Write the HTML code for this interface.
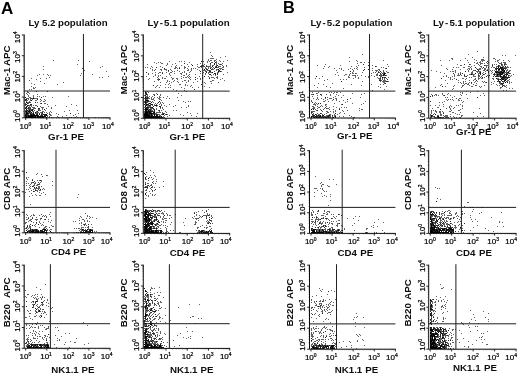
<!DOCTYPE html>
<html><head><meta charset="utf-8"><title>Figure</title>
<style>
html,body{margin:0;padding:0;background:#fff;}
body{width:520px;height:375px;overflow:hidden;}
svg{display:block;}
text{font-family:"Liberation Sans",sans-serif;fill:#111;}
.tk{font-size:8px;fill:#000;stroke:#000;stroke-width:0.22;}
.lb{font-size:9.7px;font-weight:bold;}
.tt{font-size:9.7px;font-weight:bold;}
.pn{font-size:16.2px;font-weight:bold;fill:#000;}
.ax{stroke:#0a0a0a;stroke-width:1.0;fill:none;}
.tkl{stroke:#111;stroke-width:0.9;fill:none;}
.mkl{stroke:#111;stroke-width:0.5;stroke-opacity:0.55;fill:none;}
.gt{stroke:#202020;stroke-width:1.0;fill:none;}
.dots{stroke:#000;stroke-width:1;stroke-opacity:0.62;fill:none;}
</style></head><body>
<svg width="520" height="375" viewBox="0 0 520 375">
<defs><filter id="soft" filterUnits="userSpaceOnUse" x="0" y="0" width="520" height="375"><feGaussianBlur stdDeviation="0.35"/></filter></defs>
<rect width="520" height="375" fill="#fff"/>
<g filter="url(#soft)">

<text x="0.9" y="13.6" class="pn" textLength="12.3" lengthAdjust="spacingAndGlyphs">A</text>
<text x="282.9" y="13.3" class="pn" textLength="11.8" lengthAdjust="spacingAndGlyphs">B</text>
<g>
<path class="ax" d="M24.2 34.5V117.8H110.4"/>
<path class="tkl" d="M25.70 117.8v2.2M24.2 117.80h-2.4M46.77 117.8v2.2M24.2 97.10h-2.4M67.85 117.8v2.2M24.2 76.40h-2.4M88.92 117.8v2.2M24.2 55.70h-2.4M110.00 117.8v2.2M24.2 35.00h-2.4"/>
<path class="mkl" d="M32.04 117.8v1.2M24.2 111.57h-1.2M35.76 117.8v1.2M24.2 107.92h-1.2M38.39 117.8v1.2M24.2 105.34h-1.2M40.43 117.8v1.2M24.2 103.33h-1.2M42.10 117.8v1.2M24.2 101.69h-1.2M43.51 117.8v1.2M24.2 100.31h-1.2M44.73 117.8v1.2M24.2 99.11h-1.2M45.81 117.8v1.2M24.2 98.05h-1.2M53.12 117.8v1.2M24.2 90.87h-1.2M56.83 117.8v1.2M24.2 87.22h-1.2M59.46 117.8v1.2M24.2 84.64h-1.2M61.51 117.8v1.2M24.2 82.63h-1.2M63.17 117.8v1.2M24.2 80.99h-1.2M64.59 117.8v1.2M24.2 79.61h-1.2M65.81 117.8v1.2M24.2 78.41h-1.2M66.89 117.8v1.2M24.2 77.35h-1.2M74.19 117.8v1.2M24.2 70.17h-1.2M77.91 117.8v1.2M24.2 66.52h-1.2M80.54 117.8v1.2M24.2 63.94h-1.2M82.58 117.8v1.2M24.2 61.93h-1.2M84.25 117.8v1.2M24.2 60.29h-1.2M85.66 117.8v1.2M24.2 58.91h-1.2M86.88 117.8v1.2M24.2 57.71h-1.2M87.96 117.8v1.2M24.2 56.65h-1.2M95.27 117.8v1.2M24.2 49.47h-1.2M98.98 117.8v1.2M24.2 45.82h-1.2M101.61 117.8v1.2M24.2 43.24h-1.2M103.66 117.8v1.2M24.2 41.23h-1.2M105.32 117.8v1.2M24.2 39.59h-1.2M106.74 117.8v1.2M24.2 38.21h-1.2M107.96 117.8v1.2M24.2 37.01h-1.2M109.04 117.8v1.2M24.2 35.95h-1.2"/>
<path class="gt" d="M24.2 91.0H110.0M83.45 34.0V117.8"/>
<text x="19.60" y="128.50" class="tk">10<tspan dy="-2.8" font-size="5">0</tspan></text>
<text transform="translate(20.00 122.00) rotate(-90)" class="tk">10<tspan dy="-2.8" font-size="5">0</tspan></text>
<text x="39.50" y="128.50" class="tk">10<tspan dy="-2.8" font-size="5">1</tspan></text>
<text transform="translate(20.00 102.30) rotate(-90)" class="tk">10<tspan dy="-2.8" font-size="5">1</tspan></text>
<text x="62.20" y="128.50" class="tk">10<tspan dy="-2.8" font-size="5">2</tspan></text>
<text transform="translate(20.00 82.60) rotate(-90)" class="tk">10<tspan dy="-2.8" font-size="5">2</tspan></text>
<text x="82.40" y="128.50" class="tk">10<tspan dy="-2.8" font-size="5">3</tspan></text>
<text transform="translate(20.00 62.90) rotate(-90)" class="tk">10<tspan dy="-2.8" font-size="5">3</tspan></text>
<text x="102.00" y="128.50" class="tk">10<tspan dy="-2.8" font-size="5">4</tspan></text>
<text transform="translate(20.00 43.20) rotate(-90)" class="tk">10<tspan dy="-2.8" font-size="5">4</tspan></text>
<text transform="translate(9.90 95.20) rotate(-90)" class="lb" word-spacing="-0.72" textLength="49.6" lengthAdjust="spacingAndGlyphs">Mac-1 APC</text>
<text x="48.10" y="139.70" class="lb" word-spacing="0.31" textLength="35.9" lengthAdjust="spacingAndGlyphs">Gr-1 PE</text>
<text x="28.40" y="25.9" class="tt" word-spacing="-0.10" textLength="79.2" lengthAdjust="spacingAndGlyphs">Ly 5.2 population</text>
<path class="dots" d="M31 104.5h1M30 97.5h1M33 97.5h1M27 91.5h1M25 116.5h1M50 111.5h1M30 111.5h1M28 111.5h1M30 104.5h1M28 109.5h1M33 112.5h1M35 102.5h1M42 113.5h1M27 111.5h1M32 110.5h1M28 117.5h1M33 115.5h1M26 117.5h1M26 98.5h1M36 111.5h1M32 107.5h1M45 110.5h1M29 112.5h1M30 112.5h1M36 112.5h1M30 108.5h1M25 104.5h1M28 115.5h1M34 114.5h1M31 116.5h1M38 115.5h1M25 117.5h1M33 95.5h1M28 113.5h1M38 117.5h1M41 97.5h1M45 116.5h1M26 116.5h1M28 111.5h1M27 105.5h1M35 116.5h1M36 113.5h1M26 117.5h1M35 116.5h1M26 114.5h1M26 116.5h1M33 98.5h1M42 111.5h1M49 113.5h1M31 105.5h1M37 106.5h1M32 116.5h1M33 111.5h1M26 104.5h1M47 113.5h1M33 112.5h1M33 117.5h1M25 117.5h1M35 117.5h1M35 115.5h1M35 117.5h1M30 108.5h1M37 106.5h1M39 116.5h1M31 117.5h1M40 103.5h1M31 117.5h1M32 109.5h1M26 117.5h1M27 113.5h1M43 96.5h1M32 110.5h1M25 114.5h1M37 117.5h1M30 116.5h1M51 117.5h1M33 117.5h1M34 115.5h1M29 117.5h1M25 116.5h1M29 110.5h1M44 109.5h1M27 116.5h1M49 114.5h1M25 107.5h1M33 113.5h1M26 100.5h1M27 116.5h1M39 116.5h1M49 112.5h1M31 98.5h1M38 110.5h1M35 117.5h1M29 107.5h1M45 116.5h1M41 116.5h1M28 99.5h1M32 111.5h1M35 102.5h1M35 116.5h1M26 113.5h1M25 112.5h1M38 108.5h1M37 115.5h1M28 92.5h1M31 115.5h1M28 112.5h1M25 108.5h1M32 117.5h1M36 115.5h1M35 113.5h1M27 92.5h1M27 94.5h1M30 109.5h1M27 115.5h1M30 113.5h1M50 114.5h1M37 113.5h1M30 117.5h1M32 116.5h1M30 102.5h1M35 117.5h1M42 109.5h1M36 115.5h1M36 105.5h1M40 99.5h1M27 106.5h1M31 114.5h1M37 117.5h1M31 110.5h1M45 103.5h1M26 113.5h1M30 98.5h1M28 98.5h1M35 115.5h1M29 93.5h1M33 108.5h1M49 114.5h1M40 116.5h1M35 108.5h1M36 98.5h1M30 116.5h1M28 110.5h1M28 108.5h1M26 117.5h1M46 114.5h1M31 116.5h1M28 96.5h1M37 111.5h1M30 116.5h1M33 114.5h1M47 91.5h1M27 112.5h1M33 109.5h1M26 93.5h1M29 110.5h1M31 110.5h1M28 108.5h1M25 111.5h1M28 95.5h1M41 112.5h1M37 96.5h1M30 107.5h1M27 113.5h1M45 96.5h1M37 117.5h1M29 108.5h1M44 112.5h1M26 117.5h1M26 108.5h1M25 108.5h1M26 111.5h1M29 115.5h1M26 111.5h1M39 108.5h1M25 105.5h1M30 100.5h1M27 113.5h1M33 98.5h1M25 115.5h1M30 99.5h1M51 112.5h1M35 112.5h1M28 107.5h1M39 117.5h1M31 100.5h1M27 112.5h1M41 115.5h1M26 109.5h1M39 96.5h1M43 101.5h1M34 116.5h1M28 117.5h1M43 107.5h1M26 114.5h1M29 109.5h1M37 102.5h1M34 115.5h1M33 107.5h1M32 116.5h1M27 110.5h1M31 98.5h1M38 109.5h1M27 103.5h1M39 110.5h1M50 115.5h1M33 113.5h1M28 115.5h1M29 109.5h1M32 113.5h1M30 105.5h1M42 112.5h1M34 115.5h1M28 103.5h1M25 117.5h1M28 105.5h1M38 117.5h1M29 113.5h1M47 116.5h1M33 116.5h1M36 100.5h1M39 109.5h1M25 113.5h1M34 117.5h1M26 106.5h1M33 96.5h1M39 113.5h1M30 113.5h1M28 111.5h1M37 113.5h1M30 111.5h1M27 103.5h1M29 111.5h1M31 112.5h1M26 113.5h1M33 116.5h1M51 107.5h1M29 106.5h1M26 116.5h1M38 112.5h1M27 105.5h1M26 112.5h1M26 113.5h1M25 108.5h1M29 102.5h1M32 110.5h1M28 102.5h1M38 110.5h1M32 99.5h1M29 111.5h1M31 106.5h1M37 112.5h1M28 113.5h1M31 114.5h1M27 108.5h1M28 114.5h1M33 98.5h1M31 116.5h1M48 106.5h1M26 116.5h1M44 103.5h1M43 114.5h1M40 99.5h1M41 113.5h1M29 102.5h1M41 100.5h1M31 112.5h1M31 115.5h1M28 105.5h1M34 107.5h1M26 107.5h1M40 101.5h1M42 108.5h1M42 107.5h1M28 107.5h1M39 108.5h1M44 109.5h1M26 114.5h1M29 111.5h1M31 112.5h1M35 112.5h1M29 101.5h1M37 115.5h1M33 113.5h1M40 106.5h1M37 111.5h1M40 112.5h1M31 110.5h1M41 107.5h1M41 103.5h1M41 97.5h1M27 100.5h1M46 108.5h1M38 108.5h1M31 109.5h1M35 112.5h1M37 98.5h1M37 116.5h1M31 113.5h1M31 104.5h1M33 105.5h1M42 112.5h1M35 98.5h1M26 109.5h1M35 105.5h1M30 115.5h1M25 99.5h1M47 115.5h1M32 109.5h1M37 99.5h1M33 98.5h1M26 99.5h1M45 100.5h1M46 112.5h1M29 117.5h1M34 108.5h1M33 116.5h1M29 97.5h1M40 117.5h1M43 111.5h1M42 113.5h1M40 117.5h1M26 107.5h1M30 116.5h1M37 99.5h1M41 103.5h1M34 110.5h1M35 100.5h1M44 101.5h1M26 111.5h1M31 100.5h1M32 98.5h1M47 104.5h1M30 110.5h1M26 99.5h1M34 98.5h1M40 110.5h1M29 116.5h1M44 99.5h1M30 104.5h1M30 115.5h1M37 114.5h1M32 115.5h1M45 114.5h1M32 117.5h1M29 115.5h1M26 115.5h1M32 114.5h1M46 115.5h1M30 115.5h1M35 116.5h1M46 115.5h1M25 115.5h1M31 114.5h1M43 114.5h1M27 115.5h1M45 114.5h1M43 117.5h1M28 115.5h1M38 116.5h1M37 115.5h1M40 116.5h1M32 116.5h1M33 114.5h1M30 117.5h1M31 116.5h1M29 116.5h1M44 114.5h1M44 116.5h1M33 114.5h1M40 116.5h1M36 116.5h1M31 115.5h1M33 115.5h1M46 114.5h1M32 114.5h1M37 116.5h1M45 115.5h1M31 115.5h1M42 116.5h1M28 115.5h1M41 114.5h1M42 116.5h1M43 114.5h1M46 117.5h1M40 117.5h1M46 115.5h1M31 116.5h1M36 115.5h1M30 116.5h1M27 117.5h1M34 115.5h1M40 115.5h1M42 117.5h1M26 116.5h1M45 114.5h1M30 114.5h1M31 114.5h1M43 116.5h1M44 116.5h1M41 116.5h1M32 117.5h1M35 116.5h1M43 116.5h1M33 117.5h1M42 116.5h1M42 117.5h1M35 116.5h1M44 115.5h1M33 115.5h1M41 114.5h1M39 114.5h1M32 115.5h1M36 114.5h1M38 116.5h1M37 114.5h1M28 116.5h1M46 115.5h1M46 114.5h1M26 115.5h1M45 116.5h1M36 115.5h1M28 116.5h1M42 114.5h1M34 117.5h1M40 116.5h1M43 117.5h1M37 116.5h1M26 114.5h1M43 117.5h1M40 116.5h1M44 115.5h1M31 115.5h1M42 115.5h1M44 116.5h1M33 117.5h1M34 114.5h1M32 117.5h1M25 117.5h1M30 116.5h1M32 116.5h1M27 114.5h1M41 115.5h1M34 115.5h1M37 115.5h1M31 115.5h1M33 115.5h1M41 116.5h1M35 117.5h1M38 117.5h1M34 115.5h1M37 115.5h1M44 114.5h1M31 117.5h1M36 114.5h1M40 116.5h1M27 114.5h1M45 115.5h1M36 115.5h1M30 114.5h1M38 115.5h1M39 117.5h1M29 117.5h1M38 116.5h1M33 117.5h1M27 117.5h1M28 116.5h1M35 115.5h1M31 117.5h1M41 116.5h1M28 117.5h1M25 116.5h1M46 117.5h1M32 117.5h1M36 117.5h1M30 117.5h1M30 117.5h1M34 117.5h1M42 117.5h1M26 116.5h1M43 117.5h1M46 117.5h1M37 117.5h1M33 115.5h1M30 114.5h1M29 116.5h1M32 115.5h1M43 117.5h1M25 117.5h1M42 115.5h1M39 114.5h1M26 117.5h1M27 117.5h1M41 117.5h1M39 113.5h1M32 117.5h1M43 117.5h1M30 116.5h1M34 116.5h1M28 117.5h1M27 110.5h1M25 114.5h1M26 104.5h1M26 107.5h1M26 110.5h1M26 112.5h1M25 103.5h1M25 111.5h1M29 105.5h1M26 112.5h1M26 102.5h1M26 110.5h1M26 107.5h1M27 98.5h1M27 102.5h1M26 102.5h1M25 110.5h1M25 100.5h1M26 109.5h1M25 97.5h1M25 99.5h1M25 104.5h1M25 100.5h1M26 106.5h1M26 102.5h1M25 115.5h1M25 97.5h1M26 101.5h1M26 114.5h1M29 112.5h1M64 111.5h1M70 113.5h1M51 108.5h1M77 110.5h1M57 116.5h1M78 113.5h1M70 113.5h1M62 116.5h1M58 114.5h1M49 117.5h1M49 116.5h1M66 115.5h1M71 117.5h1M75 114.5h1M58 117.5h1M76 116.5h1M56 113.5h1M76 105.5h1M75 117.5h1M51 115.5h1M73 115.5h1M69 117.5h1M55 105.5h1M69 110.5h1M71 104.5h1M68 96.5h1M52 97.5h1M66 106.5h1M31 86.5h1M40 81.5h1M35 87.5h1M43 66.5h1M57 84.5h1M47 74.5h1M40 78.5h1M29 89.5h1M31 83.5h1M29 80.5h1M48 75.5h1M36 79.5h1M43 74.5h1M37 94.5h1M43 69.5h1M53 60.5h1M37 75.5h1M39 74.5h1M36 91.5h1M49 77.5h1M34 88.5h1M33 87.5h1M31 78.5h1M31 89.5h1M46 78.5h1M63 82.5h1M34 84.5h1M50 75.5h1M44 83.5h1M33 88.5h1M106 71.5h1M77 64.5h1M78 60.5h1M81 73.5h1M100 67.5h1M108 76.5h1M92 74.5h1M82 68.5h1M84 70.5h1M99 77.5h1M80 75.5h1M102 77.5h1M102 66.5h1M89 61.5h1"/>
</g>
<g>
<path class="ax" d="M143.3 34.5V118.3H230.1"/>
<path class="tkl" d="M144.80 118.3v2.2M143.3 118.30h-2.4M166.03 118.3v2.2M143.3 97.47h-2.4M187.25 118.3v2.2M143.3 76.65h-2.4M208.47 118.3v2.2M143.3 55.83h-2.4M229.70 118.3v2.2M143.3 35.00h-2.4"/>
<path class="mkl" d="M151.19 118.3v1.2M143.3 112.03h-1.2M154.93 118.3v1.2M143.3 108.36h-1.2M157.58 118.3v1.2M143.3 105.76h-1.2M159.64 118.3v1.2M143.3 103.74h-1.2M161.32 118.3v1.2M143.3 102.10h-1.2M162.74 118.3v1.2M143.3 100.70h-1.2M163.97 118.3v1.2M143.3 99.49h-1.2M165.05 118.3v1.2M143.3 98.43h-1.2M172.41 118.3v1.2M143.3 91.21h-1.2M176.15 118.3v1.2M143.3 87.54h-1.2M178.80 118.3v1.2M143.3 84.94h-1.2M180.86 118.3v1.2M143.3 82.92h-1.2M182.54 118.3v1.2M143.3 81.27h-1.2M183.96 118.3v1.2M143.3 79.88h-1.2M185.19 118.3v1.2M143.3 78.67h-1.2M186.28 118.3v1.2M143.3 77.60h-1.2M193.64 118.3v1.2M143.3 70.38h-1.2M197.38 118.3v1.2M143.3 66.71h-1.2M200.03 118.3v1.2M143.3 64.11h-1.2M202.09 118.3v1.2M143.3 62.09h-1.2M203.77 118.3v1.2M143.3 60.45h-1.2M205.19 118.3v1.2M143.3 59.05h-1.2M206.42 118.3v1.2M143.3 57.84h-1.2M207.50 118.3v1.2M143.3 56.78h-1.2M214.86 118.3v1.2M143.3 49.56h-1.2M218.60 118.3v1.2M143.3 45.89h-1.2M221.25 118.3v1.2M143.3 43.29h-1.2M223.31 118.3v1.2M143.3 41.27h-1.2M224.99 118.3v1.2M143.3 39.62h-1.2M226.41 118.3v1.2M143.3 38.23h-1.2M227.64 118.3v1.2M143.3 37.02h-1.2M228.73 118.3v1.2M143.3 35.95h-1.2"/>
<path class="gt" d="M143.3 91.1H229.7M202.7 34.0V118.3"/>
<text x="138.70" y="129.00" class="tk">10<tspan dy="-2.8" font-size="5">0</tspan></text>
<text transform="translate(139.10 121.20) rotate(-90)" class="tk">10<tspan dy="-2.8" font-size="5">0</tspan></text>
<text x="158.60" y="129.00" class="tk">10<tspan dy="-2.8" font-size="5">1</tspan></text>
<text transform="translate(139.10 101.50) rotate(-90)" class="tk">10<tspan dy="-2.8" font-size="5">1</tspan></text>
<text x="181.30" y="129.00" class="tk">10<tspan dy="-2.8" font-size="5">2</tspan></text>
<text transform="translate(139.10 81.80) rotate(-90)" class="tk">10<tspan dy="-2.8" font-size="5">2</tspan></text>
<text x="201.50" y="129.00" class="tk">10<tspan dy="-2.8" font-size="5">3</tspan></text>
<text transform="translate(139.10 62.10) rotate(-90)" class="tk">10<tspan dy="-2.8" font-size="5">3</tspan></text>
<text x="221.10" y="129.00" class="tk">10<tspan dy="-2.8" font-size="5">4</tspan></text>
<text transform="translate(139.10 42.40) rotate(-90)" class="tk">10<tspan dy="-2.8" font-size="5">4</tspan></text>
<text transform="translate(127.00 94.40) rotate(-90)" class="lb" word-spacing="-0.72" textLength="49.6" lengthAdjust="spacingAndGlyphs">Mac-1 APC</text>
<text x="169.40" y="140.30" class="lb" word-spacing="0.26" textLength="35.8" lengthAdjust="spacingAndGlyphs">Gr-1 PE</text>
<text x="147.60" y="25.9" class="tt" word-spacing="-0.15" textLength="82.0" lengthAdjust="spacingAndGlyphs">Ly<tspan dx="1.1">-</tspan><tspan dx="1.1">5.1</tspan> population</text>
<path class="dots" d="M145 117.5h1M146 109.5h1M158 117.5h1M159 116.5h1M152 99.5h1M149 115.5h1M149 116.5h1M146 117.5h1M149 111.5h1M145 111.5h1M144 115.5h1M152 117.5h1M150 113.5h1M150 111.5h1M149 101.5h1M150 106.5h1M146 107.5h1M156 109.5h1M163 103.5h1M148 101.5h1M150 105.5h1M150 114.5h1M147 113.5h1M149 113.5h1M146 114.5h1M153 113.5h1M144 113.5h1M144 114.5h1M152 113.5h1M147 112.5h1M159 112.5h1M153 108.5h1M155 113.5h1M160 106.5h1M146 114.5h1M154 105.5h1M160 115.5h1M145 102.5h1M145 114.5h1M148 117.5h1M147 107.5h1M154 111.5h1M145 117.5h1M146 115.5h1M150 117.5h1M147 98.5h1M148 116.5h1M147 108.5h1M146 93.5h1M147 108.5h1M151 116.5h1M159 117.5h1M157 116.5h1M145 112.5h1M146 117.5h1M151 113.5h1M153 98.5h1M149 109.5h1M145 108.5h1M144 114.5h1M145 106.5h1M150 103.5h1M151 117.5h1M148 114.5h1M163 117.5h1M146 102.5h1M147 117.5h1M149 111.5h1M155 116.5h1M153 112.5h1M159 116.5h1M148 115.5h1M147 97.5h1M147 112.5h1M147 109.5h1M145 114.5h1M148 115.5h1M149 111.5h1M148 117.5h1M152 115.5h1M148 115.5h1M151 102.5h1M146 111.5h1M150 116.5h1M150 113.5h1M154 109.5h1M159 104.5h1M147 117.5h1M150 101.5h1M147 98.5h1M150 111.5h1M153 108.5h1M145 92.5h1M149 117.5h1M152 117.5h1M146 96.5h1M156 117.5h1M147 117.5h1M146 117.5h1M148 115.5h1M151 114.5h1M145 108.5h1M146 109.5h1M145 117.5h1M153 106.5h1M146 113.5h1M152 108.5h1M148 116.5h1M147 114.5h1M146 117.5h1M157 115.5h1M146 114.5h1M147 112.5h1M156 116.5h1M152 117.5h1M146 103.5h1M159 110.5h1M146 117.5h1M147 117.5h1M156 113.5h1M152 116.5h1M158 116.5h1M146 109.5h1M154 97.5h1M158 114.5h1M152 105.5h1M152 115.5h1M147 115.5h1M154 117.5h1M157 105.5h1M150 109.5h1M152 117.5h1M163 113.5h1M145 117.5h1M151 117.5h1M148 117.5h1M146 108.5h1M147 116.5h1M158 110.5h1M146 109.5h1M151 114.5h1M147 115.5h1M145 110.5h1M150 110.5h1M150 115.5h1M145 115.5h1M150 105.5h1M149 103.5h1M148 115.5h1M161 114.5h1M145 115.5h1M145 93.5h1M149 114.5h1M157 112.5h1M150 110.5h1M149 109.5h1M149 116.5h1M145 117.5h1M145 115.5h1M154 115.5h1M147 113.5h1M145 113.5h1M145 114.5h1M145 110.5h1M149 117.5h1M148 110.5h1M148 110.5h1M148 115.5h1M145 112.5h1M149 115.5h1M153 106.5h1M151 114.5h1M144 115.5h1M148 104.5h1M164 105.5h1M154 112.5h1M151 114.5h1M155 114.5h1M156 115.5h1M146 109.5h1M151 104.5h1M165 111.5h1M148 110.5h1M148 117.5h1M147 114.5h1M159 96.5h1M147 116.5h1M153 116.5h1M162 107.5h1M166 114.5h1M145 117.5h1M148 115.5h1M149 117.5h1M146 114.5h1M154 95.5h1M145 109.5h1M166 106.5h1M145 109.5h1M151 116.5h1M146 117.5h1M149 117.5h1M150 109.5h1M146 116.5h1M146 104.5h1M144 115.5h1M146 117.5h1M151 102.5h1M146 108.5h1M144 117.5h1M149 115.5h1M148 111.5h1M149 114.5h1M158 117.5h1M150 112.5h1M147 104.5h1M160 112.5h1M145 114.5h1M154 114.5h1M148 117.5h1M156 104.5h1M146 117.5h1M159 106.5h1M146 99.5h1M156 114.5h1M146 114.5h1M152 111.5h1M148 115.5h1M149 113.5h1M149 112.5h1M145 102.5h1M151 109.5h1M147 117.5h1M147 116.5h1M150 117.5h1M150 116.5h1M153 102.5h1M148 105.5h1M148 115.5h1M154 115.5h1M151 107.5h1M150 113.5h1M147 114.5h1M147 95.5h1M164 117.5h1M160 106.5h1M146 112.5h1M147 96.5h1M148 114.5h1M146 111.5h1M154 116.5h1M149 111.5h1M148 113.5h1M145 113.5h1M145 116.5h1M149 112.5h1M148 92.5h1M146 116.5h1M155 103.5h1M157 116.5h1M159 117.5h1M150 113.5h1M159 111.5h1M145 92.5h1M156 117.5h1M149 110.5h1M148 107.5h1M163 113.5h1M145 106.5h1M145 116.5h1M154 113.5h1M155 117.5h1M148 106.5h1M149 117.5h1M150 117.5h1M158 102.5h1M151 111.5h1M145 114.5h1M146 117.5h1M161 116.5h1M151 104.5h1M148 115.5h1M145 110.5h1M144 113.5h1M145 115.5h1M159 116.5h1M152 113.5h1M146 110.5h1M151 110.5h1M144 114.5h1M157 117.5h1M164 113.5h1M145 106.5h1M146 117.5h1M144 111.5h1M145 108.5h1M147 106.5h1M148 116.5h1M146 116.5h1M155 105.5h1M152 107.5h1M145 91.5h1M147 112.5h1M149 116.5h1M145 114.5h1M147 111.5h1M161 116.5h1M148 98.5h1M152 107.5h1M156 117.5h1M151 113.5h1M157 116.5h1M147 112.5h1M145 117.5h1M145 115.5h1M152 113.5h1M145 116.5h1M145 98.5h1M147 105.5h1M150 107.5h1M152 117.5h1M145 114.5h1M147 97.5h1M145 117.5h1M145 117.5h1M146 113.5h1M145 112.5h1M149 96.5h1M149 105.5h1M146 102.5h1M148 101.5h1M154 111.5h1M149 112.5h1M148 112.5h1M146 116.5h1M148 117.5h1M144 117.5h1M145 116.5h1M146 100.5h1M146 113.5h1M151 115.5h1M155 116.5h1M146 116.5h1M146 100.5h1M149 117.5h1M146 116.5h1M145 115.5h1M161 110.5h1M152 107.5h1M152 101.5h1M148 111.5h1M146 115.5h1M149 116.5h1M146 117.5h1M145 103.5h1M148 108.5h1M148 115.5h1M149 103.5h1M156 105.5h1M147 117.5h1M153 112.5h1M150 104.5h1M147 109.5h1M146 117.5h1M153 116.5h1M157 97.5h1M158 117.5h1M148 113.5h1M148 107.5h1M146 104.5h1M150 117.5h1M145 117.5h1M153 109.5h1M147 115.5h1M145 113.5h1M147 113.5h1M151 117.5h1M156 108.5h1M150 117.5h1M156 116.5h1M166 114.5h1M146 115.5h1M157 94.5h1M150 108.5h1M146 109.5h1M148 117.5h1M149 112.5h1M147 114.5h1M145 117.5h1M145 109.5h1M144 117.5h1M146 107.5h1M162 117.5h1M151 111.5h1M153 113.5h1M145 110.5h1M150 117.5h1M144 112.5h1M158 102.5h1M151 117.5h1M148 114.5h1M145 109.5h1M150 117.5h1M149 105.5h1M147 104.5h1M152 104.5h1M151 98.5h1M150 103.5h1M167 114.5h1M153 112.5h1M154 112.5h1M151 115.5h1M163 114.5h1M151 114.5h1M156 112.5h1M145 103.5h1M146 113.5h1M145 105.5h1M145 115.5h1M155 105.5h1M152 117.5h1M145 113.5h1M155 116.5h1M152 111.5h1M147 100.5h1M159 114.5h1M146 93.5h1M145 114.5h1M145 117.5h1M151 116.5h1M165 114.5h1M144 115.5h1M145 115.5h1M151 115.5h1M148 112.5h1M156 114.5h1M159 110.5h1M157 114.5h1M151 113.5h1M144 117.5h1M145 102.5h1M167 116.5h1M154 113.5h1M146 101.5h1M147 107.5h1M146 111.5h1M154 95.5h1M146 117.5h1M150 114.5h1M147 113.5h1M145 116.5h1M159 98.5h1M149 106.5h1M147 112.5h1M148 110.5h1M150 112.5h1M146 100.5h1M152 110.5h1M154 100.5h1M150 107.5h1M149 117.5h1M145 97.5h1M145 116.5h1M150 111.5h1M145 114.5h1M149 115.5h1M146 112.5h1M153 114.5h1M147 116.5h1M153 111.5h1M145 101.5h1M149 98.5h1M148 104.5h1M154 110.5h1M153 112.5h1M161 116.5h1M151 116.5h1M146 112.5h1M166 112.5h1M164 115.5h1M154 114.5h1M162 117.5h1M156 106.5h1M148 109.5h1M162 112.5h1M146 110.5h1M149 107.5h1M161 105.5h1M156 105.5h1M151 99.5h1M160 97.5h1M157 94.5h1M147 101.5h1M149 111.5h1M160 103.5h1M160 107.5h1M146 112.5h1M154 109.5h1M158 112.5h1M151 104.5h1M145 116.5h1M152 104.5h1M162 108.5h1M158 117.5h1M148 111.5h1M160 94.5h1M157 103.5h1M150 116.5h1M149 103.5h1M148 100.5h1M152 114.5h1M151 108.5h1M150 112.5h1M161 104.5h1M159 97.5h1M154 112.5h1M163 114.5h1M157 114.5h1M162 102.5h1M160 116.5h1M156 105.5h1M158 98.5h1M159 99.5h1M159 101.5h1M161 117.5h1M151 107.5h1M151 112.5h1M149 105.5h1M162 114.5h1M162 114.5h1M153 94.5h1M152 96.5h1M147 115.5h1M163 97.5h1M157 116.5h1M163 109.5h1M156 93.5h1M154 94.5h1M159 106.5h1M161 100.5h1M160 108.5h1M151 97.5h1M154 110.5h1M162 113.5h1M154 114.5h1M160 102.5h1M154 104.5h1M160 95.5h1M146 114.5h1M144 98.5h1M146 94.5h1M153 99.5h1M151 115.5h1M163 114.5h1M163 116.5h1M147 109.5h1M160 99.5h1M154 114.5h1M160 107.5h1M151 117.5h1M159 101.5h1M146 117.5h1M156 116.5h1M153 116.5h1M147 117.5h1M155 117.5h1M149 117.5h1M152 117.5h1M153 117.5h1M148 117.5h1M150 117.5h1M156 117.5h1M157 117.5h1M157 117.5h1M153 117.5h1M157 115.5h1M146 116.5h1M159 116.5h1M145 116.5h1M158 117.5h1M156 117.5h1M150 117.5h1M156 115.5h1M159 115.5h1M147 116.5h1M154 116.5h1M144 115.5h1M154 115.5h1M145 117.5h1M154 115.5h1M145 116.5h1M150 117.5h1M157 117.5h1M149 117.5h1M159 116.5h1M151 115.5h1M147 115.5h1M158 117.5h1M147 117.5h1M153 117.5h1M158 117.5h1M158 117.5h1M153 116.5h1M147 117.5h1M152 116.5h1M149 117.5h1M149 115.5h1M149 116.5h1M147 117.5h1M145 115.5h1M155 117.5h1M144 116.5h1M153 117.5h1M150 116.5h1M154 117.5h1M153 117.5h1M151 117.5h1M156 115.5h1M153 117.5h1M158 117.5h1M153 117.5h1M157 117.5h1M157 117.5h1M155 117.5h1M149 116.5h1M152 116.5h1M145 117.5h1M155 116.5h1M154 115.5h1M156 117.5h1M146 117.5h1M155 117.5h1M151 116.5h1M158 116.5h1M144 117.5h1M153 116.5h1M150 117.5h1M148 117.5h1M159 117.5h1M148 117.5h1M158 117.5h1M159 116.5h1M161 117.5h1M146 117.5h1M147 117.5h1M146 117.5h1M150 117.5h1M160 117.5h1M155 117.5h1M147 116.5h1M146 117.5h1M157 117.5h1M155 117.5h1M144 116.5h1M154 117.5h1M148 117.5h1M149 116.5h1M146 117.5h1M161 116.5h1M152 117.5h1M155 117.5h1M148 117.5h1M151 116.5h1M155 117.5h1M157 117.5h1M160 117.5h1M149 113.5h1M148 117.5h1M151 117.5h1M150 116.5h1M158 117.5h1M145 106.5h1M145 110.5h1M146 114.5h1M147 94.5h1M145 109.5h1M145 97.5h1M146 94.5h1M145 110.5h1M144 117.5h1M144 104.5h1M147 111.5h1M146 94.5h1M147 113.5h1M146 98.5h1M145 117.5h1M147 110.5h1M145 112.5h1M145 95.5h1M145 102.5h1M145 100.5h1M146 116.5h1M144 109.5h1M145 94.5h1M147 101.5h1M146 97.5h1M145 104.5h1M147 112.5h1M145 93.5h1M145 111.5h1M145 113.5h1M147 100.5h1M145 115.5h1M145 97.5h1M145 99.5h1M145 107.5h1M146 104.5h1M146 105.5h1M146 116.5h1M147 116.5h1M146 108.5h1M146 117.5h1M145 113.5h1M145 108.5h1M145 101.5h1M147 104.5h1M145 113.5h1M145 97.5h1M145 96.5h1M147 100.5h1M147 99.5h1M146 111.5h1M144 95.5h1M145 102.5h1M145 113.5h1M145 99.5h1M145 101.5h1M145 102.5h1M146 105.5h1M148 97.5h1M146 98.5h1M147 102.5h1M145 116.5h1M145 112.5h1M147 91.5h1M144 107.5h1M145 101.5h1M144 114.5h1M144 102.5h1M144 101.5h1M145 97.5h1M145 92.5h1M145 105.5h1M145 109.5h1M145 113.5h1M147 109.5h1M145 106.5h1M146 92.5h1M144 104.5h1M148 100.5h1M145 98.5h1M147 117.5h1M145 111.5h1M148 103.5h1M145 116.5h1M144 114.5h1M145 97.5h1M145 100.5h1M145 114.5h1M146 115.5h1M145 95.5h1M181 95.5h1M176 110.5h1M188 105.5h1M187 112.5h1M197 113.5h1M169 115.5h1M190 113.5h1M180 114.5h1M173 106.5h1M181 107.5h1M166 98.5h1M169 98.5h1M169 104.5h1M188 101.5h1M188 106.5h1M173 110.5h1M175 105.5h1M190 101.5h1M178 93.5h1M177 97.5h1M196 116.5h1M183 101.5h1M183 115.5h1M185 102.5h1M167 96.5h1M178 100.5h1M191 115.5h1M186 107.5h1M157 77.5h1M185 67.5h1M188 80.5h1M189 74.5h1M167 64.5h1M181 61.5h1M158 62.5h1M201 67.5h1M201 65.5h1M147 64.5h1M179 71.5h1M188 81.5h1M159 87.5h1M147 67.5h1M145 67.5h1M187 68.5h1M146 72.5h1M168 70.5h1M193 68.5h1M148 73.5h1M187 70.5h1M171 82.5h1M169 73.5h1M174 71.5h1M166 72.5h1M197 81.5h1M185 84.5h1M168 70.5h1M153 85.5h1M175 66.5h1M205 83.5h1M198 67.5h1M149 78.5h1M167 63.5h1M173 81.5h1M169 83.5h1M152 69.5h1M156 67.5h1M177 78.5h1M188 75.5h1M188 70.5h1M185 80.5h1M185 77.5h1M146 72.5h1M158 79.5h1M165 84.5h1M161 63.5h1M168 84.5h1M169 61.5h1M166 65.5h1M146 76.5h1M197 64.5h1M202 86.5h1M182 72.5h1M162 78.5h1M172 79.5h1M200 63.5h1M181 87.5h1M187 64.5h1M187 85.5h1M204 69.5h1M184 80.5h1M152 73.5h1M175 63.5h1M200 66.5h1M153 85.5h1M148 79.5h1M148 74.5h1M150 68.5h1M155 87.5h1M191 64.5h1M181 65.5h1M189 62.5h1M178 82.5h1M166 82.5h1M192 65.5h1M155 74.5h1M167 81.5h1M170 87.5h1M186 82.5h1M191 69.5h1M179 68.5h1M181 78.5h1M162 63.5h1M181 74.5h1M195 74.5h1M171 77.5h1M190 77.5h1M176 78.5h1M176 65.5h1M181 76.5h1M154 81.5h1M158 76.5h1M156 63.5h1M177 70.5h1M185 85.5h1M187 76.5h1M158 75.5h1M165 87.5h1M154 62.5h1M184 63.5h1M170 85.5h1M162 73.5h1M159 79.5h1M202 82.5h1M174 80.5h1M204 86.5h1M164 69.5h1M158 78.5h1M188 69.5h1M200 66.5h1M155 72.5h1M197 78.5h1M180 84.5h1M199 70.5h1M202 69.5h1M171 66.5h1M201 84.5h1M156 86.5h1M172 64.5h1M172 71.5h1M160 85.5h1M174 68.5h1M190 86.5h1M152 70.5h1M174 73.5h1M177 68.5h1M157 85.5h1M184 63.5h1M160 62.5h1M179 61.5h1M179 67.5h1M190 79.5h1M201 61.5h1M200 71.5h1M175 68.5h1M161 70.5h1M160 82.5h1M192 65.5h1M191 70.5h1M193 82.5h1M195 77.5h1M179 84.5h1M199 76.5h1M184 61.5h1M183 77.5h1M195 77.5h1M184 66.5h1M191 85.5h1M201 84.5h1M191 68.5h1M158 80.5h1M184 67.5h1M195 79.5h1M181 73.5h1M155 69.5h1M162 73.5h1M180 73.5h1M202 75.5h1M186 77.5h1M188 66.5h1M183 75.5h1M168 71.5h1M184 72.5h1M151 66.5h1M173 78.5h1M195 79.5h1M162 67.5h1M186 73.5h1M190 71.5h1M159 72.5h1M197 69.5h1M164 68.5h1M203 70.5h1M169 81.5h1M184 68.5h1M202 81.5h1M195 68.5h1M177 81.5h1M161 69.5h1M184 71.5h1M182 81.5h1M154 70.5h1M171 72.5h1M200 79.5h1M179 68.5h1M160 72.5h1M186 74.5h1M175 67.5h1M200 78.5h1M177 79.5h1M152 67.5h1M159 79.5h1M160 69.5h1M202 78.5h1M170 69.5h1M170 75.5h1M203 72.5h1M162 72.5h1M184 75.5h1M202 73.5h1M200 71.5h1M159 79.5h1M176 67.5h1M164 68.5h1M189 78.5h1M164 78.5h1M160 75.5h1M165 69.5h1M158 73.5h1M189 76.5h1M166 69.5h1M172 78.5h1M166 70.5h1M171 70.5h1M167 80.5h1M170 72.5h1M189 72.5h1M160 66.5h1M188 77.5h1M169 74.5h1M156 67.5h1M157 79.5h1M199 67.5h1M153 76.5h1M166 76.5h1M197 66.5h1M155 75.5h1M162 77.5h1M165 78.5h1M211 69.5h1M214 73.5h1M204 76.5h1M201 66.5h1M209 61.5h1M210 71.5h1M205 67.5h1M203 61.5h1M217 73.5h1M209 71.5h1M204 76.5h1M227 60.5h1M215 67.5h1M212 72.5h1M217 78.5h1M209 70.5h1M223 61.5h1M205 71.5h1M206 72.5h1M213 65.5h1M209 77.5h1M222 67.5h1M204 66.5h1M209 74.5h1M215 73.5h1M217 67.5h1M219 68.5h1M216 70.5h1M226 66.5h1M211 67.5h1M215 74.5h1M218 72.5h1M212 66.5h1M212 62.5h1M211 60.5h1M210 74.5h1M207 62.5h1M210 64.5h1M205 70.5h1M216 65.5h1M204 64.5h1M225 56.5h1M223 74.5h1M220 64.5h1M212 69.5h1M210 70.5h1M220 61.5h1M214 63.5h1M217 74.5h1M209 71.5h1M220 66.5h1M209 78.5h1M214 63.5h1M204 70.5h1M210 68.5h1M216 66.5h1M211 58.5h1M211 69.5h1M218 70.5h1M213 58.5h1M221 71.5h1M200 73.5h1M217 77.5h1M216 61.5h1M205 68.5h1M206 66.5h1M218 67.5h1M207 70.5h1M210 74.5h1M217 73.5h1M212 66.5h1M216 67.5h1M208 59.5h1M215 73.5h1M220 71.5h1M215 75.5h1M201 61.5h1M217 76.5h1M214 64.5h1M208 60.5h1M221 68.5h1M203 65.5h1M224 80.5h1M210 71.5h1M222 78.5h1M213 67.5h1M206 69.5h1M214 73.5h1M215 62.5h1M216 66.5h1M219 71.5h1M208 72.5h1M216 77.5h1M218 69.5h1M212 56.5h1M208 73.5h1M208 66.5h1M218 71.5h1M218 63.5h1M209 66.5h1M206 71.5h1M220 79.5h1M205 73.5h1M214 61.5h1M209 70.5h1M203 66.5h1M214 71.5h1M212 80.5h1M222 65.5h1M226 65.5h1M212 72.5h1M219 70.5h1M219 66.5h1M210 72.5h1M208 67.5h1M223 69.5h1M211 83.5h1M213 69.5h1M212 72.5h1M213 74.5h1M210 66.5h1M218 71.5h1M221 64.5h1M211 62.5h1M206 68.5h1M214 78.5h1M205 74.5h1M210 63.5h1M220 69.5h1M227 72.5h1M216 69.5h1M207 66.5h1M218 66.5h1M201 66.5h1M209 74.5h1M222 69.5h1M218 69.5h1M206 69.5h1M204 82.5h1M218 69.5h1M213 77.5h1M210 60.5h1M216 59.5h1M210 58.5h1M202 65.5h1M218 71.5h1M210 63.5h1M208 70.5h1M206 65.5h1M215 74.5h1M209 72.5h1M217 65.5h1M212 58.5h1M220 68.5h1M211 55.5h1M210 52.5h1M202 77.5h1M207 69.5h1M217 74.5h1M206 72.5h1M207 69.5h1M215 62.5h1M216 62.5h1M210 67.5h1M214 68.5h1M204 69.5h1M212 68.5h1M219 64.5h1M223 67.5h1M212 65.5h1M212 77.5h1M216 63.5h1M220 57.5h1M216 67.5h1M209 78.5h1M215 60.5h1M219 70.5h1M209 87.5h1M206 71.5h1M216 64.5h1M215 66.5h1M219 60.5h1M214 64.5h1M210 68.5h1M211 81.5h1M208 76.5h1M208 68.5h1M210 65.5h1M211 75.5h1M220 71.5h1M206 66.5h1M213 80.5h1M210 81.5h1M222 69.5h1M215 67.5h1M211 72.5h1M218 82.5h1M214 68.5h1M211 77.5h1M222 63.5h1M217 69.5h1M223 66.5h1M220 64.5h1M218 71.5h1M214 63.5h1M207 61.5h1M217 65.5h1M214 60.5h1M217 72.5h1M192 87.5h1M176 90.5h1M186 91.5h1M194 89.5h1M168 87.5h1M198 87.5h1M194 89.5h1M184 90.5h1M184 88.5h1M173 89.5h1"/>
</g>
<g>
<path class="ax" d="M309.5 34.5V118.0H395.79999999999995"/>
<path class="tkl" d="M311.00 118.0v2.2M309.5 118.00h-2.4M332.10 118.0v2.2M309.5 97.25h-2.4M353.20 118.0v2.2M309.5 76.50h-2.4M374.30 118.0v2.2M309.5 55.75h-2.4M395.40 118.0v2.2M309.5 35.00h-2.4"/>
<path class="mkl" d="M317.35 118.0v1.2M309.5 111.75h-1.2M321.07 118.0v1.2M309.5 108.10h-1.2M323.70 118.0v1.2M309.5 105.51h-1.2M325.75 118.0v1.2M309.5 103.50h-1.2M327.42 118.0v1.2M309.5 101.85h-1.2M328.83 118.0v1.2M309.5 100.46h-1.2M330.06 118.0v1.2M309.5 99.26h-1.2M331.13 118.0v1.2M309.5 98.20h-1.2M338.45 118.0v1.2M309.5 91.00h-1.2M342.17 118.0v1.2M309.5 87.35h-1.2M344.80 118.0v1.2M309.5 84.76h-1.2M346.85 118.0v1.2M309.5 82.75h-1.2M348.52 118.0v1.2M309.5 81.10h-1.2M349.93 118.0v1.2M309.5 79.71h-1.2M351.16 118.0v1.2M309.5 78.51h-1.2M352.23 118.0v1.2M309.5 77.45h-1.2M359.55 118.0v1.2M309.5 70.25h-1.2M363.27 118.0v1.2M309.5 66.60h-1.2M365.90 118.0v1.2M309.5 64.01h-1.2M367.95 118.0v1.2M309.5 62.00h-1.2M369.62 118.0v1.2M309.5 60.35h-1.2M371.03 118.0v1.2M309.5 58.96h-1.2M372.26 118.0v1.2M309.5 57.76h-1.2M373.33 118.0v1.2M309.5 56.70h-1.2M380.65 118.0v1.2M309.5 49.50h-1.2M384.37 118.0v1.2M309.5 45.85h-1.2M387.00 118.0v1.2M309.5 43.26h-1.2M389.05 118.0v1.2M309.5 41.25h-1.2M390.72 118.0v1.2M309.5 39.60h-1.2M392.13 118.0v1.2M309.5 38.21h-1.2M393.36 118.0v1.2M309.5 37.01h-1.2M394.43 118.0v1.2M309.5 35.95h-1.2"/>
<path class="gt" d="M309.5 91.1H395.4M369.5 34.0V118.0"/>
<text x="304.90" y="128.70" class="tk">10<tspan dy="-2.8" font-size="5">0</tspan></text>
<text transform="translate(305.30 122.30) rotate(-90)" class="tk">10<tspan dy="-2.8" font-size="5">0</tspan></text>
<text x="324.80" y="128.70" class="tk">10<tspan dy="-2.8" font-size="5">1</tspan></text>
<text transform="translate(305.30 102.60) rotate(-90)" class="tk">10<tspan dy="-2.8" font-size="5">1</tspan></text>
<text x="347.50" y="128.70" class="tk">10<tspan dy="-2.8" font-size="5">2</tspan></text>
<text transform="translate(305.30 82.90) rotate(-90)" class="tk">10<tspan dy="-2.8" font-size="5">2</tspan></text>
<text x="367.70" y="128.70" class="tk">10<tspan dy="-2.8" font-size="5">3</tspan></text>
<text transform="translate(305.30 63.20) rotate(-90)" class="tk">10<tspan dy="-2.8" font-size="5">3</tspan></text>
<text x="387.30" y="128.70" class="tk">10<tspan dy="-2.8" font-size="5">4</tspan></text>
<text transform="translate(305.30 43.50) rotate(-90)" class="tk">10<tspan dy="-2.8" font-size="5">4</tspan></text>
<text transform="translate(292.70 95.20) rotate(-90)" class="lb" word-spacing="0.08" textLength="50.4" lengthAdjust="spacingAndGlyphs">Mac-1 APC</text>
<text x="336.90" y="139.40" class="lb" word-spacing="0.01" textLength="35.6" lengthAdjust="spacingAndGlyphs">Gr-1 PE</text>
<text x="310.40" y="25.9" class="tt" word-spacing="-0.15" textLength="82.0" lengthAdjust="spacingAndGlyphs">Ly<tspan dx="1.1">-</tspan><tspan dx="1.1">5.2</tspan> population</text>
<path class="dots" d="M315 114.5h1M335 115.5h1M329 115.5h1M327 111.5h1M328 112.5h1M333 117.5h1M322 106.5h1M334 116.5h1M318 115.5h1M313 104.5h1M313 117.5h1M326 108.5h1M311 117.5h1M319 117.5h1M318 117.5h1M320 113.5h1M319 117.5h1M325 97.5h1M315 114.5h1M316 103.5h1M319 107.5h1M321 110.5h1M317 115.5h1M325 107.5h1M326 117.5h1M316 99.5h1M312 108.5h1M311 113.5h1M313 113.5h1M318 115.5h1M312 116.5h1M313 109.5h1M320 116.5h1M314 108.5h1M313 116.5h1M327 108.5h1M318 116.5h1M312 102.5h1M330 98.5h1M320 103.5h1M330 116.5h1M328 101.5h1M311 94.5h1M317 110.5h1M320 115.5h1M317 108.5h1M311 109.5h1M315 116.5h1M314 111.5h1M328 116.5h1M313 116.5h1M322 115.5h1M320 94.5h1M339 113.5h1M316 116.5h1M313 114.5h1M334 114.5h1M317 97.5h1M314 115.5h1M316 110.5h1M322 114.5h1M333 111.5h1M312 111.5h1M313 107.5h1M313 98.5h1M323 109.5h1M317 113.5h1M311 112.5h1M311 109.5h1M311 112.5h1M320 103.5h1M314 117.5h1M330 111.5h1M327 112.5h1M314 103.5h1M312 115.5h1M318 107.5h1M332 115.5h1M335 116.5h1M322 111.5h1M333 106.5h1M323 115.5h1M341 104.5h1M334 103.5h1M321 105.5h1M339 116.5h1M336 99.5h1M317 104.5h1M318 103.5h1M311 100.5h1M336 94.5h1M313 106.5h1M320 94.5h1M335 113.5h1M320 106.5h1M320 113.5h1M313 108.5h1M312 94.5h1M329 92.5h1M315 105.5h1M342 110.5h1M311 109.5h1M321 94.5h1M317 106.5h1M340 112.5h1M335 96.5h1M314 104.5h1M312 106.5h1M313 94.5h1M335 98.5h1M335 117.5h1M331 92.5h1M326 106.5h1M326 113.5h1M330 94.5h1M314 107.5h1M336 100.5h1M336 98.5h1M333 112.5h1M318 92.5h1M318 103.5h1M343 116.5h1M342 104.5h1M335 117.5h1M336 92.5h1M325 100.5h1M339 108.5h1M333 97.5h1M325 97.5h1M333 99.5h1M313 111.5h1M323 115.5h1M338 95.5h1M326 94.5h1M329 109.5h1M329 107.5h1M341 107.5h1M317 110.5h1M333 93.5h1M325 104.5h1M318 99.5h1M312 102.5h1M330 115.5h1M317 116.5h1M330 114.5h1M325 105.5h1M324 101.5h1M340 92.5h1M313 94.5h1M329 98.5h1M324 108.5h1M315 109.5h1M323 99.5h1M339 109.5h1M317 98.5h1M333 99.5h1M319 114.5h1M327 97.5h1M329 115.5h1M313 109.5h1M337 92.5h1M323 101.5h1M317 95.5h1M317 93.5h1M343 111.5h1M341 97.5h1M326 108.5h1M319 116.5h1M334 115.5h1M312 114.5h1M339 101.5h1M311 101.5h1M312 96.5h1M321 110.5h1M325 98.5h1M311 111.5h1M320 109.5h1M343 100.5h1M336 107.5h1M312 92.5h1M339 109.5h1M326 111.5h1M343 95.5h1M321 95.5h1M321 113.5h1M333 109.5h1M326 104.5h1M320 116.5h1M328 108.5h1M331 98.5h1M321 98.5h1M337 114.5h1M335 110.5h1M335 111.5h1M332 100.5h1M318 114.5h1M334 92.5h1M316 114.5h1M315 104.5h1M327 99.5h1M316 93.5h1M315 102.5h1M330 95.5h1M342 104.5h1M312 112.5h1M320 115.5h1M325 117.5h1M323 116.5h1M329 114.5h1M323 115.5h1M319 115.5h1M322 116.5h1M323 117.5h1M311 116.5h1M318 115.5h1M324 117.5h1M327 115.5h1M320 116.5h1M328 115.5h1M322 116.5h1M319 116.5h1M316 117.5h1M329 116.5h1M332 115.5h1M327 116.5h1M316 115.5h1M327 116.5h1M322 117.5h1M332 116.5h1M311 116.5h1M328 116.5h1M321 117.5h1M330 117.5h1M325 116.5h1M311 117.5h1M327 117.5h1M323 117.5h1M316 116.5h1M313 115.5h1M320 115.5h1M324 116.5h1M322 115.5h1M311 116.5h1M314 117.5h1M326 115.5h1M323 115.5h1M328 115.5h1M320 115.5h1M316 115.5h1M329 115.5h1M316 117.5h1M312 114.5h1M319 116.5h1M321 116.5h1M315 116.5h1M333 117.5h1M316 117.5h1M313 115.5h1M326 116.5h1M314 115.5h1M317 117.5h1M320 116.5h1M317 116.5h1M326 117.5h1M314 116.5h1M320 117.5h1M321 117.5h1M315 117.5h1M326 117.5h1M328 117.5h1M333 117.5h1M332 117.5h1M335 113.5h1M335 116.5h1M328 117.5h1M318 117.5h1M324 114.5h1M313 117.5h1M325 117.5h1M318 115.5h1M324 116.5h1M329 117.5h1M312 116.5h1M333 117.5h1M311 117.5h1M359 108.5h1M346 107.5h1M354 117.5h1M347 110.5h1M359 110.5h1M347 101.5h1M347 99.5h1M350 98.5h1M365 101.5h1M361 94.5h1M352 103.5h1M361 109.5h1M351 116.5h1M347 99.5h1M363 103.5h1M344 113.5h1M361 104.5h1M364 93.5h1M345 102.5h1M362 109.5h1M360 97.5h1M344 107.5h1M353 117.5h1M349 115.5h1M352 93.5h1M316 76.5h1M336 70.5h1M315 78.5h1M326 86.5h1M322 76.5h1M323 68.5h1M316 76.5h1M325 64.5h1M335 74.5h1M329 66.5h1M317 87.5h1M337 72.5h1M338 75.5h1M327 79.5h1M324 66.5h1M314 85.5h1M316 76.5h1M324 80.5h1M317 65.5h1M341 69.5h1M332 83.5h1M323 84.5h1M330 87.5h1M318 83.5h1M340 65.5h1M328 67.5h1M334 68.5h1M319 78.5h1M376 70.5h1M349 77.5h1M363 64.5h1M356 60.5h1M349 75.5h1M368 65.5h1M357 61.5h1M348 76.5h1M353 73.5h1M365 76.5h1M345 74.5h1M368 69.5h1M362 72.5h1M353 75.5h1M368 77.5h1M371 75.5h1M361 75.5h1M357 67.5h1M372 70.5h1M369 73.5h1M348 69.5h1M354 68.5h1M354 75.5h1M352 75.5h1M343 70.5h1M364 67.5h1M357 75.5h1M357 69.5h1M368 69.5h1M351 66.5h1M355 76.5h1M358 65.5h1M352 69.5h1M355 77.5h1M363 64.5h1M356 66.5h1M368 76.5h1M349 61.5h1M358 77.5h1M343 79.5h1M355 73.5h1M350 68.5h1M368 65.5h1M363 70.5h1M360 62.5h1M372 65.5h1M369 60.5h1M362 54.5h1M350 71.5h1M343 88.5h1M356 73.5h1M353 78.5h1M350 71.5h1M353 71.5h1M341 81.5h1M369 75.5h1M346 74.5h1M350 73.5h1M361 85.5h1M341 68.5h1M364 69.5h1M364 69.5h1M353 70.5h1M346 79.5h1M352 72.5h1M339 68.5h1M368 62.5h1M356 68.5h1M349 74.5h1M348 77.5h1M361 62.5h1M369 65.5h1M344 75.5h1M351 84.5h1M340 79.5h1M362 81.5h1M357 63.5h1M376 66.5h1M355 75.5h1M352 73.5h1M349 57.5h1M364 62.5h1M341 81.5h1M363 70.5h1M358 78.5h1M376 75.5h1M382 79.5h1M388 77.5h1M386 81.5h1M382 75.5h1M380 80.5h1M382 77.5h1M384 79.5h1M377 75.5h1M376 74.5h1M387 79.5h1M382 78.5h1M386 86.5h1M382 73.5h1M386 81.5h1M380 77.5h1M383 80.5h1M386 75.5h1M384 81.5h1M380 74.5h1M384 73.5h1M379 70.5h1M377 70.5h1M383 75.5h1M385 83.5h1M384 73.5h1M378 71.5h1M384 74.5h1M383 74.5h1M380 76.5h1M374 76.5h1M384 74.5h1M384 73.5h1M383 81.5h1M376 71.5h1M377 74.5h1M384 74.5h1M384 77.5h1M383 73.5h1M381 72.5h1M383 74.5h1M380 81.5h1M380 73.5h1M379 75.5h1M382 81.5h1M380 73.5h1M384 83.5h1M384 74.5h1M379 69.5h1M387 81.5h1M378 72.5h1M383 75.5h1M385 75.5h1M385 83.5h1M375 72.5h1M384 77.5h1M385 75.5h1M386 78.5h1M375 70.5h1M379 75.5h1M381 74.5h1M380 71.5h1M385 77.5h1M379 72.5h1M385 77.5h1M383 75.5h1M377 77.5h1M378 72.5h1M380 71.5h1M382 77.5h1M384 75.5h1M381 75.5h1M384 82.5h1M377 73.5h1M372 68.5h1M380 78.5h1M383 84.5h1M380 75.5h1M378 78.5h1M383 70.5h1M387 79.5h1M381 76.5h1M379 78.5h1M379 75.5h1M387 81.5h1M381 80.5h1M383 77.5h1M385 81.5h1M385 73.5h1M379 80.5h1M384 78.5h1M384 80.5h1M383 82.5h1M384 72.5h1M380 84.5h1M386 68.5h1M379 80.5h1M384 89.5h1M375 66.5h1M386 68.5h1M375 66.5h1M388 66.5h1M371 84.5h1M385 73.5h1M380 78.5h1M385 80.5h1M380 79.5h1M386 71.5h1M383 60.5h1M382 77.5h1M388 81.5h1M373 72.5h1M387 72.5h1M380 80.5h1M383 72.5h1M383 71.5h1M378 69.5h1M380 87.5h1M388 72.5h1M379 79.5h1M387 64.5h1M371 73.5h1M381 67.5h1M383 67.5h1M378 86.5h1M372 90.5h1M385 68.5h1"/>
</g>
<g>
<path class="ax" d="M428.7 34.5V118.2H516.5"/>
<path class="tkl" d="M430.20 118.2v2.2M428.7 118.20h-2.4M451.68 118.2v2.2M428.7 97.40h-2.4M473.15 118.2v2.2M428.7 76.60h-2.4M494.62 118.2v2.2M428.7 55.80h-2.4M516.10 118.2v2.2M428.7 35.00h-2.4"/>
<path class="mkl" d="M436.66 118.2v1.2M428.7 111.94h-1.2M440.45 118.2v1.2M428.7 108.28h-1.2M443.13 118.2v1.2M428.7 105.68h-1.2M445.21 118.2v1.2M428.7 103.66h-1.2M446.91 118.2v1.2M428.7 102.01h-1.2M448.35 118.2v1.2M428.7 100.62h-1.2M449.59 118.2v1.2M428.7 99.42h-1.2M450.69 118.2v1.2M428.7 98.35h-1.2M458.14 118.2v1.2M428.7 91.14h-1.2M461.92 118.2v1.2M428.7 87.48h-1.2M464.60 118.2v1.2M428.7 84.88h-1.2M466.69 118.2v1.2M428.7 82.86h-1.2M468.39 118.2v1.2M428.7 81.21h-1.2M469.82 118.2v1.2M428.7 79.82h-1.2M471.07 118.2v1.2M428.7 78.62h-1.2M472.17 118.2v1.2M428.7 77.55h-1.2M479.61 118.2v1.2M428.7 70.34h-1.2M483.40 118.2v1.2M428.7 66.68h-1.2M486.08 118.2v1.2M428.7 64.08h-1.2M488.16 118.2v1.2M428.7 62.06h-1.2M489.86 118.2v1.2M428.7 60.41h-1.2M491.30 118.2v1.2M428.7 59.02h-1.2M492.54 118.2v1.2M428.7 57.82h-1.2M493.64 118.2v1.2M428.7 56.75h-1.2M501.09 118.2v1.2M428.7 49.54h-1.2M504.87 118.2v1.2M428.7 45.88h-1.2M507.55 118.2v1.2M428.7 43.28h-1.2M509.64 118.2v1.2M428.7 41.26h-1.2M511.34 118.2v1.2M428.7 39.61h-1.2M512.77 118.2v1.2M428.7 38.22h-1.2M514.02 118.2v1.2M428.7 37.02h-1.2M515.12 118.2v1.2M428.7 35.95h-1.2"/>
<path class="gt" d="M428.7 91.1H516.1M488.8 34.0V118.2"/>
<text x="424.10" y="128.90" class="tk">10<tspan dy="-2.8" font-size="5">0</tspan></text>
<text transform="translate(424.50 122.00) rotate(-90)" class="tk">10<tspan dy="-2.8" font-size="5">0</tspan></text>
<text x="444.00" y="128.90" class="tk">10<tspan dy="-2.8" font-size="5">1</tspan></text>
<text transform="translate(424.50 102.30) rotate(-90)" class="tk">10<tspan dy="-2.8" font-size="5">1</tspan></text>
<text x="466.70" y="128.90" class="tk">10<tspan dy="-2.8" font-size="5">2</tspan></text>
<text transform="translate(424.50 82.60) rotate(-90)" class="tk">10<tspan dy="-2.8" font-size="5">2</tspan></text>
<text x="486.90" y="128.90" class="tk">10<tspan dy="-2.8" font-size="5">3</tspan></text>
<text transform="translate(424.50 62.90) rotate(-90)" class="tk">10<tspan dy="-2.8" font-size="5">3</tspan></text>
<text x="506.50" y="128.90" class="tk">10<tspan dy="-2.8" font-size="5">4</tspan></text>
<text transform="translate(424.50 43.20) rotate(-90)" class="tk">10<tspan dy="-2.8" font-size="5">4</tspan></text>
<text transform="translate(410.90 95.20) rotate(-90)" class="lb" word-spacing="0.08" textLength="50.4" lengthAdjust="spacingAndGlyphs">Mac-1 APC</text>
<text x="456.10" y="135.30" class="lb" word-spacing="-0.29" textLength="35.3" lengthAdjust="spacingAndGlyphs">Gr-1 PE</text>
<text x="433.00" y="25.9" class="tt" word-spacing="-0.15" textLength="82.0" lengthAdjust="spacingAndGlyphs">Ly<tspan dx="1.1">-</tspan><tspan dx="1.1">5.1</tspan> population</text>
<path class="dots" d="M432 115.5h1M461 100.5h1M453 100.5h1M444 101.5h1M452 99.5h1M434 117.5h1M451 110.5h1M460 109.5h1M430 101.5h1M461 115.5h1M440 111.5h1M443 113.5h1M461 116.5h1M456 105.5h1M443 112.5h1M462 105.5h1M431 112.5h1M452 97.5h1M447 115.5h1M459 98.5h1M430 101.5h1M440 114.5h1M446 108.5h1M432 108.5h1M451 106.5h1M458 100.5h1M460 117.5h1M434 113.5h1M447 100.5h1M462 115.5h1M432 96.5h1M453 108.5h1M439 117.5h1M460 98.5h1M450 111.5h1M460 92.5h1M431 94.5h1M450 95.5h1M444 95.5h1M433 116.5h1M443 117.5h1M454 107.5h1M449 107.5h1M449 107.5h1M439 102.5h1M447 97.5h1M445 97.5h1M460 94.5h1M459 100.5h1M444 95.5h1M446 115.5h1M439 117.5h1M449 106.5h1M434 95.5h1M462 108.5h1M443 115.5h1M430 114.5h1M440 112.5h1M461 95.5h1M440 109.5h1M443 95.5h1M462 93.5h1M456 98.5h1M442 94.5h1M435 111.5h1M443 113.5h1M442 111.5h1M459 117.5h1M448 93.5h1M460 112.5h1M463 101.5h1M459 110.5h1M443 104.5h1M443 106.5h1M448 99.5h1M452 112.5h1M458 110.5h1M457 114.5h1M440 109.5h1M454 96.5h1M442 93.5h1M456 117.5h1M430 96.5h1M458 99.5h1M453 116.5h1M435 114.5h1M438 95.5h1M440 113.5h1M447 94.5h1M460 104.5h1M462 92.5h1M450 105.5h1M433 114.5h1M462 102.5h1M462 106.5h1M433 110.5h1M450 109.5h1M453 112.5h1M435 110.5h1M450 114.5h1M436 112.5h1M435 114.5h1M439 111.5h1M436 95.5h1M450 108.5h1M459 114.5h1M437 107.5h1M431 113.5h1M438 117.5h1M444 116.5h1M450 99.5h1M432 95.5h1M438 116.5h1M436 117.5h1M430 116.5h1M438 107.5h1M431 116.5h1M438 117.5h1M440 117.5h1M450 116.5h1M439 112.5h1M442 102.5h1M431 111.5h1M437 115.5h1M431 115.5h1M449 111.5h1M439 105.5h1M441 114.5h1M437 117.5h1M435 117.5h1M430 96.5h1M431 110.5h1M436 111.5h1M435 94.5h1M454 117.5h1M455 113.5h1M430 117.5h1M436 94.5h1M431 117.5h1M458 105.5h1M446 99.5h1M435 105.5h1M438 116.5h1M430 105.5h1M432 95.5h1M442 117.5h1M431 116.5h1M437 117.5h1M437 116.5h1M432 116.5h1M441 117.5h1M445 116.5h1M431 116.5h1M440 117.5h1M432 115.5h1M445 115.5h1M440 115.5h1M431 115.5h1M440 117.5h1M434 116.5h1M434 116.5h1M443 117.5h1M438 115.5h1M448 117.5h1M447 116.5h1M446 116.5h1M438 116.5h1M447 117.5h1M431 115.5h1M445 117.5h1M437 116.5h1M446 117.5h1M430 115.5h1M441 115.5h1M431 115.5h1M483 93.5h1M480 95.5h1M477 116.5h1M480 113.5h1M483 116.5h1M467 98.5h1M479 108.5h1M466 91.5h1M473 112.5h1M470 92.5h1M477 97.5h1M477 97.5h1M487 70.5h1M471 66.5h1M452 71.5h1M443 76.5h1M469 64.5h1M454 75.5h1M474 79.5h1M452 89.5h1M465 79.5h1M450 78.5h1M465 71.5h1M464 67.5h1M478 76.5h1M489 75.5h1M468 68.5h1M458 67.5h1M497 72.5h1M475 70.5h1M479 62.5h1M479 69.5h1M490 70.5h1M484 85.5h1M480 62.5h1M481 67.5h1M458 75.5h1M462 78.5h1M469 82.5h1M471 74.5h1M470 74.5h1M474 65.5h1M471 82.5h1M464 64.5h1M448 77.5h1M482 63.5h1M478 79.5h1M458 73.5h1M477 63.5h1M476 71.5h1M471 83.5h1M445 80.5h1M453 73.5h1M462 85.5h1M493 79.5h1M458 74.5h1M465 81.5h1M455 71.5h1M463 83.5h1M475 85.5h1M441 84.5h1M431 70.5h1M479 78.5h1M471 73.5h1M462 73.5h1M484 77.5h1M484 63.5h1M441 78.5h1M468 71.5h1M486 82.5h1M461 87.5h1M466 94.5h1M483 72.5h1M466 76.5h1M453 71.5h1M461 65.5h1M452 79.5h1M478 74.5h1M446 75.5h1M484 60.5h1M447 83.5h1M471 69.5h1M450 79.5h1M466 76.5h1M484 65.5h1M486 76.5h1M488 77.5h1M469 69.5h1M472 73.5h1M473 75.5h1M479 73.5h1M465 71.5h1M485 73.5h1M475 67.5h1M486 67.5h1M477 62.5h1M480 63.5h1M460 69.5h1M464 76.5h1M452 76.5h1M466 78.5h1M468 54.5h1M482 73.5h1M453 73.5h1M515 55.5h1M468 83.5h1M488 76.5h1M485 73.5h1M435 87.5h1M466 83.5h1M491 73.5h1M436 71.5h1M481 66.5h1M457 75.5h1M464 74.5h1M473 84.5h1M444 73.5h1M473 70.5h1M461 83.5h1M460 74.5h1M480 73.5h1M475 79.5h1M478 77.5h1M469 80.5h1M460 72.5h1M474 70.5h1M491 67.5h1M473 74.5h1M483 74.5h1M467 60.5h1M505 80.5h1M447 69.5h1M478 69.5h1M478 71.5h1M474 76.5h1M454 78.5h1M454 85.5h1M467 84.5h1M471 74.5h1M453 88.5h1M455 70.5h1M478 64.5h1M484 95.5h1M462 86.5h1M460 73.5h1M460 74.5h1M505 66.5h1M477 69.5h1M469 68.5h1M484 65.5h1M502 55.5h1M486 70.5h1M450 71.5h1M469 85.5h1M464 75.5h1M465 83.5h1M453 67.5h1M465 58.5h1M455 72.5h1M475 81.5h1M471 74.5h1M450 77.5h1M446 76.5h1M463 67.5h1M479 65.5h1M477 91.5h1M469 64.5h1M463 78.5h1M460 65.5h1M465 76.5h1M453 86.5h1M464 84.5h1M461 75.5h1M508 60.5h1M480 61.5h1M467 75.5h1M469 77.5h1M468 62.5h1M473 76.5h1M464 64.5h1M483 70.5h1M483 59.5h1M480 72.5h1M483 67.5h1M478 70.5h1M477 69.5h1M480 72.5h1M477 71.5h1M483 57.5h1M482 75.5h1M479 75.5h1M480 73.5h1M480 66.5h1M492 66.5h1M481 63.5h1M477 81.5h1M479 68.5h1M485 71.5h1M480 72.5h1M480 69.5h1M479 86.5h1M482 68.5h1M484 69.5h1M484 81.5h1M471 72.5h1M474 59.5h1M464 75.5h1M486 65.5h1M488 71.5h1M489 75.5h1M482 77.5h1M488 72.5h1M481 60.5h1M480 64.5h1M471 77.5h1M476 63.5h1M477 72.5h1M487 75.5h1M492 65.5h1M478 78.5h1M483 82.5h1M483 60.5h1M476 85.5h1M470 67.5h1M476 83.5h1M472 71.5h1M479 72.5h1M480 74.5h1M480 87.5h1M480 71.5h1M484 70.5h1M475 78.5h1M487 70.5h1M470 64.5h1M481 76.5h1M484 68.5h1M476 80.5h1M471 68.5h1M485 65.5h1M477 51.5h1M486 62.5h1M486 66.5h1M481 59.5h1M481 78.5h1M487 61.5h1M483 74.5h1M475 76.5h1M482 61.5h1M485 68.5h1M482 60.5h1M482 81.5h1M480 68.5h1M480 74.5h1M475 73.5h1M472 86.5h1M488 62.5h1M477 69.5h1M482 78.5h1M471 82.5h1M482 77.5h1M476 60.5h1M500 68.5h1M475 73.5h1M475 67.5h1M487 69.5h1M488 67.5h1M468 66.5h1M483 67.5h1M487 63.5h1M473 80.5h1M485 69.5h1M478 73.5h1M475 70.5h1M479 71.5h1M478 75.5h1M472 74.5h1M495 61.5h1M478 75.5h1M476 80.5h1M487 65.5h1M462 73.5h1M446 68.5h1M458 80.5h1M441 78.5h1M484 74.5h1M456 67.5h1M486 76.5h1M445 86.5h1M472 72.5h1M469 74.5h1M472 57.5h1M478 70.5h1M442 86.5h1M476 68.5h1M440 85.5h1M454 76.5h1M481 86.5h1M467 69.5h1M485 82.5h1M482 59.5h1M460 82.5h1M452 58.5h1M449 60.5h1M440 72.5h1M474 74.5h1M479 76.5h1M441 65.5h1M463 82.5h1M480 77.5h1M471 86.5h1M459 75.5h1M486 82.5h1M460 60.5h1M454 74.5h1M463 81.5h1M456 79.5h1M458 82.5h1M463 85.5h1M442 86.5h1M469 66.5h1M468 84.5h1M474 62.5h1M451 58.5h1M440 60.5h1M474 82.5h1M457 64.5h1M468 70.5h1M452 59.5h1M456 79.5h1M452 69.5h1M507 67.5h1M504 71.5h1M505 86.5h1M513 74.5h1M506 79.5h1M498 80.5h1M502 79.5h1M501 64.5h1M499 81.5h1M502 77.5h1M502 67.5h1M501 70.5h1M499 82.5h1M504 75.5h1M495 74.5h1M504 75.5h1M501 69.5h1M502 77.5h1M492 72.5h1M508 67.5h1M494 81.5h1M498 74.5h1M504 71.5h1M499 79.5h1M500 76.5h1M492 78.5h1M499 72.5h1M502 77.5h1M504 70.5h1M500 67.5h1M502 73.5h1M503 76.5h1M498 71.5h1M498 72.5h1M509 82.5h1M498 67.5h1M506 73.5h1M501 69.5h1M507 82.5h1M499 68.5h1M503 62.5h1M503 70.5h1M500 81.5h1M502 73.5h1M498 73.5h1M501 72.5h1M500 74.5h1M504 71.5h1M501 76.5h1M496 70.5h1M500 76.5h1M501 73.5h1M498 67.5h1M507 77.5h1M503 70.5h1M505 79.5h1M498 74.5h1M500 74.5h1M505 68.5h1M495 76.5h1M503 67.5h1M502 81.5h1M499 74.5h1M502 68.5h1M497 68.5h1M502 79.5h1M496 78.5h1M496 67.5h1M507 81.5h1M498 69.5h1M493 74.5h1M505 74.5h1M498 60.5h1M487 61.5h1M501 69.5h1M505 82.5h1M503 72.5h1M508 75.5h1M501 74.5h1M504 67.5h1M497 81.5h1M502 72.5h1M507 74.5h1M503 78.5h1M502 64.5h1M493 78.5h1M500 73.5h1M496 71.5h1M504 86.5h1M498 80.5h1M503 79.5h1M497 68.5h1M509 70.5h1M496 69.5h1M502 72.5h1M512 88.5h1M502 72.5h1M498 75.5h1M504 68.5h1M505 67.5h1M505 62.5h1M493 67.5h1M502 69.5h1M493 76.5h1M509 75.5h1M501 80.5h1M499 68.5h1M504 80.5h1M503 75.5h1M496 76.5h1M508 77.5h1M500 71.5h1M494 74.5h1M507 74.5h1M507 80.5h1M506 67.5h1M503 77.5h1M498 67.5h1M505 63.5h1M509 88.5h1M504 79.5h1M508 76.5h1M498 66.5h1M505 77.5h1M505 72.5h1M495 76.5h1M495 68.5h1M498 79.5h1M502 69.5h1M503 90.5h1M500 83.5h1M501 63.5h1M501 72.5h1M502 78.5h1M504 62.5h1M503 68.5h1M501 67.5h1M502 76.5h1M499 69.5h1M504 71.5h1M499 82.5h1M508 72.5h1M501 74.5h1M502 67.5h1M498 65.5h1M500 76.5h1M502 77.5h1M501 72.5h1M499 69.5h1M497 74.5h1M501 74.5h1M502 70.5h1M503 72.5h1M506 68.5h1M500 72.5h1M493 76.5h1M501 83.5h1M494 67.5h1M496 74.5h1M505 76.5h1M504 75.5h1M499 81.5h1M499 75.5h1M501 87.5h1M494 74.5h1M503 79.5h1M500 63.5h1M509 73.5h1M497 73.5h1M505 74.5h1M498 69.5h1M505 79.5h1M497 74.5h1M504 76.5h1M499 59.5h1M498 72.5h1M501 84.5h1M503 69.5h1M503 60.5h1M508 80.5h1M505 55.5h1M491 71.5h1M500 67.5h1M493 74.5h1M500 74.5h1M504 81.5h1M496 78.5h1M496 84.5h1M502 67.5h1M500 79.5h1M508 73.5h1M503 72.5h1M503 77.5h1M508 75.5h1M499 73.5h1M501 76.5h1M497 72.5h1M502 73.5h1M505 80.5h1M507 82.5h1M501 78.5h1M498 72.5h1M498 65.5h1M496 64.5h1M502 72.5h1M507 70.5h1M492 70.5h1M492 65.5h1M507 74.5h1M495 69.5h1M503 75.5h1M496 72.5h1M504 64.5h1M504 81.5h1M502 74.5h1M505 77.5h1M501 68.5h1M504 64.5h1M509 77.5h1M506 90.5h1M499 69.5h1M498 69.5h1M500 82.5h1M500 74.5h1M502 74.5h1M499 85.5h1M504 70.5h1M501 71.5h1M503 72.5h1M501 79.5h1M504 78.5h1M496 76.5h1M508 72.5h1M503 79.5h1M503 66.5h1M504 72.5h1M506 87.5h1M504 65.5h1M502 73.5h1M501 76.5h1M495 71.5h1M502 84.5h1M500 72.5h1M500 87.5h1M511 82.5h1M494 64.5h1M502 67.5h1M506 77.5h1M505 80.5h1M506 70.5h1M496 72.5h1M497 71.5h1M504 71.5h1M500 79.5h1M508 71.5h1M502 85.5h1M502 66.5h1M503 83.5h1M500 77.5h1M502 77.5h1M499 69.5h1M501 69.5h1M499 71.5h1M502 71.5h1M496 69.5h1M495 72.5h1M503 85.5h1M502 86.5h1M497 85.5h1M500 73.5h1M497 74.5h1M510 76.5h1M495 71.5h1M508 77.5h1M498 78.5h1M503 82.5h1M500 84.5h1M500 66.5h1M505 69.5h1M505 82.5h1M500 75.5h1M498 70.5h1M510 67.5h1M507 78.5h1M502 73.5h1M500 67.5h1M503 83.5h1M502 78.5h1M506 75.5h1M497 76.5h1M501 62.5h1M498 68.5h1M507 74.5h1M509 81.5h1M501 69.5h1M504 71.5h1M507 78.5h1M500 76.5h1M498 81.5h1M506 75.5h1M503 69.5h1M501 68.5h1M507 72.5h1M502 69.5h1M494 75.5h1M503 77.5h1M501 67.5h1M509 73.5h1M501 78.5h1M501 71.5h1M503 69.5h1M502 70.5h1M496 71.5h1M502 77.5h1M500 71.5h1M507 66.5h1M511 75.5h1M497 76.5h1M497 71.5h1M498 79.5h1M499 72.5h1M499 74.5h1M502 68.5h1M506 74.5h1M496 66.5h1M495 59.5h1M494 73.5h1M506 79.5h1M507 72.5h1M495 72.5h1M495 71.5h1M502 77.5h1M506 72.5h1M506 74.5h1M502 86.5h1M504 76.5h1M503 72.5h1M499 66.5h1M509 79.5h1M501 78.5h1M497 66.5h1M499 76.5h1M495 71.5h1M501 71.5h1M506 71.5h1M496 72.5h1M506 81.5h1M510 70.5h1M503 76.5h1M497 75.5h1M498 62.5h1M500 68.5h1M496 78.5h1M496 75.5h1M500 75.5h1M501 78.5h1M504 85.5h1M496 68.5h1M509 71.5h1M506 73.5h1M505 77.5h1M499 72.5h1M508 72.5h1M500 79.5h1M509 77.5h1M506 78.5h1M498 69.5h1M500 72.5h1M509 83.5h1M505 78.5h1M501 64.5h1M502 79.5h1M502 73.5h1M498 76.5h1M501 67.5h1M499 73.5h1M500 76.5h1M503 81.5h1M497 74.5h1M504 70.5h1M502 70.5h1M505 82.5h1M505 66.5h1M506 76.5h1M504 80.5h1M504 74.5h1M501 77.5h1M504 77.5h1M498 76.5h1M500 74.5h1M504 77.5h1M501 83.5h1M503 71.5h1M497 75.5h1M507 69.5h1M499 70.5h1M503 71.5h1M501 73.5h1M505 68.5h1M500 75.5h1M497 78.5h1M494 70.5h1M500 88.5h1M497 74.5h1M504 73.5h1M507 77.5h1M492 64.5h1M496 68.5h1M503 73.5h1M506 77.5h1M503 68.5h1M503 78.5h1M503 76.5h1M504 70.5h1M508 72.5h1M504 63.5h1M496 73.5h1M499 83.5h1M502 70.5h1M498 66.5h1M500 74.5h1M499 65.5h1M499 63.5h1M504 78.5h1M500 76.5h1M497 79.5h1M498 70.5h1M502 70.5h1M510 73.5h1M502 81.5h1M502 83.5h1M497 75.5h1M505 64.5h1M494 58.5h1M502 65.5h1M493 83.5h1M493 58.5h1M506 85.5h1M503 85.5h1M501 65.5h1M497 60.5h1M504 68.5h1M509 61.5h1M497 68.5h1M491 84.5h1M495 68.5h1M506 64.5h1M496 72.5h1M505 66.5h1M494 73.5h1M502 84.5h1M497 61.5h1M501 80.5h1M497 81.5h1M502 83.5h1M505 76.5h1M504 75.5h1M499 81.5h1M491 82.5h1M507 73.5h1"/>
</g>
<g>
<path class="ax" d="M24.2 150.2V232.8H110.4"/>
<path class="tkl" d="M25.70 232.8v2.2M24.2 232.80h-2.4M46.77 232.8v2.2M24.2 212.28h-2.4M67.85 232.8v2.2M24.2 191.75h-2.4M88.92 232.8v2.2M24.2 171.22h-2.4M110.00 232.8v2.2M24.2 150.70h-2.4"/>
<path class="mkl" d="M32.04 232.8v1.2M24.2 226.62h-1.2M35.76 232.8v1.2M24.2 223.01h-1.2M38.39 232.8v1.2M24.2 220.44h-1.2M40.43 232.8v1.2M24.2 218.45h-1.2M42.10 232.8v1.2M24.2 216.83h-1.2M43.51 232.8v1.2M24.2 215.45h-1.2M44.73 232.8v1.2M24.2 214.26h-1.2M45.81 232.8v1.2M24.2 213.21h-1.2M53.12 232.8v1.2M24.2 206.10h-1.2M56.83 232.8v1.2M24.2 202.48h-1.2M59.46 232.8v1.2M24.2 199.92h-1.2M61.51 232.8v1.2M24.2 197.93h-1.2M63.17 232.8v1.2M24.2 196.30h-1.2M64.59 232.8v1.2M24.2 194.93h-1.2M65.81 232.8v1.2M24.2 193.74h-1.2M66.89 232.8v1.2M24.2 192.69h-1.2M74.19 232.8v1.2M24.2 185.57h-1.2M77.91 232.8v1.2M24.2 181.96h-1.2M80.54 232.8v1.2M24.2 179.39h-1.2M82.58 232.8v1.2M24.2 177.40h-1.2M84.25 232.8v1.2M24.2 175.78h-1.2M85.66 232.8v1.2M24.2 174.40h-1.2M86.88 232.8v1.2M24.2 173.21h-1.2M87.96 232.8v1.2M24.2 172.16h-1.2M95.27 232.8v1.2M24.2 165.05h-1.2M98.98 232.8v1.2M24.2 161.43h-1.2M101.61 232.8v1.2M24.2 158.87h-1.2M103.66 232.8v1.2M24.2 156.88h-1.2M105.32 232.8v1.2M24.2 155.25h-1.2M106.74 232.8v1.2M24.2 153.88h-1.2M107.96 232.8v1.2M24.2 152.69h-1.2M109.04 232.8v1.2M24.2 151.64h-1.2"/>
<path class="gt" d="M24.2 207.4H110.0M56.0 149.7V232.8"/>
<text x="19.60" y="243.50" class="tk">10<tspan dy="-2.8" font-size="5">0</tspan></text>
<text transform="translate(20.00 236.80) rotate(-90)" class="tk">10<tspan dy="-2.8" font-size="5">0</tspan></text>
<text x="40.20" y="243.50" class="tk">10<tspan dy="-2.8" font-size="5">1</tspan></text>
<text transform="translate(20.00 217.10) rotate(-90)" class="tk">10<tspan dy="-2.8" font-size="5">1</tspan></text>
<text x="62.60" y="243.50" class="tk">10<tspan dy="-2.8" font-size="5">2</tspan></text>
<text transform="translate(20.00 197.40) rotate(-90)" class="tk">10<tspan dy="-2.8" font-size="5">2</tspan></text>
<text x="82.80" y="243.50" class="tk">10<tspan dy="-2.8" font-size="5">3</tspan></text>
<text transform="translate(20.00 177.70) rotate(-90)" class="tk">10<tspan dy="-2.8" font-size="5">3</tspan></text>
<text x="100.80" y="243.50" class="tk">10<tspan dy="-2.8" font-size="5">4</tspan></text>
<text transform="translate(20.00 158.00) rotate(-90)" class="tk">10<tspan dy="-2.8" font-size="5">4</tspan></text>
<text transform="translate(9.60 209.90) rotate(-90)" class="lb" word-spacing="-0.02" textLength="42.2" lengthAdjust="spacingAndGlyphs">CD8 APC</text>
<text x="51.00" y="254.60" class="lb" word-spacing="0.15" textLength="35.2" lengthAdjust="spacingAndGlyphs">CD4 PE</text>
<path class="dots" d="M26 230.5h1M33 231.5h1M27 225.5h1M27 232.5h1M36 232.5h1M27 231.5h1M36 217.5h1M27 227.5h1M27 232.5h1M44 230.5h1M40 223.5h1M36 222.5h1M36 229.5h1M53 226.5h1M41 225.5h1M40 230.5h1M52 226.5h1M46 228.5h1M25 222.5h1M28 231.5h1M47 230.5h1M27 232.5h1M35 229.5h1M41 218.5h1M27 231.5h1M26 232.5h1M42 231.5h1M50 231.5h1M34 215.5h1M34 229.5h1M28 218.5h1M41 230.5h1M30 224.5h1M32 218.5h1M30 232.5h1M34 231.5h1M31 215.5h1M45 219.5h1M44 228.5h1M51 229.5h1M28 228.5h1M28 221.5h1M45 229.5h1M50 212.5h1M35 226.5h1M29 226.5h1M30 227.5h1M31 231.5h1M27 219.5h1M26 227.5h1M26 230.5h1M29 232.5h1M29 220.5h1M26 217.5h1M40 218.5h1M38 232.5h1M36 229.5h1M25 223.5h1M32 218.5h1M32 225.5h1M35 232.5h1M29 232.5h1M29 227.5h1M29 231.5h1M30 228.5h1M47 229.5h1M43 231.5h1M25 232.5h1M34 232.5h1M26 228.5h1M33 215.5h1M49 230.5h1M40 219.5h1M25 228.5h1M26 214.5h1M32 225.5h1M38 231.5h1M27 231.5h1M29 225.5h1M31 221.5h1M43 215.5h1M28 218.5h1M32 217.5h1M42 229.5h1M45 215.5h1M48 219.5h1M35 224.5h1M37 219.5h1M26 228.5h1M39 215.5h1M33 231.5h1M39 227.5h1M41 218.5h1M30 224.5h1M27 215.5h1M44 216.5h1M44 219.5h1M51 225.5h1M38 224.5h1M27 226.5h1M27 226.5h1M51 232.5h1M45 227.5h1M30 219.5h1M36 222.5h1M30 226.5h1M46 226.5h1M44 229.5h1M50 231.5h1M43 229.5h1M36 220.5h1M49 214.5h1M35 219.5h1M45 226.5h1M31 221.5h1M32 230.5h1M41 231.5h1M33 231.5h1M48 221.5h1M39 221.5h1M50 229.5h1M41 214.5h1M40 230.5h1M39 222.5h1M30 220.5h1M34 232.5h1M49 227.5h1M43 222.5h1M45 219.5h1M36 219.5h1M31 219.5h1M46 231.5h1M36 231.5h1M46 216.5h1M27 229.5h1M34 225.5h1M42 216.5h1M50 231.5h1M30 216.5h1M51 220.5h1M43 225.5h1M30 228.5h1M26 222.5h1M50 216.5h1M43 228.5h1M44 227.5h1M36 223.5h1M28 217.5h1M38 224.5h1M42 224.5h1M33 214.5h1M50 222.5h1M46 217.5h1M26 219.5h1M33 222.5h1M36 232.5h1M40 230.5h1M43 229.5h1M31 231.5h1M33 231.5h1M32 230.5h1M43 231.5h1M34 232.5h1M36 230.5h1M38 231.5h1M46 232.5h1M28 231.5h1M32 229.5h1M44 232.5h1M37 229.5h1M35 230.5h1M45 230.5h1M30 230.5h1M29 230.5h1M45 229.5h1M43 232.5h1M38 232.5h1M33 230.5h1M42 231.5h1M31 231.5h1M36 231.5h1M31 229.5h1M36 230.5h1M28 230.5h1M37 232.5h1M36 231.5h1M46 231.5h1M35 229.5h1M38 232.5h1M31 231.5h1M33 230.5h1M32 230.5h1M46 230.5h1M31 231.5h1M40 232.5h1M43 232.5h1M45 230.5h1M41 231.5h1M32 231.5h1M45 229.5h1M38 231.5h1M38 232.5h1M44 230.5h1M29 230.5h1M41 230.5h1M42 230.5h1M40 232.5h1M32 231.5h1M45 232.5h1M33 232.5h1M34 230.5h1M43 229.5h1M45 229.5h1M33 232.5h1M37 231.5h1M44 229.5h1M38 230.5h1M32 232.5h1M35 231.5h1M40 230.5h1M41 232.5h1M34 232.5h1M32 232.5h1M42 231.5h1M34 230.5h1M33 230.5h1M34 230.5h1M32 230.5h1M31 231.5h1M35 230.5h1M32 230.5h1M40 230.5h1M30 229.5h1M35 232.5h1M45 232.5h1M37 231.5h1M44 231.5h1M32 229.5h1M42 231.5h1M30 230.5h1M45 230.5h1M46 232.5h1M41 232.5h1M32 231.5h1M42 232.5h1M43 232.5h1M40 231.5h1M42 232.5h1M33 230.5h1M42 230.5h1M32 231.5h1M37 230.5h1M35 232.5h1M32 230.5h1M33 229.5h1M44 230.5h1M29 232.5h1M37 231.5h1M37 230.5h1M30 230.5h1M30 231.5h1M36 230.5h1M35 229.5h1M33 230.5h1M33 231.5h1M46 230.5h1M36 232.5h1M34 232.5h1M30 231.5h1M45 232.5h1M40 230.5h1M29 231.5h1M31 230.5h1M45 232.5h1M29 232.5h1M40 231.5h1M38 232.5h1M37 232.5h1M40 232.5h1M34 232.5h1M39 232.5h1M44 231.5h1M38 232.5h1M37 232.5h1M39 231.5h1M31 232.5h1M34 232.5h1M41 232.5h1M38 230.5h1M30 232.5h1M44 229.5h1M35 231.5h1M32 232.5h1M30 229.5h1M45 232.5h1M33 191.5h1M40 189.5h1M35 190.5h1M33 182.5h1M45 194.5h1M38 184.5h1M35 182.5h1M31 193.5h1M30 204.5h1M33 182.5h1M34 184.5h1M36 190.5h1M32 179.5h1M26 189.5h1M33 186.5h1M41 193.5h1M29 185.5h1M40 189.5h1M39 190.5h1M34 181.5h1M38 186.5h1M32 195.5h1M34 183.5h1M31 182.5h1M39 192.5h1M44 189.5h1M32 186.5h1M43 188.5h1M31 183.5h1M31 190.5h1M46 175.5h1M33 191.5h1M40 190.5h1M37 173.5h1M39 187.5h1M36 188.5h1M37 180.5h1M41 186.5h1M43 192.5h1M38 184.5h1M27 179.5h1M35 183.5h1M41 174.5h1M32 180.5h1M39 184.5h1M34 187.5h1M37 184.5h1M40 180.5h1M32 182.5h1M52 181.5h1M37 185.5h1M38 182.5h1M32 180.5h1M37 188.5h1M35 194.5h1M28 177.5h1M28 183.5h1M38 189.5h1M36 185.5h1M34 188.5h1M36 195.5h1M39 186.5h1M29 187.5h1M39 180.5h1M34 187.5h1M33 185.5h1M35 188.5h1M42 189.5h1M39 195.5h1M41 181.5h1M32 186.5h1M35 190.5h1M30 186.5h1M33 189.5h1M34 191.5h1M34 185.5h1M40 180.5h1M38 188.5h1M40 195.5h1M37 190.5h1M42 176.5h1M37 191.5h1M41 180.5h1M39 188.5h1M40 182.5h1M36 187.5h1M29 196.5h1M28 189.5h1M47 175.5h1M38 187.5h1M39 183.5h1M35 189.5h1M34 187.5h1M52 185.5h1M30 184.5h1M36 174.5h1M36 187.5h1M30 188.5h1M29 191.5h1M26 181.5h1M26 178.5h1M26 172.5h1M26 177.5h1M26 183.5h1M25 192.5h1M26 185.5h1M26 172.5h1M79 220.5h1M83 229.5h1M85 232.5h1M91 232.5h1M96 231.5h1M94 231.5h1M88 224.5h1M86 218.5h1M84 221.5h1M96 218.5h1M82 232.5h1M85 230.5h1M92 227.5h1M84 224.5h1M90 229.5h1M85 227.5h1M81 225.5h1M87 215.5h1M83 224.5h1M83 219.5h1M90 231.5h1M88 226.5h1M87 216.5h1M88 228.5h1M84 220.5h1M88 224.5h1M84 225.5h1M81 222.5h1M83 227.5h1M87 227.5h1M87 220.5h1M91 224.5h1M79 223.5h1M88 226.5h1M82 219.5h1M87 221.5h1M85 224.5h1M82 229.5h1M91 230.5h1M92 230.5h1M87 232.5h1M83 231.5h1M83 232.5h1M89 229.5h1M89 230.5h1M90 231.5h1M82 232.5h1M83 231.5h1M84 230.5h1M85 229.5h1M90 232.5h1M81 229.5h1M84 232.5h1M81 232.5h1M90 232.5h1M89 232.5h1M90 231.5h1M84 230.5h1M87 231.5h1M91 230.5h1M80 232.5h1M90 230.5h1M90 232.5h1M85 231.5h1M90 229.5h1M90 230.5h1M82 230.5h1M92 230.5h1M92 231.5h1M83 230.5h1M92 231.5h1M87 230.5h1M86 230.5h1M90 229.5h1M92 229.5h1M83 229.5h1M82 232.5h1M91 232.5h1M86 231.5h1M87 229.5h1M86 230.5h1M91 230.5h1M87 229.5h1M89 230.5h1M90 232.5h1M80 231.5h1M87 229.5h1M88 229.5h1M81 232.5h1M82 229.5h1M81 230.5h1M85 231.5h1M90 231.5h1M83 229.5h1M91 229.5h1M81 231.5h1M84 230.5h1M83 232.5h1M92 230.5h1M82 232.5h1M91 230.5h1M87 231.5h1M83 232.5h1M85 232.5h1M82 229.5h1M88 232.5h1M88 231.5h1M86 232.5h1M90 231.5h1M90 229.5h1M89 231.5h1M90 230.5h1M85 231.5h1M82 232.5h1M87 229.5h1M86 231.5h1M82 230.5h1M89 229.5h1M86 230.5h1M81 232.5h1M86 232.5h1M88 231.5h1M79 230.5h1M92 232.5h1M80 232.5h1M76 232.5h1M85 232.5h1M84 232.5h1M78 228.5h1M84 232.5h1M80 232.5h1M89 232.5h1M84 232.5h1M85 230.5h1M78 232.5h1M92 232.5h1M80 229.5h1M86 231.5h1M89 231.5h1M85 223.5h1M90 217.5h1M81 217.5h1M92 217.5h1M86 225.5h1M88 227.5h1M76 228.5h1M81 223.5h1M75 221.5h1M80 216.5h1M85 213.5h1M79 218.5h1M73 221.5h1M82 227.5h1M89 221.5h1M81 227.5h1M89 216.5h1M81 228.5h1M84 224.5h1M79 228.5h1M74 228.5h1M89 218.5h1M77 197.5h1M78 194.5h1"/>
</g>
<g>
<path class="ax" d="M143.3 150.2V233.4H230.1"/>
<path class="tkl" d="M144.80 233.4v2.2M143.3 233.40h-2.4M166.03 233.4v2.2M143.3 212.72h-2.4M187.25 233.4v2.2M143.3 192.05h-2.4M208.47 233.4v2.2M143.3 171.38h-2.4M229.70 233.4v2.2M143.3 150.70h-2.4"/>
<path class="mkl" d="M151.19 233.4v1.2M143.3 227.18h-1.2M154.93 233.4v1.2M143.3 223.54h-1.2M157.58 233.4v1.2M143.3 220.95h-1.2M159.64 233.4v1.2M143.3 218.95h-1.2M161.32 233.4v1.2M143.3 217.31h-1.2M162.74 233.4v1.2M143.3 215.93h-1.2M163.97 233.4v1.2M143.3 214.73h-1.2M165.05 233.4v1.2M143.3 213.67h-1.2M172.41 233.4v1.2M143.3 206.50h-1.2M176.15 233.4v1.2M143.3 202.86h-1.2M178.80 233.4v1.2M143.3 200.28h-1.2M180.86 233.4v1.2M143.3 198.27h-1.2M182.54 233.4v1.2M143.3 196.64h-1.2M183.96 233.4v1.2M143.3 195.25h-1.2M185.19 233.4v1.2M143.3 194.05h-1.2M186.28 233.4v1.2M143.3 193.00h-1.2M193.64 233.4v1.2M143.3 185.83h-1.2M197.38 233.4v1.2M143.3 182.19h-1.2M200.03 233.4v1.2M143.3 179.60h-1.2M202.09 233.4v1.2M143.3 177.60h-1.2M203.77 233.4v1.2M143.3 175.96h-1.2M205.19 233.4v1.2M143.3 174.58h-1.2M206.42 233.4v1.2M143.3 173.38h-1.2M207.50 233.4v1.2M143.3 172.32h-1.2M214.86 233.4v1.2M143.3 165.15h-1.2M218.60 233.4v1.2M143.3 161.51h-1.2M221.25 233.4v1.2M143.3 158.93h-1.2M223.31 233.4v1.2M143.3 156.92h-1.2M224.99 233.4v1.2M143.3 155.29h-1.2M226.41 233.4v1.2M143.3 153.90h-1.2M227.64 233.4v1.2M143.3 152.70h-1.2M228.73 233.4v1.2M143.3 151.65h-1.2"/>
<path class="gt" d="M143.3 207.4H229.7M175.2 149.7V233.4"/>
<text x="138.70" y="244.10" class="tk">10<tspan dy="-2.8" font-size="5">0</tspan></text>
<text transform="translate(139.10 236.90) rotate(-90)" class="tk">10<tspan dy="-2.8" font-size="5">0</tspan></text>
<text x="159.30" y="244.10" class="tk">10<tspan dy="-2.8" font-size="5">1</tspan></text>
<text transform="translate(139.10 217.20) rotate(-90)" class="tk">10<tspan dy="-2.8" font-size="5">1</tspan></text>
<text x="181.70" y="244.10" class="tk">10<tspan dy="-2.8" font-size="5">2</tspan></text>
<text transform="translate(139.10 197.50) rotate(-90)" class="tk">10<tspan dy="-2.8" font-size="5">2</tspan></text>
<text x="201.90" y="244.10" class="tk">10<tspan dy="-2.8" font-size="5">3</tspan></text>
<text transform="translate(139.10 177.80) rotate(-90)" class="tk">10<tspan dy="-2.8" font-size="5">3</tspan></text>
<text x="219.90" y="244.10" class="tk">10<tspan dy="-2.8" font-size="5">4</tspan></text>
<text transform="translate(139.10 158.10) rotate(-90)" class="tk">10<tspan dy="-2.8" font-size="5">4</tspan></text>
<text transform="translate(127.00 210.40) rotate(-90)" class="lb" word-spacing="0.18" textLength="42.4" lengthAdjust="spacingAndGlyphs">CD8 APC</text>
<text x="169.75" y="255.60" class="lb" word-spacing="0.45" textLength="35.5" lengthAdjust="spacingAndGlyphs">CD4 PE</text>
<path class="dots" d="M156 216.5h1M147 232.5h1M149 223.5h1M145 224.5h1M146 216.5h1M153 223.5h1M146 228.5h1M151 213.5h1M153 228.5h1M146 218.5h1M153 226.5h1M145 219.5h1M144 229.5h1M158 213.5h1M147 224.5h1M147 217.5h1M148 216.5h1M148 222.5h1M146 220.5h1M145 230.5h1M145 220.5h1M146 221.5h1M146 212.5h1M146 225.5h1M147 229.5h1M147 224.5h1M145 215.5h1M166 232.5h1M144 232.5h1M154 210.5h1M149 220.5h1M163 216.5h1M148 222.5h1M150 228.5h1M151 217.5h1M156 227.5h1M146 222.5h1M149 228.5h1M146 212.5h1M149 224.5h1M145 217.5h1M147 229.5h1M144 219.5h1M147 226.5h1M150 230.5h1M148 226.5h1M155 231.5h1M145 219.5h1M148 220.5h1M145 213.5h1M147 232.5h1M145 223.5h1M153 210.5h1M145 225.5h1M161 232.5h1M147 214.5h1M146 231.5h1M148 216.5h1M149 221.5h1M145 213.5h1M161 221.5h1M150 217.5h1M145 227.5h1M145 210.5h1M150 228.5h1M145 214.5h1M146 217.5h1M163 222.5h1M145 224.5h1M156 231.5h1M170 215.5h1M146 228.5h1M156 213.5h1M162 212.5h1M155 228.5h1M149 226.5h1M150 216.5h1M148 215.5h1M146 232.5h1M146 214.5h1M146 214.5h1M149 218.5h1M147 212.5h1M146 210.5h1M146 228.5h1M144 211.5h1M148 213.5h1M146 219.5h1M156 230.5h1M147 211.5h1M146 216.5h1M152 224.5h1M149 225.5h1M144 211.5h1M145 228.5h1M147 214.5h1M153 223.5h1M154 217.5h1M146 214.5h1M147 231.5h1M144 227.5h1M145 230.5h1M156 224.5h1M153 230.5h1M155 212.5h1M150 215.5h1M149 219.5h1M145 228.5h1M160 228.5h1M148 219.5h1M145 212.5h1M155 211.5h1M152 211.5h1M145 225.5h1M156 217.5h1M157 221.5h1M147 220.5h1M145 217.5h1M152 226.5h1M146 227.5h1M148 223.5h1M145 228.5h1M145 213.5h1M158 224.5h1M147 232.5h1M149 218.5h1M157 210.5h1M148 220.5h1M147 226.5h1M145 212.5h1M149 218.5h1M154 219.5h1M150 222.5h1M169 215.5h1M150 217.5h1M149 220.5h1M148 225.5h1M149 215.5h1M148 212.5h1M148 231.5h1M146 232.5h1M146 231.5h1M148 213.5h1M157 219.5h1M157 224.5h1M145 210.5h1M146 211.5h1M147 223.5h1M151 224.5h1M146 221.5h1M148 219.5h1M149 213.5h1M150 213.5h1M145 226.5h1M153 213.5h1M166 231.5h1M147 228.5h1M152 223.5h1M147 231.5h1M160 225.5h1M146 232.5h1M147 214.5h1M152 217.5h1M150 227.5h1M153 221.5h1M151 224.5h1M148 214.5h1M158 226.5h1M149 227.5h1M145 215.5h1M147 215.5h1M145 217.5h1M148 231.5h1M180 232.5h1M145 211.5h1M150 210.5h1M151 228.5h1M150 222.5h1M146 222.5h1M145 226.5h1M156 231.5h1M144 227.5h1M147 211.5h1M152 223.5h1M157 228.5h1M150 231.5h1M156 218.5h1M145 213.5h1M150 227.5h1M157 215.5h1M146 232.5h1M151 230.5h1M151 218.5h1M153 231.5h1M144 222.5h1M158 222.5h1M152 232.5h1M147 214.5h1M153 216.5h1M148 215.5h1M145 218.5h1M144 226.5h1M145 217.5h1M149 220.5h1M149 218.5h1M145 215.5h1M146 226.5h1M146 212.5h1M150 222.5h1M144 226.5h1M149 221.5h1M151 210.5h1M163 217.5h1M156 231.5h1M151 227.5h1M145 217.5h1M159 211.5h1M148 220.5h1M151 220.5h1M153 232.5h1M145 229.5h1M148 214.5h1M149 227.5h1M150 220.5h1M155 217.5h1M145 219.5h1M158 215.5h1M147 218.5h1M145 226.5h1M150 219.5h1M156 217.5h1M144 231.5h1M145 211.5h1M149 219.5h1M153 210.5h1M152 213.5h1M151 232.5h1M147 231.5h1M151 213.5h1M145 227.5h1M146 212.5h1M146 210.5h1M145 215.5h1M151 218.5h1M149 223.5h1M148 212.5h1M152 218.5h1M150 231.5h1M160 216.5h1M148 225.5h1M147 230.5h1M145 224.5h1M145 213.5h1M148 216.5h1M148 224.5h1M150 214.5h1M148 220.5h1M149 225.5h1M146 231.5h1M147 217.5h1M153 227.5h1M157 221.5h1M145 227.5h1M148 218.5h1M153 232.5h1M144 226.5h1M148 218.5h1M146 213.5h1M145 216.5h1M167 226.5h1M155 224.5h1M145 221.5h1M152 211.5h1M150 229.5h1M148 215.5h1M147 230.5h1M146 213.5h1M146 230.5h1M148 224.5h1M151 224.5h1M145 217.5h1M145 226.5h1M155 214.5h1M159 210.5h1M144 216.5h1M155 232.5h1M152 231.5h1M144 214.5h1M147 223.5h1M146 221.5h1M149 213.5h1M145 216.5h1M146 221.5h1M150 226.5h1M151 231.5h1M156 230.5h1M145 232.5h1M145 224.5h1M147 211.5h1M148 230.5h1M147 221.5h1M145 219.5h1M156 211.5h1M147 210.5h1M145 218.5h1M149 219.5h1M145 217.5h1M149 223.5h1M147 215.5h1M149 214.5h1M154 228.5h1M146 221.5h1M150 226.5h1M170 230.5h1M151 223.5h1M156 219.5h1M148 221.5h1M147 224.5h1M154 220.5h1M158 221.5h1M156 232.5h1M150 217.5h1M148 215.5h1M148 222.5h1M162 218.5h1M154 227.5h1M147 216.5h1M152 222.5h1M146 218.5h1M171 217.5h1M156 223.5h1M149 229.5h1M151 211.5h1M145 214.5h1M152 224.5h1M150 224.5h1M146 213.5h1M145 215.5h1M146 226.5h1M155 214.5h1M155 225.5h1M156 213.5h1M148 230.5h1M149 211.5h1M151 224.5h1M146 212.5h1M147 227.5h1M161 224.5h1M149 227.5h1M146 219.5h1M146 227.5h1M145 217.5h1M150 217.5h1M149 215.5h1M152 222.5h1M151 223.5h1M146 227.5h1M171 222.5h1M144 221.5h1M144 226.5h1M145 220.5h1M151 229.5h1M150 223.5h1M163 225.5h1M147 221.5h1M152 215.5h1M146 232.5h1M151 223.5h1M149 231.5h1M147 225.5h1M155 216.5h1M145 218.5h1M153 216.5h1M154 214.5h1M145 225.5h1M155 224.5h1M150 229.5h1M146 225.5h1M146 219.5h1M147 217.5h1M146 216.5h1M145 220.5h1M165 232.5h1M148 218.5h1M163 213.5h1M146 213.5h1M152 232.5h1M148 224.5h1M165 222.5h1M165 218.5h1M146 214.5h1M144 232.5h1M145 212.5h1M152 223.5h1M164 211.5h1M164 215.5h1M152 224.5h1M144 211.5h1M159 222.5h1M146 230.5h1M146 228.5h1M147 220.5h1M155 215.5h1M146 226.5h1M147 211.5h1M145 227.5h1M150 210.5h1M144 218.5h1M154 216.5h1M144 224.5h1M152 221.5h1M147 225.5h1M146 221.5h1M161 213.5h1M148 215.5h1M148 214.5h1M150 223.5h1M150 226.5h1M151 219.5h1M145 211.5h1M148 217.5h1M149 228.5h1M158 215.5h1M146 212.5h1M145 216.5h1M145 216.5h1M151 217.5h1M147 220.5h1M144 224.5h1M147 216.5h1M157 223.5h1M146 229.5h1M146 212.5h1M148 212.5h1M145 230.5h1M149 214.5h1M156 219.5h1M148 225.5h1M155 225.5h1M144 230.5h1M145 223.5h1M144 228.5h1M154 217.5h1M151 211.5h1M145 226.5h1M147 227.5h1M151 221.5h1M148 230.5h1M148 230.5h1M146 229.5h1M145 214.5h1M148 221.5h1M150 215.5h1M145 214.5h1M154 226.5h1M149 229.5h1M146 231.5h1M145 216.5h1M155 220.5h1M159 213.5h1M145 218.5h1M148 229.5h1M159 222.5h1M170 224.5h1M147 230.5h1M149 230.5h1M148 217.5h1M146 218.5h1M145 223.5h1M155 230.5h1M151 226.5h1M150 215.5h1M165 227.5h1M156 232.5h1M150 227.5h1M148 226.5h1M152 225.5h1M149 227.5h1M147 226.5h1M145 221.5h1M145 221.5h1M152 222.5h1M145 232.5h1M146 227.5h1M152 230.5h1M150 232.5h1M148 224.5h1M149 223.5h1M148 225.5h1M145 227.5h1M145 223.5h1M155 230.5h1M152 213.5h1M151 232.5h1M145 229.5h1M148 224.5h1M158 210.5h1M154 232.5h1M147 223.5h1M159 225.5h1M150 219.5h1M161 231.5h1M146 231.5h1M151 221.5h1M166 229.5h1M151 222.5h1M145 221.5h1M156 229.5h1M147 231.5h1M147 232.5h1M156 219.5h1M145 213.5h1M151 232.5h1M163 232.5h1M155 231.5h1M151 231.5h1M152 231.5h1M154 230.5h1M145 232.5h1M148 225.5h1M169 218.5h1M148 210.5h1M153 228.5h1M145 232.5h1M157 232.5h1M146 224.5h1M149 227.5h1M146 220.5h1M166 228.5h1M145 230.5h1M145 232.5h1M146 219.5h1M151 226.5h1M158 221.5h1M157 230.5h1M149 231.5h1M159 222.5h1M150 212.5h1M146 231.5h1M148 219.5h1M146 219.5h1M156 230.5h1M147 231.5h1M145 232.5h1M147 232.5h1M148 228.5h1M153 232.5h1M147 232.5h1M154 224.5h1M148 225.5h1M148 216.5h1M155 210.5h1M156 228.5h1M147 232.5h1M148 223.5h1M149 229.5h1M147 219.5h1M151 232.5h1M151 231.5h1M149 232.5h1M146 229.5h1M150 214.5h1M146 231.5h1M150 226.5h1M145 228.5h1M149 229.5h1M147 224.5h1M150 227.5h1M160 231.5h1M158 227.5h1M149 213.5h1M145 211.5h1M149 228.5h1M149 231.5h1M145 225.5h1M157 223.5h1M145 221.5h1M148 229.5h1M168 232.5h1M148 228.5h1M148 218.5h1M149 223.5h1M147 222.5h1M145 228.5h1M146 227.5h1M152 231.5h1M154 221.5h1M144 214.5h1M150 232.5h1M157 226.5h1M149 230.5h1M145 230.5h1M151 228.5h1M151 229.5h1M146 226.5h1M151 230.5h1M153 211.5h1M151 215.5h1M159 232.5h1M151 218.5h1M145 230.5h1M146 217.5h1M145 226.5h1M152 228.5h1M151 230.5h1M155 232.5h1M160 217.5h1M153 226.5h1M146 228.5h1M147 229.5h1M145 218.5h1M153 226.5h1M145 228.5h1M154 228.5h1M147 224.5h1M152 224.5h1M151 213.5h1M149 230.5h1M151 230.5h1M150 231.5h1M148 232.5h1M153 220.5h1M148 218.5h1M149 232.5h1M145 231.5h1M151 232.5h1M149 221.5h1M159 215.5h1M150 229.5h1M146 217.5h1M145 229.5h1M151 232.5h1M147 224.5h1M152 222.5h1M162 231.5h1M155 231.5h1M147 226.5h1M145 213.5h1M146 232.5h1M150 227.5h1M149 228.5h1M162 213.5h1M150 223.5h1M161 230.5h1M158 220.5h1M145 219.5h1M149 218.5h1M150 215.5h1M154 219.5h1M166 232.5h1M162 219.5h1M156 218.5h1M154 221.5h1M145 229.5h1M150 228.5h1M166 218.5h1M154 215.5h1M151 231.5h1M167 215.5h1M150 222.5h1M164 218.5h1M154 214.5h1M153 231.5h1M152 216.5h1M151 215.5h1M151 222.5h1M151 227.5h1M156 219.5h1M155 219.5h1M145 223.5h1M154 220.5h1M164 215.5h1M163 214.5h1M147 210.5h1M149 210.5h1M160 232.5h1M160 211.5h1M146 212.5h1M152 209.5h1M157 214.5h1M161 210.5h1M158 210.5h1M160 230.5h1M166 230.5h1M166 220.5h1M149 211.5h1M165 220.5h1M149 221.5h1M144 213.5h1M163 219.5h1M166 213.5h1M147 219.5h1M163 221.5h1M146 221.5h1M167 214.5h1M156 230.5h1M156 225.5h1M167 231.5h1M152 217.5h1M157 223.5h1M147 212.5h1M149 225.5h1M157 211.5h1M165 225.5h1M153 210.5h1M144 212.5h1M150 226.5h1M156 220.5h1M146 231.5h1M148 218.5h1M156 230.5h1M152 230.5h1M152 232.5h1M153 232.5h1M158 230.5h1M148 232.5h1M158 231.5h1M156 230.5h1M151 231.5h1M161 232.5h1M154 231.5h1M153 231.5h1M153 231.5h1M150 232.5h1M153 230.5h1M146 231.5h1M155 231.5h1M150 231.5h1M156 232.5h1M155 232.5h1M161 231.5h1M157 230.5h1M144 230.5h1M146 230.5h1M153 232.5h1M153 230.5h1M152 232.5h1M157 232.5h1M160 230.5h1M145 232.5h1M155 230.5h1M149 230.5h1M151 230.5h1M161 230.5h1M145 231.5h1M148 232.5h1M153 232.5h1M157 232.5h1M160 232.5h1M161 232.5h1M160 230.5h1M158 230.5h1M152 232.5h1M149 231.5h1M159 230.5h1M157 232.5h1M156 231.5h1M157 230.5h1M160 230.5h1M154 232.5h1M149 230.5h1M144 232.5h1M148 232.5h1M155 232.5h1M151 230.5h1M148 232.5h1M147 232.5h1M145 230.5h1M154 232.5h1M155 230.5h1M149 232.5h1M145 232.5h1M160 232.5h1M150 228.5h1M160 232.5h1M156 232.5h1M158 232.5h1M150 231.5h1M156 228.5h1M158 231.5h1M156 232.5h1M160 231.5h1M160 232.5h1M154 232.5h1M160 232.5h1M156 232.5h1M160 232.5h1M147 231.5h1M149 232.5h1M147 232.5h1M145 230.5h1M155 231.5h1M161 232.5h1M155 231.5h1M161 232.5h1M158 232.5h1M155 232.5h1M151 232.5h1M148 232.5h1M161 230.5h1M160 232.5h1M160 232.5h1M150 232.5h1M157 231.5h1M153 232.5h1M158 232.5h1M154 232.5h1M144 232.5h1M149 232.5h1M149 232.5h1M147 232.5h1M146 211.5h1M145 213.5h1M145 232.5h1M145 216.5h1M144 219.5h1M145 230.5h1M145 223.5h1M145 219.5h1M144 218.5h1M145 228.5h1M145 232.5h1M145 231.5h1M146 227.5h1M145 225.5h1M146 228.5h1M146 225.5h1M145 230.5h1M146 224.5h1M145 225.5h1M145 226.5h1M144 224.5h1M145 212.5h1M147 214.5h1M145 230.5h1M144 231.5h1M144 220.5h1M145 231.5h1M145 214.5h1M145 224.5h1M145 210.5h1M145 224.5h1M146 220.5h1M147 231.5h1M146 229.5h1M147 229.5h1M145 211.5h1M145 209.5h1M146 218.5h1M146 218.5h1M144 215.5h1M145 222.5h1M145 211.5h1M145 227.5h1M145 211.5h1M145 232.5h1M145 219.5h1M144 218.5h1M144 215.5h1M145 229.5h1M146 225.5h1M148 211.5h1M146 228.5h1M146 226.5h1M145 219.5h1M145 209.5h1M146 225.5h1M144 229.5h1M147 230.5h1M146 209.5h1M145 227.5h1M145 215.5h1M145 231.5h1M145 223.5h1M144 219.5h1M144 215.5h1M146 218.5h1M148 223.5h1M145 229.5h1M145 223.5h1M146 222.5h1M146 225.5h1M145 229.5h1M145 212.5h1M144 228.5h1M145 224.5h1M146 222.5h1M145 229.5h1M146 214.5h1M144 229.5h1M150 175.5h1M153 181.5h1M152 179.5h1M151 189.5h1M155 183.5h1M156 181.5h1M150 193.5h1M151 187.5h1M146 187.5h1M151 187.5h1M154 190.5h1M155 194.5h1M152 182.5h1M151 184.5h1M148 178.5h1M152 186.5h1M146 190.5h1M152 195.5h1M151 185.5h1M147 187.5h1M153 172.5h1M150 170.5h1M154 175.5h1M149 191.5h1M154 195.5h1M159 187.5h1M152 191.5h1M155 176.5h1M148 185.5h1M150 188.5h1M151 177.5h1M146 192.5h1M152 182.5h1M147 187.5h1M152 190.5h1M153 183.5h1M149 177.5h1M163 181.5h1M155 189.5h1M152 194.5h1M147 188.5h1M154 187.5h1M152 190.5h1M153 178.5h1M156 179.5h1M152 187.5h1M155 189.5h1M163 186.5h1M150 185.5h1M148 196.5h1M148 183.5h1M146 189.5h1M145 174.5h1M147 185.5h1M145 186.5h1M144 173.5h1M145 177.5h1M146 172.5h1M145 178.5h1M145 193.5h1M147 186.5h1M145 178.5h1M145 193.5h1M144 187.5h1M146 195.5h1M146 187.5h1M145 184.5h1M145 194.5h1M147 183.5h1M148 195.5h1M148 185.5h1M148 180.5h1M146 179.5h1M145 187.5h1M145 194.5h1M144 173.5h1M145 184.5h1M146 186.5h1M145 198.5h1M148 178.5h1M148 178.5h1M145 179.5h1M145 187.5h1M149 186.5h1M145 177.5h1M145 174.5h1M145 183.5h1M145 182.5h1M146 176.5h1M145 190.5h1M210 229.5h1M208 215.5h1M210 223.5h1M205 215.5h1M206 227.5h1M208 222.5h1M207 227.5h1M209 219.5h1M207 223.5h1M208 215.5h1M206 217.5h1M211 220.5h1M208 223.5h1M206 225.5h1M210 223.5h1M209 217.5h1M209 222.5h1M209 220.5h1M208 223.5h1M208 223.5h1M204 227.5h1M206 218.5h1M209 219.5h1M211 230.5h1M208 209.5h1M208 231.5h1M211 215.5h1M208 221.5h1M210 220.5h1M209 214.5h1M206 216.5h1M209 222.5h1M209 230.5h1M206 231.5h1M206 221.5h1M206 211.5h1M211 216.5h1M212 223.5h1M210 220.5h1M211 218.5h1M206 210.5h1M211 228.5h1M212 217.5h1M211 221.5h1M204 230.5h1M208 232.5h1M207 231.5h1M203 230.5h1M201 230.5h1M206 231.5h1M210 231.5h1M203 230.5h1M204 231.5h1M201 232.5h1M210 232.5h1M198 230.5h1M203 232.5h1M199 232.5h1M203 232.5h1M206 232.5h1M199 232.5h1M207 232.5h1M201 232.5h1M200 232.5h1M202 231.5h1M210 231.5h1M210 231.5h1M202 230.5h1M198 232.5h1M199 230.5h1M204 232.5h1M198 231.5h1M207 232.5h1M206 231.5h1M203 231.5h1M199 230.5h1M211 232.5h1M202 232.5h1M201 231.5h1M211 231.5h1M208 231.5h1M205 232.5h1M202 231.5h1M209 230.5h1M207 232.5h1M210 231.5h1M211 230.5h1M205 232.5h1M209 231.5h1M209 226.5h1M199 232.5h1M201 231.5h1M203 232.5h1M212 232.5h1M211 231.5h1M211 232.5h1M201 232.5h1M210 232.5h1M204 232.5h1M205 232.5h1M206 232.5h1M208 231.5h1M201 232.5h1M202 230.5h1M197 232.5h1M210 232.5h1M203 232.5h1M212 232.5h1M200 231.5h1M196 212.5h1M195 218.5h1M197 218.5h1M205 231.5h1M208 232.5h1M198 218.5h1M199 215.5h1M194 213.5h1M202 210.5h1M194 213.5h1M198 220.5h1M209 217.5h1M202 225.5h1M198 211.5h1M206 211.5h1M192 217.5h1M206 228.5h1M207 220.5h1M201 217.5h1M196 214.5h1M196 218.5h1M209 215.5h1M206 215.5h1M211 218.5h1M196 230.5h1M200 216.5h1M207 222.5h1M203 215.5h1M201 230.5h1M195 222.5h1M210 226.5h1M196 222.5h1M206 211.5h1M204 215.5h1M207 213.5h1M207 214.5h1M201 231.5h1M202 216.5h1M194 216.5h1M206 216.5h1M197 227.5h1M194 224.5h1M193 218.5h1M198 227.5h1M195 221.5h1M195 224.5h1M200 231.5h1M199 231.5h1M197 228.5h1M195 223.5h1M204 212.5h1M202 216.5h1M200 226.5h1M196 215.5h1M207 215.5h1M194 212.5h1M199 217.5h1M196 219.5h1M206 218.5h1M202 231.5h1M183 222.5h1M173 230.5h1M184 225.5h1M185 218.5h1M179 232.5h1M175 214.5h1"/>
</g>
<g>
<path class="ax" d="M309.5 150.2V233.4H395.79999999999995"/>
<path class="tkl" d="M311.00 233.4v2.2M309.5 233.40h-2.4M332.10 233.4v2.2M309.5 212.72h-2.4M353.20 233.4v2.2M309.5 192.05h-2.4M374.30 233.4v2.2M309.5 171.38h-2.4M395.40 233.4v2.2M309.5 150.70h-2.4"/>
<path class="mkl" d="M317.35 233.4v1.2M309.5 227.18h-1.2M321.07 233.4v1.2M309.5 223.54h-1.2M323.70 233.4v1.2M309.5 220.95h-1.2M325.75 233.4v1.2M309.5 218.95h-1.2M327.42 233.4v1.2M309.5 217.31h-1.2M328.83 233.4v1.2M309.5 215.93h-1.2M330.06 233.4v1.2M309.5 214.73h-1.2M331.13 233.4v1.2M309.5 213.67h-1.2M338.45 233.4v1.2M309.5 206.50h-1.2M342.17 233.4v1.2M309.5 202.86h-1.2M344.80 233.4v1.2M309.5 200.28h-1.2M346.85 233.4v1.2M309.5 198.27h-1.2M348.52 233.4v1.2M309.5 196.64h-1.2M349.93 233.4v1.2M309.5 195.25h-1.2M351.16 233.4v1.2M309.5 194.05h-1.2M352.23 233.4v1.2M309.5 193.00h-1.2M359.55 233.4v1.2M309.5 185.83h-1.2M363.27 233.4v1.2M309.5 182.19h-1.2M365.90 233.4v1.2M309.5 179.60h-1.2M367.95 233.4v1.2M309.5 177.60h-1.2M369.62 233.4v1.2M309.5 175.96h-1.2M371.03 233.4v1.2M309.5 174.58h-1.2M372.26 233.4v1.2M309.5 173.38h-1.2M373.33 233.4v1.2M309.5 172.32h-1.2M380.65 233.4v1.2M309.5 165.15h-1.2M384.37 233.4v1.2M309.5 161.51h-1.2M387.00 233.4v1.2M309.5 158.93h-1.2M389.05 233.4v1.2M309.5 156.92h-1.2M390.72 233.4v1.2M309.5 155.29h-1.2M392.13 233.4v1.2M309.5 153.90h-1.2M393.36 233.4v1.2M309.5 152.70h-1.2M394.43 233.4v1.2M309.5 151.65h-1.2"/>
<path class="gt" d="M309.5 207.4H395.4M342.2 149.7V233.4"/>
<text x="304.90" y="244.10" class="tk">10<tspan dy="-2.8" font-size="5">0</tspan></text>
<text transform="translate(305.30 235.20) rotate(-90)" class="tk">10<tspan dy="-2.8" font-size="5">0</tspan></text>
<text x="325.50" y="244.10" class="tk">10<tspan dy="-2.8" font-size="5">1</tspan></text>
<text transform="translate(305.30 215.50) rotate(-90)" class="tk">10<tspan dy="-2.8" font-size="5">1</tspan></text>
<text x="347.90" y="244.10" class="tk">10<tspan dy="-2.8" font-size="5">2</tspan></text>
<text transform="translate(305.30 195.80) rotate(-90)" class="tk">10<tspan dy="-2.8" font-size="5">2</tspan></text>
<text x="368.10" y="244.10" class="tk">10<tspan dy="-2.8" font-size="5">3</tspan></text>
<text transform="translate(305.30 176.10) rotate(-90)" class="tk">10<tspan dy="-2.8" font-size="5">3</tspan></text>
<text x="386.10" y="244.10" class="tk">10<tspan dy="-2.8" font-size="5">4</tspan></text>
<text transform="translate(305.30 156.40) rotate(-90)" class="tk">10<tspan dy="-2.8" font-size="5">4</tspan></text>
<text transform="translate(292.90 210.40) rotate(-90)" class="lb" word-spacing="0.18" textLength="42.4" lengthAdjust="spacingAndGlyphs">CD8 APC</text>
<text x="337.50" y="255.90" class="lb" word-spacing="0.55" textLength="35.6" lengthAdjust="spacingAndGlyphs">CD4 PE</text>
<path class="dots" d="M315 219.5h1M316 230.5h1M325 230.5h1M332 224.5h1M323 217.5h1M316 225.5h1M330 228.5h1M313 231.5h1M322 232.5h1M332 223.5h1M319 223.5h1M317 221.5h1M311 230.5h1M323 230.5h1M311 221.5h1M319 223.5h1M321 223.5h1M319 223.5h1M320 228.5h1M315 222.5h1M329 230.5h1M320 219.5h1M315 227.5h1M318 230.5h1M313 230.5h1M313 232.5h1M319 231.5h1M320 219.5h1M311 230.5h1M319 230.5h1M314 229.5h1M319 230.5h1M313 232.5h1M311 232.5h1M322 229.5h1M312 228.5h1M326 226.5h1M318 211.5h1M325 222.5h1M315 229.5h1M311 229.5h1M311 228.5h1M315 232.5h1M315 224.5h1M322 230.5h1M314 217.5h1M311 232.5h1M319 231.5h1M336 225.5h1M326 231.5h1M328 224.5h1M318 232.5h1M323 225.5h1M312 217.5h1M313 232.5h1M318 218.5h1M312 221.5h1M318 228.5h1M311 229.5h1M315 223.5h1M315 214.5h1M319 226.5h1M323 231.5h1M325 228.5h1M311 223.5h1M312 232.5h1M321 232.5h1M317 227.5h1M318 220.5h1M331 227.5h1M312 228.5h1M318 227.5h1M312 230.5h1M321 215.5h1M314 222.5h1M313 232.5h1M315 227.5h1M327 231.5h1M324 227.5h1M323 221.5h1M332 227.5h1M329 223.5h1M325 223.5h1M344 228.5h1M329 232.5h1M315 232.5h1M319 230.5h1M311 228.5h1M322 232.5h1M313 221.5h1M318 219.5h1M313 229.5h1M323 215.5h1M325 225.5h1M314 232.5h1M314 231.5h1M319 231.5h1M311 219.5h1M312 230.5h1M344 229.5h1M314 229.5h1M320 222.5h1M326 232.5h1M313 224.5h1M322 223.5h1M339 232.5h1M320 232.5h1M329 228.5h1M318 224.5h1M323 213.5h1M314 232.5h1M311 212.5h1M326 218.5h1M324 232.5h1M333 221.5h1M324 213.5h1M327 213.5h1M329 212.5h1M315 221.5h1M322 231.5h1M337 225.5h1M342 226.5h1M326 218.5h1M320 227.5h1M338 220.5h1M328 226.5h1M312 222.5h1M316 218.5h1M331 214.5h1M314 232.5h1M327 222.5h1M341 225.5h1M327 218.5h1M325 216.5h1M336 216.5h1M327 229.5h1M337 229.5h1M311 213.5h1M337 226.5h1M316 217.5h1M317 232.5h1M328 219.5h1M332 228.5h1M316 217.5h1M336 231.5h1M326 212.5h1M334 217.5h1M322 218.5h1M322 222.5h1M327 214.5h1M331 223.5h1M335 218.5h1M321 224.5h1M330 232.5h1M319 222.5h1M333 214.5h1M323 218.5h1M340 231.5h1M334 232.5h1M313 229.5h1M331 218.5h1M323 226.5h1M321 227.5h1M317 213.5h1M333 232.5h1M338 214.5h1M325 225.5h1M326 214.5h1M321 226.5h1M336 221.5h1M342 230.5h1M325 226.5h1M325 218.5h1M317 217.5h1M320 229.5h1M323 218.5h1M324 210.5h1M316 219.5h1M322 226.5h1M312 217.5h1M319 219.5h1M331 218.5h1M339 214.5h1M317 211.5h1M333 229.5h1M318 227.5h1M341 230.5h1M318 210.5h1M312 210.5h1M341 215.5h1M321 218.5h1M317 229.5h1M325 226.5h1M337 230.5h1M323 225.5h1M325 231.5h1M331 232.5h1M311 232.5h1M339 223.5h1M333 229.5h1M329 232.5h1M322 215.5h1M341 215.5h1M313 211.5h1M311 214.5h1M329 211.5h1M332 218.5h1M315 221.5h1M337 223.5h1M324 225.5h1M321 232.5h1M333 216.5h1M323 226.5h1M316 216.5h1M324 211.5h1M312 215.5h1M320 221.5h1M329 220.5h1M313 212.5h1M324 227.5h1M326 219.5h1M312 219.5h1M317 219.5h1M312 226.5h1M327 222.5h1M331 221.5h1M311 215.5h1M328 211.5h1M338 232.5h1M312 214.5h1M329 222.5h1M321 218.5h1M315 220.5h1M338 214.5h1M320 223.5h1M337 224.5h1M339 220.5h1M318 210.5h1M338 223.5h1M339 223.5h1M325 232.5h1M339 232.5h1M316 229.5h1M328 232.5h1M328 229.5h1M336 231.5h1M321 231.5h1M328 232.5h1M318 231.5h1M322 229.5h1M314 231.5h1M319 232.5h1M322 230.5h1M320 232.5h1M323 231.5h1M319 230.5h1M319 231.5h1M321 232.5h1M330 230.5h1M329 229.5h1M338 230.5h1M315 229.5h1M334 231.5h1M314 232.5h1M318 232.5h1M312 230.5h1M325 229.5h1M312 232.5h1M313 229.5h1M329 230.5h1M329 232.5h1M314 229.5h1M329 231.5h1M323 232.5h1M335 231.5h1M327 232.5h1M326 231.5h1M339 229.5h1M319 232.5h1M324 231.5h1M333 231.5h1M331 232.5h1M313 230.5h1M312 232.5h1M319 229.5h1M338 229.5h1M313 231.5h1M312 232.5h1M337 232.5h1M315 232.5h1M320 231.5h1M335 230.5h1M322 232.5h1M313 230.5h1M323 231.5h1M332 229.5h1M316 231.5h1M319 231.5h1M321 230.5h1M312 231.5h1M330 230.5h1M314 231.5h1M317 232.5h1M324 229.5h1M332 229.5h1M314 232.5h1M338 232.5h1M325 231.5h1M316 232.5h1M316 231.5h1M326 232.5h1M314 231.5h1M316 231.5h1M338 229.5h1M336 230.5h1M328 232.5h1M332 230.5h1M315 229.5h1M319 232.5h1M312 231.5h1M327 232.5h1M312 232.5h1M314 231.5h1M339 232.5h1M314 231.5h1M339 232.5h1M326 232.5h1M325 231.5h1M315 232.5h1M322 232.5h1M321 229.5h1M331 231.5h1M338 231.5h1M320 232.5h1M312 229.5h1M338 230.5h1M325 232.5h1M323 230.5h1M332 230.5h1M329 231.5h1M326 231.5h1M315 232.5h1M333 230.5h1M318 232.5h1M328 232.5h1M317 230.5h1M318 229.5h1M329 229.5h1M332 232.5h1M338 230.5h1M330 232.5h1M329 232.5h1M328 231.5h1M319 231.5h1M337 231.5h1M328 229.5h1M313 231.5h1M325 231.5h1M321 231.5h1M316 232.5h1M331 230.5h1M334 232.5h1M336 231.5h1M336 232.5h1M339 230.5h1M317 231.5h1M327 230.5h1M323 232.5h1M331 231.5h1M330 229.5h1M314 230.5h1M319 232.5h1M318 232.5h1M314 230.5h1M319 229.5h1M325 231.5h1M320 230.5h1M316 230.5h1M334 229.5h1M313 231.5h1M318 232.5h1M330 232.5h1M323 229.5h1M329 232.5h1M314 230.5h1M337 230.5h1M322 229.5h1M334 231.5h1M323 232.5h1M334 229.5h1M330 231.5h1M342 232.5h1M335 232.5h1M332 232.5h1M326 232.5h1M312 232.5h1M337 232.5h1M322 232.5h1M313 229.5h1M334 232.5h1M342 232.5h1M334 232.5h1M317 232.5h1M322 232.5h1M322 232.5h1M321 232.5h1M332 231.5h1M334 232.5h1M320 232.5h1M324 231.5h1M321 232.5h1M319 231.5h1M332 232.5h1M336 232.5h1M333 232.5h1M341 232.5h1M340 232.5h1M341 232.5h1M336 232.5h1M323 232.5h1M320 183.5h1M324 195.5h1M317 190.5h1M323 184.5h1M315 188.5h1M326 191.5h1M316 188.5h1M327 185.5h1M329 186.5h1M315 176.5h1M327 211.5h1M322 196.5h1M330 194.5h1M321 185.5h1M322 189.5h1M322 184.5h1M330 200.5h1M314 192.5h1M328 186.5h1M324 191.5h1M321 193.5h1M322 188.5h1M329 179.5h1M328 205.5h1M333 179.5h1M320 188.5h1M314 196.5h1M321 186.5h1M323 190.5h1M321 182.5h1M330 196.5h1M336 184.5h1M326 196.5h1M314 188.5h1M353 218.5h1M371 226.5h1M347 218.5h1M355 216.5h1M383 222.5h1M358 220.5h1M374 222.5h1M373 227.5h1M367 228.5h1M378 219.5h1M354 230.5h1M352 225.5h1M377 226.5h1M359 216.5h1M354 223.5h1M366 228.5h1M373 225.5h1M366 232.5h1M366 232.5h1M376 232.5h1M365 232.5h1M367 232.5h1M382 230.5h1M366 229.5h1M374 232.5h1M384 232.5h1"/>
</g>
<g>
<path class="ax" d="M428.7 150.2V233.4H516.5"/>
<path class="tkl" d="M430.20 233.4v2.2M428.7 233.40h-2.4M451.68 233.4v2.2M428.7 212.72h-2.4M473.15 233.4v2.2M428.7 192.05h-2.4M494.62 233.4v2.2M428.7 171.38h-2.4M516.10 233.4v2.2M428.7 150.70h-2.4"/>
<path class="mkl" d="M436.66 233.4v1.2M428.7 227.18h-1.2M440.45 233.4v1.2M428.7 223.54h-1.2M443.13 233.4v1.2M428.7 220.95h-1.2M445.21 233.4v1.2M428.7 218.95h-1.2M446.91 233.4v1.2M428.7 217.31h-1.2M448.35 233.4v1.2M428.7 215.93h-1.2M449.59 233.4v1.2M428.7 214.73h-1.2M450.69 233.4v1.2M428.7 213.67h-1.2M458.14 233.4v1.2M428.7 206.50h-1.2M461.92 233.4v1.2M428.7 202.86h-1.2M464.60 233.4v1.2M428.7 200.28h-1.2M466.69 233.4v1.2M428.7 198.27h-1.2M468.39 233.4v1.2M428.7 196.64h-1.2M469.82 233.4v1.2M428.7 195.25h-1.2M471.07 233.4v1.2M428.7 194.05h-1.2M472.17 233.4v1.2M428.7 193.00h-1.2M479.61 233.4v1.2M428.7 185.83h-1.2M483.40 233.4v1.2M428.7 182.19h-1.2M486.08 233.4v1.2M428.7 179.60h-1.2M488.16 233.4v1.2M428.7 177.60h-1.2M489.86 233.4v1.2M428.7 175.96h-1.2M491.30 233.4v1.2M428.7 174.58h-1.2M492.54 233.4v1.2M428.7 173.38h-1.2M493.64 233.4v1.2M428.7 172.32h-1.2M501.09 233.4v1.2M428.7 165.15h-1.2M504.87 233.4v1.2M428.7 161.51h-1.2M507.55 233.4v1.2M428.7 158.93h-1.2M509.64 233.4v1.2M428.7 156.92h-1.2M511.34 233.4v1.2M428.7 155.29h-1.2M512.77 233.4v1.2M428.7 153.90h-1.2M514.02 233.4v1.2M428.7 152.70h-1.2M515.12 233.4v1.2M428.7 151.65h-1.2"/>
<path class="gt" d="M428.7 207.4H516.1M461.4 149.7V233.4"/>
<text x="424.10" y="244.10" class="tk">10<tspan dy="-2.8" font-size="5">0</tspan></text>
<text transform="translate(424.50 235.60) rotate(-90)" class="tk">10<tspan dy="-2.8" font-size="5">0</tspan></text>
<text x="444.70" y="244.10" class="tk">10<tspan dy="-2.8" font-size="5">1</tspan></text>
<text transform="translate(424.50 215.90) rotate(-90)" class="tk">10<tspan dy="-2.8" font-size="5">1</tspan></text>
<text x="467.10" y="244.10" class="tk">10<tspan dy="-2.8" font-size="5">2</tspan></text>
<text transform="translate(424.50 196.20) rotate(-90)" class="tk">10<tspan dy="-2.8" font-size="5">2</tspan></text>
<text x="487.30" y="244.10" class="tk">10<tspan dy="-2.8" font-size="5">3</tspan></text>
<text transform="translate(424.50 176.50) rotate(-90)" class="tk">10<tspan dy="-2.8" font-size="5">3</tspan></text>
<text x="505.30" y="244.10" class="tk">10<tspan dy="-2.8" font-size="5">4</tspan></text>
<text transform="translate(424.50 156.80) rotate(-90)" class="tk">10<tspan dy="-2.8" font-size="5">4</tspan></text>
<text transform="translate(410.90 209.90) rotate(-90)" class="lb" word-spacing="-0.02" textLength="42.2" lengthAdjust="spacingAndGlyphs">CD8 APC</text>
<text x="456.00" y="255.90" class="lb" word-spacing="0.85" textLength="35.9" lengthAdjust="spacingAndGlyphs">CD4 PE</text>
<path class="dots" d="M433 228.5h1M451 229.5h1M434 230.5h1M446 231.5h1M432 231.5h1M451 232.5h1M448 231.5h1M450 228.5h1M453 230.5h1M445 231.5h1M451 231.5h1M453 231.5h1M432 231.5h1M431 231.5h1M447 230.5h1M444 229.5h1M435 229.5h1M446 229.5h1M445 230.5h1M438 229.5h1M431 232.5h1M453 230.5h1M443 229.5h1M432 229.5h1M449 228.5h1M450 232.5h1M439 229.5h1M448 229.5h1M431 231.5h1M446 232.5h1M453 231.5h1M447 229.5h1M436 232.5h1M439 229.5h1M446 229.5h1M440 230.5h1M453 230.5h1M448 228.5h1M440 232.5h1M446 232.5h1M431 230.5h1M438 232.5h1M431 232.5h1M438 232.5h1M434 228.5h1M441 230.5h1M437 232.5h1M431 231.5h1M433 232.5h1M439 231.5h1M444 232.5h1M436 229.5h1M439 230.5h1M452 232.5h1M439 229.5h1M441 231.5h1M441 232.5h1M452 229.5h1M434 229.5h1M441 230.5h1M449 231.5h1M442 229.5h1M438 228.5h1M439 230.5h1M434 228.5h1M446 230.5h1M450 232.5h1M447 229.5h1M431 229.5h1M448 232.5h1M447 232.5h1M439 232.5h1M436 232.5h1M452 231.5h1M433 230.5h1M448 230.5h1M436 230.5h1M443 229.5h1M446 232.5h1M451 228.5h1M448 229.5h1M432 232.5h1M450 232.5h1M453 232.5h1M431 230.5h1M437 230.5h1M451 232.5h1M442 229.5h1M430 231.5h1M448 229.5h1M453 229.5h1M433 232.5h1M450 232.5h1M444 230.5h1M444 232.5h1M431 230.5h1M453 229.5h1M453 232.5h1M433 229.5h1M449 231.5h1M438 230.5h1M430 230.5h1M442 229.5h1M450 230.5h1M443 230.5h1M431 230.5h1M450 232.5h1M440 230.5h1M443 232.5h1M439 231.5h1M453 229.5h1M442 228.5h1M449 229.5h1M452 229.5h1M444 228.5h1M450 228.5h1M435 231.5h1M434 229.5h1M447 232.5h1M446 230.5h1M452 231.5h1M438 228.5h1M434 232.5h1M440 232.5h1M451 230.5h1M443 230.5h1M437 230.5h1M442 230.5h1M447 232.5h1M432 230.5h1M446 231.5h1M440 232.5h1M450 229.5h1M449 229.5h1M448 230.5h1M431 231.5h1M442 232.5h1M431 232.5h1M438 228.5h1M434 230.5h1M441 230.5h1M435 231.5h1M437 231.5h1M447 230.5h1M448 231.5h1M448 229.5h1M447 232.5h1M438 232.5h1M431 228.5h1M431 232.5h1M443 231.5h1M452 229.5h1M442 232.5h1M441 230.5h1M450 231.5h1M439 228.5h1M435 230.5h1M452 230.5h1M430 230.5h1M442 229.5h1M434 231.5h1M436 232.5h1M452 230.5h1M446 231.5h1M443 232.5h1M432 229.5h1M452 229.5h1M440 228.5h1M432 228.5h1M443 232.5h1M432 231.5h1M450 229.5h1M439 232.5h1M437 229.5h1M436 230.5h1M435 231.5h1M434 228.5h1M444 230.5h1M434 232.5h1M443 229.5h1M449 213.5h1M433 229.5h1M450 223.5h1M433 224.5h1M444 221.5h1M440 219.5h1M448 224.5h1M451 218.5h1M432 219.5h1M439 222.5h1M448 232.5h1M438 227.5h1M433 225.5h1M440 217.5h1M431 225.5h1M434 227.5h1M448 232.5h1M448 217.5h1M447 225.5h1M431 221.5h1M444 214.5h1M439 218.5h1M444 228.5h1M437 227.5h1M436 219.5h1M450 215.5h1M445 229.5h1M443 224.5h1M441 228.5h1M436 230.5h1M439 218.5h1M449 224.5h1M448 224.5h1M432 214.5h1M447 232.5h1M444 228.5h1M444 232.5h1M437 232.5h1M450 221.5h1M442 226.5h1M448 218.5h1M431 229.5h1M441 230.5h1M435 217.5h1M439 232.5h1M437 221.5h1M442 232.5h1M433 212.5h1M439 213.5h1M437 232.5h1M444 212.5h1M435 221.5h1M437 217.5h1M435 214.5h1M450 223.5h1M432 223.5h1M434 226.5h1M449 219.5h1M438 232.5h1M446 218.5h1M431 217.5h1M433 218.5h1M443 219.5h1M433 226.5h1M435 218.5h1M438 224.5h1M443 219.5h1M433 227.5h1M431 227.5h1M438 219.5h1M444 229.5h1M447 215.5h1M442 215.5h1M437 221.5h1M450 227.5h1M436 225.5h1M446 230.5h1M446 217.5h1M444 212.5h1M441 230.5h1M434 231.5h1M442 223.5h1M430 212.5h1M450 228.5h1M441 228.5h1M440 224.5h1M450 226.5h1M448 227.5h1M436 220.5h1M450 231.5h1M431 220.5h1M435 222.5h1M454 227.5h1M431 227.5h1M430 219.5h1M437 229.5h1M430 218.5h1M431 231.5h1M431 224.5h1M432 227.5h1M446 232.5h1M430 218.5h1M443 213.5h1M433 224.5h1M436 228.5h1M431 219.5h1M450 230.5h1M430 214.5h1M432 222.5h1M432 218.5h1M431 226.5h1M431 221.5h1M431 220.5h1M431 219.5h1M432 216.5h1M434 223.5h1M442 223.5h1M433 224.5h1M430 232.5h1M434 225.5h1M434 213.5h1M434 218.5h1M432 225.5h1M434 215.5h1M430 227.5h1M431 224.5h1M431 227.5h1M432 224.5h1M434 230.5h1M433 220.5h1M431 230.5h1M433 223.5h1M439 216.5h1M441 213.5h1M432 218.5h1M437 225.5h1M434 228.5h1M448 227.5h1M431 227.5h1M430 218.5h1M441 216.5h1M431 230.5h1M432 223.5h1M435 216.5h1M443 218.5h1M431 231.5h1M437 220.5h1M431 212.5h1M430 214.5h1M431 228.5h1M431 214.5h1M433 211.5h1M433 212.5h1M439 214.5h1M432 230.5h1M447 223.5h1M442 218.5h1M430 214.5h1M436 215.5h1M433 224.5h1M433 225.5h1M434 218.5h1M432 227.5h1M430 224.5h1M433 214.5h1M438 227.5h1M439 214.5h1M434 232.5h1M430 231.5h1M435 225.5h1M445 218.5h1M446 228.5h1M436 212.5h1M431 220.5h1M436 231.5h1M438 228.5h1M432 214.5h1M430 230.5h1M430 232.5h1M431 227.5h1M436 232.5h1M443 228.5h1M431 222.5h1M436 215.5h1M444 223.5h1M440 221.5h1M435 230.5h1M437 225.5h1M430 219.5h1M432 222.5h1M440 229.5h1M432 229.5h1M441 228.5h1M435 216.5h1M440 230.5h1M433 225.5h1M432 230.5h1M449 230.5h1M433 218.5h1M436 232.5h1M433 222.5h1M439 230.5h1M430 228.5h1M431 218.5h1M437 232.5h1M434 227.5h1M435 226.5h1M445 228.5h1M434 226.5h1M444 230.5h1M445 232.5h1M448 210.5h1M430 216.5h1M434 228.5h1M439 232.5h1M436 222.5h1M432 221.5h1M437 231.5h1M431 220.5h1M433 218.5h1M430 218.5h1M446 232.5h1M439 232.5h1M439 230.5h1M438 216.5h1M447 227.5h1M460 221.5h1M441 228.5h1M450 218.5h1M435 214.5h1M433 222.5h1M442 232.5h1M430 227.5h1M430 228.5h1M438 225.5h1M432 227.5h1M431 230.5h1M458 221.5h1M444 215.5h1M442 219.5h1M437 231.5h1M461 223.5h1M431 230.5h1M434 225.5h1M451 223.5h1M434 226.5h1M434 232.5h1M447 221.5h1M431 228.5h1M434 212.5h1M431 229.5h1M442 221.5h1M462 230.5h1M445 222.5h1M452 227.5h1M435 232.5h1M446 223.5h1M440 225.5h1M449 230.5h1M445 226.5h1M447 217.5h1M430 230.5h1M455 228.5h1M432 213.5h1M433 219.5h1M434 216.5h1M450 232.5h1M452 227.5h1M440 230.5h1M432 214.5h1M436 227.5h1M431 225.5h1M452 224.5h1M436 225.5h1M449 230.5h1M439 226.5h1M437 232.5h1M436 229.5h1M451 229.5h1M432 232.5h1M433 232.5h1M446 230.5h1M454 217.5h1M436 212.5h1M451 230.5h1M433 230.5h1M434 219.5h1M438 219.5h1M451 232.5h1M440 229.5h1M434 230.5h1M431 226.5h1M445 228.5h1M430 228.5h1M430 221.5h1M432 224.5h1M450 227.5h1M432 223.5h1M433 227.5h1M440 223.5h1M439 212.5h1M434 225.5h1M430 232.5h1M430 230.5h1M437 221.5h1M432 223.5h1M430 217.5h1M450 229.5h1M431 220.5h1M445 231.5h1M444 228.5h1M433 214.5h1M431 221.5h1M431 224.5h1M464 230.5h1M440 225.5h1M437 223.5h1M448 229.5h1M451 228.5h1M432 228.5h1M436 230.5h1M439 230.5h1M447 229.5h1M433 224.5h1M432 219.5h1M432 222.5h1M441 228.5h1M432 211.5h1M430 218.5h1M432 232.5h1M444 226.5h1M431 232.5h1M434 218.5h1M440 222.5h1M444 212.5h1M437 232.5h1M448 229.5h1M431 227.5h1M430 232.5h1M454 222.5h1M434 218.5h1M434 222.5h1M433 227.5h1M439 232.5h1M439 231.5h1M435 231.5h1M433 232.5h1M435 222.5h1M442 225.5h1M442 225.5h1M443 219.5h1M430 229.5h1M433 232.5h1M431 226.5h1M451 229.5h1M438 231.5h1M449 227.5h1M434 230.5h1M436 218.5h1M441 214.5h1M436 221.5h1M430 231.5h1M434 228.5h1M435 227.5h1M447 224.5h1M439 229.5h1M444 224.5h1M441 222.5h1M440 227.5h1M432 222.5h1M444 226.5h1M451 229.5h1M433 229.5h1M439 230.5h1M437 230.5h1M437 223.5h1M438 231.5h1M431 230.5h1M449 225.5h1M435 215.5h1M442 228.5h1M435 232.5h1M449 228.5h1M433 232.5h1M432 228.5h1M439 232.5h1M437 228.5h1M430 231.5h1M451 214.5h1M447 226.5h1M436 232.5h1M434 227.5h1M446 228.5h1M431 220.5h1M455 214.5h1M434 230.5h1M460 217.5h1M438 232.5h1M457 215.5h1M457 222.5h1M436 227.5h1M449 230.5h1M439 218.5h1M456 227.5h1M432 231.5h1M437 216.5h1M449 230.5h1M437 220.5h1M435 223.5h1M444 217.5h1M430 230.5h1M435 232.5h1M435 224.5h1M448 231.5h1M432 225.5h1M447 230.5h1M447 230.5h1M459 224.5h1M434 230.5h1M435 231.5h1M431 219.5h1M441 220.5h1M437 221.5h1M446 227.5h1M439 212.5h1M455 225.5h1M442 232.5h1M432 232.5h1M447 226.5h1M433 232.5h1M430 230.5h1M431 232.5h1M445 222.5h1M431 215.5h1M435 227.5h1M453 230.5h1M447 232.5h1M431 226.5h1M434 215.5h1M436 222.5h1M433 228.5h1M443 223.5h1M438 228.5h1M462 228.5h1M450 211.5h1M434 220.5h1M449 215.5h1M431 211.5h1M446 221.5h1M452 229.5h1M442 211.5h1M436 231.5h1M442 225.5h1M436 227.5h1M443 219.5h1M431 230.5h1M458 225.5h1M433 215.5h1M431 224.5h1M433 229.5h1M451 215.5h1M432 231.5h1M435 229.5h1M441 217.5h1M436 232.5h1M444 220.5h1M449 210.5h1M453 218.5h1M432 229.5h1M437 227.5h1M436 220.5h1M434 227.5h1M435 223.5h1M434 227.5h1M451 229.5h1M434 232.5h1M435 226.5h1M436 213.5h1M433 232.5h1M446 220.5h1M440 230.5h1M443 222.5h1M432 220.5h1M431 231.5h1M442 230.5h1M437 231.5h1M446 229.5h1M461 214.5h1M452 229.5h1M434 229.5h1M430 224.5h1M441 232.5h1M430 232.5h1M434 228.5h1M455 227.5h1M431 219.5h1M432 232.5h1M443 232.5h1M430 217.5h1M433 220.5h1M443 222.5h1M439 230.5h1M454 225.5h1M440 218.5h1M436 229.5h1M434 226.5h1M437 226.5h1M433 231.5h1M430 214.5h1M445 232.5h1M431 216.5h1M435 221.5h1M443 222.5h1M435 231.5h1M431 221.5h1M432 228.5h1M430 228.5h1M431 231.5h1M437 230.5h1M434 226.5h1M442 229.5h1M435 232.5h1M444 225.5h1M430 231.5h1M444 228.5h1M441 225.5h1M438 229.5h1M436 216.5h1M458 231.5h1M436 229.5h1M439 228.5h1M436 229.5h1M441 228.5h1M434 229.5h1M440 229.5h1M442 213.5h1M451 228.5h1M432 228.5h1M440 232.5h1M434 232.5h1M432 213.5h1M431 223.5h1M434 228.5h1M438 232.5h1M445 232.5h1M441 226.5h1M448 232.5h1M432 227.5h1M451 231.5h1M441 224.5h1M444 228.5h1M436 230.5h1M445 211.5h1M450 218.5h1M441 228.5h1M430 228.5h1M435 232.5h1M435 231.5h1M455 231.5h1M462 230.5h1M432 222.5h1M430 228.5h1M432 228.5h1M430 211.5h1M433 229.5h1M434 230.5h1M450 225.5h1M431 225.5h1M436 232.5h1M441 231.5h1M449 212.5h1M439 224.5h1M444 232.5h1M443 228.5h1M446 224.5h1M439 217.5h1M433 227.5h1M438 225.5h1M433 230.5h1M462 225.5h1M440 223.5h1M439 230.5h1M448 232.5h1M436 220.5h1M440 220.5h1M439 231.5h1M432 226.5h1M433 231.5h1M441 231.5h1M440 218.5h1M464 213.5h1M456 212.5h1M449 230.5h1M453 232.5h1M461 230.5h1M461 218.5h1M451 232.5h1M460 228.5h1M453 232.5h1M450 219.5h1M457 218.5h1M453 228.5h1M460 227.5h1M462 211.5h1M464 223.5h1M460 227.5h1M453 218.5h1M453 217.5h1M450 221.5h1M455 231.5h1M460 227.5h1M448 215.5h1M449 227.5h1M459 229.5h1M451 227.5h1M456 216.5h1M456 213.5h1M450 213.5h1M462 213.5h1M455 213.5h1M447 211.5h1M462 214.5h1M459 219.5h1M450 226.5h1M461 211.5h1M449 228.5h1M455 226.5h1M458 216.5h1M464 223.5h1M463 232.5h1M431 215.5h1M436 219.5h1M431 211.5h1M430 223.5h1M430 231.5h1M431 223.5h1M430 221.5h1M430 216.5h1M431 215.5h1M430 232.5h1M430 228.5h1M431 230.5h1M430 213.5h1M430 231.5h1M430 214.5h1M430 229.5h1M431 214.5h1M431 222.5h1M430 215.5h1M430 212.5h1M432 211.5h1M430 231.5h1M430 214.5h1M430 217.5h1M431 225.5h1M431 228.5h1M430 219.5h1M430 218.5h1M430 230.5h1M430 217.5h1M431 221.5h1M430 218.5h1M432 215.5h1M430 223.5h1M430 213.5h1M431 220.5h1M431 227.5h1M430 225.5h1M430 226.5h1M431 212.5h1M437 198.5h1M436 201.5h1M440 199.5h1M437 188.5h1M436 201.5h1M435 187.5h1M439 188.5h1M436 201.5h1M470 217.5h1M499 222.5h1M488 230.5h1M499 221.5h1M503 226.5h1M472 221.5h1M491 217.5h1M475 219.5h1M485 228.5h1M470 215.5h1M497 226.5h1M481 212.5h1M471 219.5h1M470 230.5h1M482 207.5h1M477 225.5h1M493 231.5h1M472 211.5h1M477 221.5h1M502 222.5h1M479 213.5h1M470 207.5h1M473 227.5h1M501 212.5h1M472 207.5h1M473 209.5h1M467 202.5h1M464 206.5h1M468 202.5h1"/>
</g>
<g>
<path class="ax" d="M24.2 264.7V348.3H110.4"/>
<path class="tkl" d="M25.70 348.3v2.2M24.2 348.30h-2.4M46.77 348.3v2.2M24.2 327.52h-2.4M67.85 348.3v2.2M24.2 306.75h-2.4M88.92 348.3v2.2M24.2 285.98h-2.4M110.00 348.3v2.2M24.2 265.20h-2.4"/>
<path class="mkl" d="M32.04 348.3v1.2M24.2 342.05h-1.2M35.76 348.3v1.2M24.2 338.39h-1.2M38.39 348.3v1.2M24.2 335.79h-1.2M40.43 348.3v1.2M24.2 333.78h-1.2M42.10 348.3v1.2M24.2 332.13h-1.2M43.51 348.3v1.2M24.2 330.74h-1.2M44.73 348.3v1.2M24.2 329.54h-1.2M45.81 348.3v1.2M24.2 328.48h-1.2M53.12 348.3v1.2M24.2 321.27h-1.2M56.83 348.3v1.2M24.2 317.61h-1.2M59.46 348.3v1.2M24.2 315.02h-1.2M61.51 348.3v1.2M24.2 313.00h-1.2M63.17 348.3v1.2M24.2 311.36h-1.2M64.59 348.3v1.2M24.2 309.97h-1.2M65.81 348.3v1.2M24.2 308.76h-1.2M66.89 348.3v1.2M24.2 307.70h-1.2M74.19 348.3v1.2M24.2 300.50h-1.2M77.91 348.3v1.2M24.2 296.84h-1.2M80.54 348.3v1.2M24.2 294.24h-1.2M82.58 348.3v1.2M24.2 292.23h-1.2M84.25 348.3v1.2M24.2 290.58h-1.2M85.66 348.3v1.2M24.2 289.19h-1.2M86.88 348.3v1.2M24.2 287.99h-1.2M87.96 348.3v1.2M24.2 286.93h-1.2M95.27 348.3v1.2M24.2 279.72h-1.2M98.98 348.3v1.2M24.2 276.06h-1.2M101.61 348.3v1.2M24.2 273.47h-1.2M103.66 348.3v1.2M24.2 271.45h-1.2M105.32 348.3v1.2M24.2 269.81h-1.2M106.74 348.3v1.2M24.2 268.42h-1.2M107.96 348.3v1.2M24.2 267.21h-1.2M109.04 348.3v1.2M24.2 266.15h-1.2"/>
<path class="gt" d="M24.2 323.7H110.0M50.4 264.2V348.3"/>
<text x="19.60" y="359.00" class="tk">10<tspan dy="-2.8" font-size="5">0</tspan></text>
<text transform="translate(20.00 351.50) rotate(-90)" class="tk">10<tspan dy="-2.8" font-size="5">0</tspan></text>
<text x="40.20" y="359.00" class="tk">10<tspan dy="-2.8" font-size="5">1</tspan></text>
<text transform="translate(20.00 331.80) rotate(-90)" class="tk">10<tspan dy="-2.8" font-size="5">1</tspan></text>
<text x="62.60" y="359.00" class="tk">10<tspan dy="-2.8" font-size="5">2</tspan></text>
<text transform="translate(20.00 312.10) rotate(-90)" class="tk">10<tspan dy="-2.8" font-size="5">2</tspan></text>
<text x="82.80" y="359.00" class="tk">10<tspan dy="-2.8" font-size="5">3</tspan></text>
<text transform="translate(20.00 292.40) rotate(-90)" class="tk">10<tspan dy="-2.8" font-size="5">3</tspan></text>
<text x="100.80" y="359.00" class="tk">10<tspan dy="-2.8" font-size="5">4</tspan></text>
<text transform="translate(20.00 272.70) rotate(-90)" class="tk">10<tspan dy="-2.8" font-size="5">4</tspan></text>
<text transform="translate(9.60 327.20) rotate(-90)" class="lb" word-spacing="3.58" textLength="49.6" lengthAdjust="spacingAndGlyphs">B220 APC</text>
<text x="51.25" y="373.10" class="lb" word-spacing="0.21" textLength="43.3" lengthAdjust="spacingAndGlyphs">NK1.1 PE</text>
<path class="dots" d="M26 343.5h1M37 345.5h1M28 341.5h1M31 340.5h1M29 346.5h1M30 341.5h1M30 344.5h1M34 347.5h1M28 337.5h1M38 342.5h1M39 341.5h1M39 334.5h1M33 337.5h1M28 339.5h1M47 342.5h1M27 345.5h1M48 334.5h1M33 346.5h1M33 338.5h1M27 346.5h1M28 343.5h1M26 342.5h1M40 336.5h1M35 335.5h1M39 347.5h1M26 339.5h1M25 343.5h1M27 347.5h1M29 347.5h1M31 347.5h1M26 345.5h1M27 340.5h1M33 330.5h1M34 338.5h1M27 341.5h1M36 332.5h1M45 335.5h1M26 346.5h1M28 341.5h1M37 336.5h1M30 339.5h1M44 343.5h1M27 346.5h1M28 347.5h1M42 331.5h1M44 347.5h1M30 346.5h1M42 337.5h1M33 347.5h1M26 335.5h1M42 338.5h1M27 338.5h1M25 343.5h1M47 336.5h1M33 346.5h1M29 346.5h1M32 342.5h1M35 345.5h1M38 346.5h1M40 344.5h1M26 325.5h1M45 329.5h1M46 328.5h1M45 345.5h1M46 342.5h1M36 324.5h1M46 340.5h1M34 333.5h1M48 334.5h1M26 324.5h1M46 340.5h1M34 342.5h1M39 336.5h1M26 328.5h1M26 342.5h1M28 346.5h1M31 343.5h1M33 331.5h1M41 345.5h1M35 334.5h1M40 325.5h1M32 327.5h1M28 342.5h1M44 347.5h1M40 347.5h1M46 329.5h1M47 328.5h1M36 345.5h1M30 332.5h1M29 343.5h1M36 340.5h1M32 335.5h1M42 325.5h1M37 346.5h1M39 331.5h1M34 327.5h1M44 337.5h1M38 326.5h1M46 339.5h1M37 347.5h1M46 338.5h1M45 336.5h1M32 333.5h1M32 347.5h1M49 347.5h1M35 345.5h1M40 344.5h1M47 343.5h1M38 333.5h1M27 339.5h1M35 327.5h1M38 327.5h1M48 326.5h1M48 327.5h1M32 324.5h1M28 335.5h1M37 338.5h1M35 338.5h1M44 345.5h1M37 344.5h1M29 325.5h1M35 331.5h1M30 327.5h1M44 327.5h1M38 328.5h1M43 339.5h1M28 347.5h1M49 337.5h1M36 324.5h1M40 345.5h1M44 335.5h1M42 344.5h1M48 328.5h1M29 328.5h1M43 345.5h1M40 345.5h1M48 345.5h1M33 346.5h1M37 347.5h1M36 344.5h1M35 344.5h1M37 344.5h1M31 345.5h1M37 347.5h1M36 344.5h1M47 346.5h1M35 346.5h1M46 347.5h1M42 345.5h1M47 344.5h1M47 346.5h1M46 347.5h1M37 346.5h1M41 347.5h1M30 347.5h1M47 346.5h1M45 346.5h1M37 347.5h1M44 344.5h1M40 344.5h1M28 344.5h1M33 347.5h1M28 345.5h1M40 344.5h1M45 344.5h1M30 344.5h1M29 345.5h1M28 346.5h1M38 347.5h1M48 347.5h1M47 344.5h1M41 346.5h1M34 345.5h1M46 345.5h1M27 347.5h1M37 347.5h1M39 344.5h1M48 346.5h1M34 347.5h1M48 345.5h1M35 347.5h1M47 345.5h1M39 345.5h1M33 344.5h1M38 347.5h1M40 347.5h1M35 345.5h1M29 345.5h1M27 344.5h1M38 344.5h1M47 344.5h1M29 347.5h1M32 345.5h1M39 344.5h1M31 345.5h1M36 347.5h1M46 346.5h1M36 346.5h1M44 347.5h1M47 345.5h1M46 347.5h1M35 347.5h1M42 345.5h1M34 346.5h1M43 344.5h1M41 347.5h1M41 344.5h1M32 345.5h1M33 346.5h1M47 346.5h1M44 344.5h1M34 344.5h1M42 347.5h1M28 345.5h1M33 346.5h1M35 345.5h1M39 345.5h1M41 346.5h1M28 347.5h1M36 347.5h1M31 344.5h1M48 346.5h1M27 344.5h1M33 344.5h1M32 345.5h1M29 347.5h1M32 344.5h1M31 346.5h1M40 344.5h1M39 347.5h1M41 345.5h1M48 344.5h1M35 344.5h1M45 345.5h1M41 344.5h1M44 347.5h1M41 346.5h1M27 347.5h1M47 344.5h1M40 345.5h1M48 345.5h1M47 347.5h1M27 347.5h1M32 347.5h1M37 344.5h1M45 346.5h1M30 347.5h1M40 347.5h1M31 345.5h1M35 347.5h1M33 345.5h1M29 347.5h1M46 344.5h1M41 346.5h1M47 345.5h1M30 347.5h1M41 347.5h1M39 347.5h1M46 344.5h1M30 346.5h1M31 345.5h1M35 347.5h1M48 346.5h1M31 346.5h1M37 345.5h1M32 344.5h1M27 346.5h1M45 347.5h1M36 347.5h1M34 345.5h1M46 345.5h1M41 347.5h1M47 347.5h1M30 347.5h1M43 347.5h1M29 345.5h1M43 344.5h1M36 346.5h1M46 345.5h1M34 346.5h1M44 345.5h1M34 344.5h1M28 346.5h1M40 346.5h1M31 344.5h1M48 347.5h1M40 347.5h1M37 347.5h1M27 347.5h1M36 347.5h1M33 347.5h1M36 347.5h1M31 346.5h1M48 347.5h1M31 347.5h1M41 347.5h1M27 347.5h1M35 347.5h1M48 347.5h1M35 347.5h1M28 347.5h1M41 347.5h1M45 346.5h1M27 347.5h1M40 347.5h1M28 347.5h1M44 346.5h1M40 347.5h1M44 347.5h1M47 347.5h1M43 346.5h1M44 347.5h1M36 347.5h1M33 347.5h1M47 347.5h1M35 310.5h1M41 302.5h1M47 299.5h1M42 297.5h1M30 313.5h1M37 301.5h1M31 326.5h1M40 308.5h1M44 300.5h1M36 301.5h1M41 316.5h1M37 312.5h1M49 321.5h1M39 311.5h1M39 316.5h1M41 304.5h1M44 311.5h1M42 302.5h1M38 307.5h1M38 309.5h1M41 294.5h1M41 298.5h1M36 315.5h1M35 297.5h1M37 301.5h1M40 297.5h1M35 303.5h1M32 319.5h1M36 309.5h1M35 323.5h1M41 316.5h1M35 311.5h1M36 298.5h1M48 306.5h1M40 305.5h1M33 301.5h1M45 312.5h1M36 299.5h1M33 305.5h1M41 313.5h1M30 310.5h1M37 308.5h1M41 302.5h1M42 296.5h1M35 308.5h1M35 308.5h1M37 294.5h1M45 284.5h1M28 294.5h1M42 305.5h1M40 309.5h1M46 302.5h1M32 304.5h1M44 312.5h1M33 297.5h1M40 289.5h1M36 312.5h1M38 310.5h1M40 315.5h1M43 301.5h1M34 316.5h1M31 302.5h1M42 304.5h1M36 301.5h1M44 317.5h1M46 305.5h1M37 304.5h1M37 300.5h1M34 304.5h1M27 310.5h1M38 298.5h1M42 297.5h1M44 297.5h1M38 311.5h1M48 303.5h1M35 313.5h1M38 307.5h1M35 301.5h1M35 316.5h1M36 287.5h1M34 298.5h1M36 312.5h1M39 310.5h1M39 307.5h1M32 307.5h1M41 315.5h1M33 307.5h1M40 317.5h1M38 311.5h1M27 294.5h1M32 307.5h1M43 309.5h1M34 295.5h1M34 304.5h1M35 302.5h1M39 310.5h1M41 299.5h1M36 309.5h1M47 300.5h1M35 302.5h1M35 294.5h1M37 299.5h1M39 306.5h1M46 314.5h1M51 308.5h1M36 311.5h1M37 296.5h1M42 309.5h1M37 322.5h1M43 304.5h1M32 301.5h1M43 313.5h1M26 301.5h1M41 316.5h1M42 305.5h1M52 307.5h1M33 304.5h1M42 303.5h1M42 311.5h1M33 301.5h1M39 310.5h1M33 305.5h1M31 296.5h1M29 313.5h1M37 306.5h1M32 295.5h1M26 297.5h1M40 311.5h1M28 311.5h1M42 302.5h1M39 311.5h1M33 306.5h1M29 316.5h1M33 302.5h1M30 318.5h1M36 305.5h1M36 301.5h1M52 311.5h1M26 317.5h1M25 290.5h1M26 301.5h1M26 306.5h1M25 317.5h1M26 306.5h1M25 296.5h1M59 340.5h1M69 333.5h1M61 336.5h1M59 339.5h1M65 342.5h1M58 330.5h1M74 342.5h1M76 338.5h1M65 333.5h1M56 347.5h1M64 344.5h1M57 338.5h1M75 342.5h1M84 344.5h1M55 327.5h1M69 347.5h1M70 341.5h1M54 344.5h1M88 343.5h1M57 327.5h1M57 340.5h1M55 335.5h1M83 322.5h1M87 325.5h1"/>
</g>
<g>
<path class="ax" d="M143.3 264.7V348.4H230.1"/>
<path class="tkl" d="M144.80 348.4v2.2M143.3 348.40h-2.4M166.03 348.4v2.2M143.3 327.60h-2.4M187.25 348.4v2.2M143.3 306.80h-2.4M208.47 348.4v2.2M143.3 286.00h-2.4M229.70 348.4v2.2M143.3 265.20h-2.4"/>
<path class="mkl" d="M151.19 348.4v1.2M143.3 342.14h-1.2M154.93 348.4v1.2M143.3 338.48h-1.2M157.58 348.4v1.2M143.3 335.88h-1.2M159.64 348.4v1.2M143.3 333.86h-1.2M161.32 348.4v1.2M143.3 332.21h-1.2M162.74 348.4v1.2M143.3 330.82h-1.2M163.97 348.4v1.2M143.3 329.62h-1.2M165.05 348.4v1.2M143.3 328.55h-1.2M172.41 348.4v1.2M143.3 321.34h-1.2M176.15 348.4v1.2M143.3 317.68h-1.2M178.80 348.4v1.2M143.3 315.08h-1.2M180.86 348.4v1.2M143.3 313.06h-1.2M182.54 348.4v1.2M143.3 311.41h-1.2M183.96 348.4v1.2M143.3 310.02h-1.2M185.19 348.4v1.2M143.3 308.82h-1.2M186.28 348.4v1.2M143.3 307.75h-1.2M193.64 348.4v1.2M143.3 300.54h-1.2M197.38 348.4v1.2M143.3 296.88h-1.2M200.03 348.4v1.2M143.3 294.28h-1.2M202.09 348.4v1.2M143.3 292.26h-1.2M203.77 348.4v1.2M143.3 290.61h-1.2M205.19 348.4v1.2M143.3 289.22h-1.2M206.42 348.4v1.2M143.3 288.02h-1.2M207.50 348.4v1.2M143.3 286.95h-1.2M214.86 348.4v1.2M143.3 279.74h-1.2M218.60 348.4v1.2M143.3 276.08h-1.2M221.25 348.4v1.2M143.3 273.48h-1.2M223.31 348.4v1.2M143.3 271.46h-1.2M224.99 348.4v1.2M143.3 269.81h-1.2M226.41 348.4v1.2M143.3 268.42h-1.2M227.64 348.4v1.2M143.3 267.22h-1.2M228.73 348.4v1.2M143.3 266.15h-1.2"/>
<path class="gt" d="M143.3 323.7H229.7M169.4 264.2V348.4"/>
<text x="138.70" y="359.10" class="tk">10<tspan dy="-2.8" font-size="5">0</tspan></text>
<text transform="translate(139.10 350.90) rotate(-90)" class="tk">10<tspan dy="-2.8" font-size="5">0</tspan></text>
<text x="159.30" y="359.10" class="tk">10<tspan dy="-2.8" font-size="5">1</tspan></text>
<text transform="translate(139.10 331.20) rotate(-90)" class="tk">10<tspan dy="-2.8" font-size="5">1</tspan></text>
<text x="181.70" y="359.10" class="tk">10<tspan dy="-2.8" font-size="5">2</tspan></text>
<text transform="translate(139.10 311.50) rotate(-90)" class="tk">10<tspan dy="-2.8" font-size="5">2</tspan></text>
<text x="201.90" y="359.10" class="tk">10<tspan dy="-2.8" font-size="5">3</tspan></text>
<text transform="translate(139.10 291.80) rotate(-90)" class="tk">10<tspan dy="-2.8" font-size="5">3</tspan></text>
<text x="219.90" y="359.10" class="tk">10<tspan dy="-2.8" font-size="5">4</tspan></text>
<text transform="translate(139.10 272.10) rotate(-90)" class="tk">10<tspan dy="-2.8" font-size="5">4</tspan></text>
<text transform="translate(126.70 327.20) rotate(-90)" class="lb" word-spacing="2.78" textLength="48.8" lengthAdjust="spacingAndGlyphs">B220 APC</text>
<text x="170.00" y="373.10" class="lb" word-spacing="0.36" textLength="43.5" lengthAdjust="spacingAndGlyphs">NK1.1 PE</text>
<path class="dots" d="M145 342.5h1M145 336.5h1M145 312.5h1M145 314.5h1M144 344.5h1M145 316.5h1M145 294.5h1M149 341.5h1M144 326.5h1M146 346.5h1M145 309.5h1M146 343.5h1M144 325.5h1M145 337.5h1M146 304.5h1M145 337.5h1M145 331.5h1M149 309.5h1M146 343.5h1M145 316.5h1M144 338.5h1M144 337.5h1M145 290.5h1M146 343.5h1M145 333.5h1M146 328.5h1M146 306.5h1M145 337.5h1M145 340.5h1M145 332.5h1M145 313.5h1M145 291.5h1M145 314.5h1M147 347.5h1M145 326.5h1M144 316.5h1M146 301.5h1M146 291.5h1M144 340.5h1M145 300.5h1M146 307.5h1M146 310.5h1M145 316.5h1M145 310.5h1M147 329.5h1M144 344.5h1M144 333.5h1M145 346.5h1M145 302.5h1M146 332.5h1M146 295.5h1M145 315.5h1M144 307.5h1M145 318.5h1M145 297.5h1M147 303.5h1M146 340.5h1M145 308.5h1M148 300.5h1M145 307.5h1M145 299.5h1M145 308.5h1M146 321.5h1M148 344.5h1M146 334.5h1M148 306.5h1M145 331.5h1M146 303.5h1M145 301.5h1M145 290.5h1M150 296.5h1M145 291.5h1M144 334.5h1M145 342.5h1M144 299.5h1M145 329.5h1M146 296.5h1M145 306.5h1M145 291.5h1M144 336.5h1M145 332.5h1M145 308.5h1M145 347.5h1M146 308.5h1M145 316.5h1M147 320.5h1M146 344.5h1M146 305.5h1M151 345.5h1M145 307.5h1M144 301.5h1M145 333.5h1M145 297.5h1M145 334.5h1M150 326.5h1M146 301.5h1M151 296.5h1M145 294.5h1M146 303.5h1M145 347.5h1M147 299.5h1M145 298.5h1M145 295.5h1M144 328.5h1M146 340.5h1M148 301.5h1M145 332.5h1M144 324.5h1M144 296.5h1M145 337.5h1M144 332.5h1M145 329.5h1M146 301.5h1M146 293.5h1M145 338.5h1M145 331.5h1M146 303.5h1M144 335.5h1M145 313.5h1M144 321.5h1M145 299.5h1M145 333.5h1M145 317.5h1M147 314.5h1M145 346.5h1M144 344.5h1M145 336.5h1M147 345.5h1M145 325.5h1M145 315.5h1M144 320.5h1M145 311.5h1M145 314.5h1M146 306.5h1M144 298.5h1M144 347.5h1M146 344.5h1M144 346.5h1M146 315.5h1M146 339.5h1M149 304.5h1M147 345.5h1M150 347.5h1M149 347.5h1M157 315.5h1M145 336.5h1M146 334.5h1M151 341.5h1M159 346.5h1M146 336.5h1M152 288.5h1M149 335.5h1M148 339.5h1M153 319.5h1M145 346.5h1M152 333.5h1M146 342.5h1M147 297.5h1M144 344.5h1M154 311.5h1M149 317.5h1M151 324.5h1M153 307.5h1M145 307.5h1M155 336.5h1M152 301.5h1M148 339.5h1M166 346.5h1M148 326.5h1M153 316.5h1M145 338.5h1M151 337.5h1M145 334.5h1M145 341.5h1M146 326.5h1M154 303.5h1M161 343.5h1M147 331.5h1M152 341.5h1M154 334.5h1M161 341.5h1M151 344.5h1M149 344.5h1M157 341.5h1M156 305.5h1M159 317.5h1M148 325.5h1M150 324.5h1M144 346.5h1M148 297.5h1M155 346.5h1M153 346.5h1M146 305.5h1M147 344.5h1M146 347.5h1M150 326.5h1M147 342.5h1M145 328.5h1M151 330.5h1M145 323.5h1M148 341.5h1M148 343.5h1M145 329.5h1M147 308.5h1M145 306.5h1M157 335.5h1M145 330.5h1M152 340.5h1M145 318.5h1M144 340.5h1M148 340.5h1M151 341.5h1M153 316.5h1M146 346.5h1M148 336.5h1M148 340.5h1M154 338.5h1M154 318.5h1M149 345.5h1M159 335.5h1M150 321.5h1M145 333.5h1M146 314.5h1M151 324.5h1M152 323.5h1M154 333.5h1M160 302.5h1M146 315.5h1M157 345.5h1M154 333.5h1M146 324.5h1M167 342.5h1M152 345.5h1M147 321.5h1M154 329.5h1M156 316.5h1M151 341.5h1M150 312.5h1M148 332.5h1M149 327.5h1M145 323.5h1M148 331.5h1M156 310.5h1M151 287.5h1M150 324.5h1M147 347.5h1M149 343.5h1M144 342.5h1M156 344.5h1M155 335.5h1M146 337.5h1M150 322.5h1M157 332.5h1M146 347.5h1M146 323.5h1M165 308.5h1M144 333.5h1M154 319.5h1M149 345.5h1M150 323.5h1M149 318.5h1M145 338.5h1M147 335.5h1M148 305.5h1M146 345.5h1M157 336.5h1M148 339.5h1M145 326.5h1M157 347.5h1M147 347.5h1M149 315.5h1M152 342.5h1M150 324.5h1M151 339.5h1M148 334.5h1M150 290.5h1M146 326.5h1M146 347.5h1M148 316.5h1M146 342.5h1M152 310.5h1M144 320.5h1M156 339.5h1M145 313.5h1M145 318.5h1M147 340.5h1M153 332.5h1M148 295.5h1M163 297.5h1M161 341.5h1M160 346.5h1M161 302.5h1M145 334.5h1M149 345.5h1M150 343.5h1M147 314.5h1M146 330.5h1M146 310.5h1M145 343.5h1M145 335.5h1M152 342.5h1M145 308.5h1M145 314.5h1M152 311.5h1M148 334.5h1M160 331.5h1M144 330.5h1M144 318.5h1M146 293.5h1M150 310.5h1M147 343.5h1M147 294.5h1M149 342.5h1M164 333.5h1M148 342.5h1M145 345.5h1M145 347.5h1M146 305.5h1M146 347.5h1M150 327.5h1M161 307.5h1M149 320.5h1M165 334.5h1M150 337.5h1M154 347.5h1M147 334.5h1M147 336.5h1M153 340.5h1M159 339.5h1M147 334.5h1M145 336.5h1M144 321.5h1M145 342.5h1M146 291.5h1M146 315.5h1M146 346.5h1M147 307.5h1M165 322.5h1M161 338.5h1M154 339.5h1M151 322.5h1M146 342.5h1M145 315.5h1M146 336.5h1M144 303.5h1M146 340.5h1M151 337.5h1M145 340.5h1M145 331.5h1M154 328.5h1M147 336.5h1M147 333.5h1M151 294.5h1M146 337.5h1M152 325.5h1M157 334.5h1M146 330.5h1M144 323.5h1M146 316.5h1M156 322.5h1M148 335.5h1M145 313.5h1M144 322.5h1M150 305.5h1M163 342.5h1M145 305.5h1M151 347.5h1M149 306.5h1M152 303.5h1M145 332.5h1M156 328.5h1M154 288.5h1M144 347.5h1M145 346.5h1M152 327.5h1M158 319.5h1M149 347.5h1M146 338.5h1M150 295.5h1M147 319.5h1M145 337.5h1M149 342.5h1M156 341.5h1M146 309.5h1M147 346.5h1M152 331.5h1M149 325.5h1M146 314.5h1M147 340.5h1M145 341.5h1M144 332.5h1M155 314.5h1M145 326.5h1M154 345.5h1M149 343.5h1M151 345.5h1M146 325.5h1M150 344.5h1M155 330.5h1M146 329.5h1M164 345.5h1M152 343.5h1M147 344.5h1M145 344.5h1M154 344.5h1M151 347.5h1M154 341.5h1M147 344.5h1M158 328.5h1M151 310.5h1M156 337.5h1M155 311.5h1M162 345.5h1M153 334.5h1M147 334.5h1M145 319.5h1M149 345.5h1M144 288.5h1M146 306.5h1M148 337.5h1M149 345.5h1M153 333.5h1M148 298.5h1M145 318.5h1M160 338.5h1M152 340.5h1M151 343.5h1M159 345.5h1M145 341.5h1M147 315.5h1M147 340.5h1M146 319.5h1M150 334.5h1M146 340.5h1M146 302.5h1M153 341.5h1M147 344.5h1M150 289.5h1M146 319.5h1M145 341.5h1M155 347.5h1M150 332.5h1M145 346.5h1M148 340.5h1M159 308.5h1M150 294.5h1M159 318.5h1M145 347.5h1M149 347.5h1M147 294.5h1M145 299.5h1M154 325.5h1M151 325.5h1M157 301.5h1M154 324.5h1M165 315.5h1M146 334.5h1M146 343.5h1M152 336.5h1M144 288.5h1M149 311.5h1M148 304.5h1M156 346.5h1M151 339.5h1M150 294.5h1M155 311.5h1M147 300.5h1M145 315.5h1M151 288.5h1M148 321.5h1M147 318.5h1M151 315.5h1M162 318.5h1M147 295.5h1M158 329.5h1M155 300.5h1M148 328.5h1M148 300.5h1M149 334.5h1M149 314.5h1M147 300.5h1M158 295.5h1M151 347.5h1M150 326.5h1M151 300.5h1M160 332.5h1M155 347.5h1M148 299.5h1M147 305.5h1M146 346.5h1M159 306.5h1M151 324.5h1M155 314.5h1M158 339.5h1M145 329.5h1M148 294.5h1M151 323.5h1M156 326.5h1M151 300.5h1M149 314.5h1M145 320.5h1M151 345.5h1M147 308.5h1M160 333.5h1M158 330.5h1M151 334.5h1M146 325.5h1M150 299.5h1M160 317.5h1M154 303.5h1M152 294.5h1M151 308.5h1M147 340.5h1M147 336.5h1M151 346.5h1M160 301.5h1M159 338.5h1M158 302.5h1M150 335.5h1M154 298.5h1M147 344.5h1M148 305.5h1M147 296.5h1M150 321.5h1M145 330.5h1M158 314.5h1M159 295.5h1M147 341.5h1M150 310.5h1M148 325.5h1M155 298.5h1M160 339.5h1M159 305.5h1M145 317.5h1M159 313.5h1M152 320.5h1M147 326.5h1M149 336.5h1M153 311.5h1M150 322.5h1M154 296.5h1M146 338.5h1M154 344.5h1M150 310.5h1M158 303.5h1M154 311.5h1M145 321.5h1M160 343.5h1M148 344.5h1M153 323.5h1M151 297.5h1M153 338.5h1M147 309.5h1M148 305.5h1M148 302.5h1M151 309.5h1M150 313.5h1M151 309.5h1M151 321.5h1M150 318.5h1M157 298.5h1M152 302.5h1M154 343.5h1M153 329.5h1M153 333.5h1M158 347.5h1M159 346.5h1M145 324.5h1M151 335.5h1M160 292.5h1M148 332.5h1M152 331.5h1M150 347.5h1M154 309.5h1M157 292.5h1M155 304.5h1M148 300.5h1M154 345.5h1M156 342.5h1M146 331.5h1M154 325.5h1M145 339.5h1M151 346.5h1M150 319.5h1M147 292.5h1M155 325.5h1M155 338.5h1M155 335.5h1M155 338.5h1M156 347.5h1M153 311.5h1M160 308.5h1M154 293.5h1M153 326.5h1M156 341.5h1M148 341.5h1M160 321.5h1M154 305.5h1M150 344.5h1M149 303.5h1M150 336.5h1M160 345.5h1M150 340.5h1M146 311.5h1M158 345.5h1M147 318.5h1M150 294.5h1M150 324.5h1M147 295.5h1M147 334.5h1M150 328.5h1M145 339.5h1M154 347.5h1M155 343.5h1M145 345.5h1M151 346.5h1M146 341.5h1M150 333.5h1M149 337.5h1M152 347.5h1M147 344.5h1M155 341.5h1M155 347.5h1M156 332.5h1M155 345.5h1M155 335.5h1M148 328.5h1M152 333.5h1M152 330.5h1M146 347.5h1M147 346.5h1M153 346.5h1M147 346.5h1M151 347.5h1M149 345.5h1M147 328.5h1M153 343.5h1M151 338.5h1M149 336.5h1M149 347.5h1M159 345.5h1M146 345.5h1M151 347.5h1M146 332.5h1M145 345.5h1M155 345.5h1M150 345.5h1M145 346.5h1M157 346.5h1M153 330.5h1M151 341.5h1M147 340.5h1M147 336.5h1M145 344.5h1M159 338.5h1M155 345.5h1M145 343.5h1M145 343.5h1M147 345.5h1M145 344.5h1M145 340.5h1M146 329.5h1M149 337.5h1M145 326.5h1M157 347.5h1M144 346.5h1M159 345.5h1M147 345.5h1M147 347.5h1M144 344.5h1M146 331.5h1M149 337.5h1M146 336.5h1M149 323.5h1M150 346.5h1M154 342.5h1M146 328.5h1M147 338.5h1M151 340.5h1M146 339.5h1M151 345.5h1M148 345.5h1M149 332.5h1M156 325.5h1M155 342.5h1M150 345.5h1M153 340.5h1M146 346.5h1M148 340.5h1M145 341.5h1M145 345.5h1M144 346.5h1M160 346.5h1M154 338.5h1M146 331.5h1M152 346.5h1M162 337.5h1M149 341.5h1M155 347.5h1M145 334.5h1M157 343.5h1M148 347.5h1M145 345.5h1M162 339.5h1M145 337.5h1M150 341.5h1M146 337.5h1M160 344.5h1M148 347.5h1M150 329.5h1M158 347.5h1M155 347.5h1M146 347.5h1M148 344.5h1M152 346.5h1M157 344.5h1M151 346.5h1M161 347.5h1M153 347.5h1M161 346.5h1M158 344.5h1M148 346.5h1M160 344.5h1M152 346.5h1M160 347.5h1M151 345.5h1M158 346.5h1M157 347.5h1M149 344.5h1M145 346.5h1M147 347.5h1M151 347.5h1M160 346.5h1M153 344.5h1M160 345.5h1M159 346.5h1M160 344.5h1M154 346.5h1M155 347.5h1M155 347.5h1M161 347.5h1M159 347.5h1M154 347.5h1M155 347.5h1M154 347.5h1M156 346.5h1M159 347.5h1M145 347.5h1M155 346.5h1M156 346.5h1M146 346.5h1M147 345.5h1M157 345.5h1M150 347.5h1M157 345.5h1M161 345.5h1M157 345.5h1M154 346.5h1M146 347.5h1M158 347.5h1M156 346.5h1M148 347.5h1M159 346.5h1M158 347.5h1M159 346.5h1M151 345.5h1M157 347.5h1M155 344.5h1M149 347.5h1M148 345.5h1M149 347.5h1M144 347.5h1M146 345.5h1M156 344.5h1M160 346.5h1M160 345.5h1M159 347.5h1M150 347.5h1M148 347.5h1M151 347.5h1M156 347.5h1M160 346.5h1M152 347.5h1M159 346.5h1M159 346.5h1M151 344.5h1M146 346.5h1M155 345.5h1M151 346.5h1M160 345.5h1M153 347.5h1M154 346.5h1M155 347.5h1M150 347.5h1M148 347.5h1M154 345.5h1M146 346.5h1M154 345.5h1M154 346.5h1M160 347.5h1M149 347.5h1M155 347.5h1M149 347.5h1M153 347.5h1M162 347.5h1M150 347.5h1M146 346.5h1M163 347.5h1M160 346.5h1M146 347.5h1M161 347.5h1M156 347.5h1M148 346.5h1M159 347.5h1M152 347.5h1M162 347.5h1M163 347.5h1M146 347.5h1M161 347.5h1M145 347.5h1M161 347.5h1M154 347.5h1M146 347.5h1M152 347.5h1M151 347.5h1M158 347.5h1M158 347.5h1M151 347.5h1M158 347.5h1M144 346.5h1M146 306.5h1M147 307.5h1M155 311.5h1M150 292.5h1M155 310.5h1M149 303.5h1M144 306.5h1M151 312.5h1M150 303.5h1M152 300.5h1M147 308.5h1M149 305.5h1M159 287.5h1M148 315.5h1M158 310.5h1M146 304.5h1M152 308.5h1M152 314.5h1M154 312.5h1M151 310.5h1M148 310.5h1M151 308.5h1M157 303.5h1M154 304.5h1M159 316.5h1M153 313.5h1M144 316.5h1M146 306.5h1M152 302.5h1M147 310.5h1M147 299.5h1M146 312.5h1M147 311.5h1M153 307.5h1M148 296.5h1M156 316.5h1M158 304.5h1M150 308.5h1M155 300.5h1M155 318.5h1M152 317.5h1M150 296.5h1M156 299.5h1M154 300.5h1M150 309.5h1M149 300.5h1M151 308.5h1M155 316.5h1M154 309.5h1M148 310.5h1M150 316.5h1M151 312.5h1M149 313.5h1M150 304.5h1M146 301.5h1M147 300.5h1M186 338.5h1M187 331.5h1M192 331.5h1M174 346.5h1M179 345.5h1M190 336.5h1M183 337.5h1M188 337.5h1M177 335.5h1M202 337.5h1M186 327.5h1M180 333.5h1M173 340.5h1M190 338.5h1M178 307.5h1M189 304.5h1M199 304.5h1M192 316.5h1M201 318.5h1M195 323.5h1M190 317.5h1M198 318.5h1M193 316.5h1M170 320.5h1"/>
</g>
<g>
<path class="ax" d="M309.5 264.7V349.2H395.79999999999995"/>
<path class="tkl" d="M311.00 349.2v2.2M309.5 349.20h-2.4M332.10 349.2v2.2M309.5 328.20h-2.4M353.20 349.2v2.2M309.5 307.20h-2.4M374.30 349.2v2.2M309.5 286.20h-2.4M395.40 349.2v2.2M309.5 265.20h-2.4"/>
<path class="mkl" d="M317.35 349.2v1.2M309.5 342.88h-1.2M321.07 349.2v1.2M309.5 339.18h-1.2M323.70 349.2v1.2M309.5 336.56h-1.2M325.75 349.2v1.2M309.5 334.52h-1.2M327.42 349.2v1.2M309.5 332.86h-1.2M328.83 349.2v1.2M309.5 331.45h-1.2M330.06 349.2v1.2M309.5 330.24h-1.2M331.13 349.2v1.2M309.5 329.16h-1.2M338.45 349.2v1.2M309.5 321.88h-1.2M342.17 349.2v1.2M309.5 318.18h-1.2M344.80 349.2v1.2M309.5 315.56h-1.2M346.85 349.2v1.2M309.5 313.52h-1.2M348.52 349.2v1.2M309.5 311.86h-1.2M349.93 349.2v1.2M309.5 310.45h-1.2M351.16 349.2v1.2M309.5 309.24h-1.2M352.23 349.2v1.2M309.5 308.16h-1.2M359.55 349.2v1.2M309.5 300.88h-1.2M363.27 349.2v1.2M309.5 297.18h-1.2M365.90 349.2v1.2M309.5 294.56h-1.2M367.95 349.2v1.2M309.5 292.52h-1.2M369.62 349.2v1.2M309.5 290.86h-1.2M371.03 349.2v1.2M309.5 289.45h-1.2M372.26 349.2v1.2M309.5 288.24h-1.2M373.33 349.2v1.2M309.5 287.16h-1.2M380.65 349.2v1.2M309.5 279.88h-1.2M384.37 349.2v1.2M309.5 276.18h-1.2M387.00 349.2v1.2M309.5 273.56h-1.2M389.05 349.2v1.2M309.5 271.52h-1.2M390.72 349.2v1.2M309.5 269.86h-1.2M392.13 349.2v1.2M309.5 268.45h-1.2M393.36 349.2v1.2M309.5 267.24h-1.2M394.43 349.2v1.2M309.5 266.16h-1.2"/>
<path class="gt" d="M309.5 323.9H395.4M336.5 264.2V349.2"/>
<text x="304.90" y="359.90" class="tk">10<tspan dy="-2.8" font-size="5">0</tspan></text>
<text transform="translate(305.30 350.70) rotate(-90)" class="tk">10<tspan dy="-2.8" font-size="5">0</tspan></text>
<text x="325.50" y="359.90" class="tk">10<tspan dy="-2.8" font-size="5">1</tspan></text>
<text transform="translate(305.30 331.00) rotate(-90)" class="tk">10<tspan dy="-2.8" font-size="5">1</tspan></text>
<text x="347.90" y="359.90" class="tk">10<tspan dy="-2.8" font-size="5">2</tspan></text>
<text transform="translate(305.30 311.30) rotate(-90)" class="tk">10<tspan dy="-2.8" font-size="5">2</tspan></text>
<text x="368.10" y="359.90" class="tk">10<tspan dy="-2.8" font-size="5">3</tspan></text>
<text transform="translate(305.30 291.60) rotate(-90)" class="tk">10<tspan dy="-2.8" font-size="5">3</tspan></text>
<text x="386.10" y="359.90" class="tk">10<tspan dy="-2.8" font-size="5">4</tspan></text>
<text transform="translate(305.30 271.90) rotate(-90)" class="tk">10<tspan dy="-2.8" font-size="5">4</tspan></text>
<text transform="translate(292.70 326.40) rotate(-90)" class="lb" word-spacing="1.98" textLength="48.0" lengthAdjust="spacingAndGlyphs">B220 APC</text>
<text x="334.75" y="373.10" class="lb" word-spacing="0.21" textLength="43.4" lengthAdjust="spacingAndGlyphs">NK1.1 PE</text>
<path class="dots" d="M322 344.5h1M313 345.5h1M316 340.5h1M313 347.5h1M322 346.5h1M311 344.5h1M321 333.5h1M331 340.5h1M317 345.5h1M332 346.5h1M330 329.5h1M316 344.5h1M315 331.5h1M323 332.5h1M314 344.5h1M311 341.5h1M314 346.5h1M314 341.5h1M314 343.5h1M325 347.5h1M321 343.5h1M323 337.5h1M315 341.5h1M318 339.5h1M313 345.5h1M323 335.5h1M311 335.5h1M330 348.5h1M317 342.5h1M311 336.5h1M321 344.5h1M315 344.5h1M321 335.5h1M311 340.5h1M313 347.5h1M312 347.5h1M313 332.5h1M325 344.5h1M312 344.5h1M312 343.5h1M319 340.5h1M315 343.5h1M313 347.5h1M334 345.5h1M328 346.5h1M312 348.5h1M315 347.5h1M324 346.5h1M324 347.5h1M317 347.5h1M323 339.5h1M336 342.5h1M319 339.5h1M319 344.5h1M325 346.5h1M313 333.5h1M322 348.5h1M311 334.5h1M325 328.5h1M325 341.5h1M311 346.5h1M311 338.5h1M313 327.5h1M311 348.5h1M329 345.5h1M320 332.5h1M330 333.5h1M318 347.5h1M314 348.5h1M333 335.5h1M317 340.5h1M318 346.5h1M315 348.5h1M314 329.5h1M318 341.5h1M312 346.5h1M328 339.5h1M311 348.5h1M325 337.5h1M312 347.5h1M331 345.5h1M311 333.5h1M314 343.5h1M311 329.5h1M334 343.5h1M317 343.5h1M312 339.5h1M326 346.5h1M319 333.5h1M323 342.5h1M335 346.5h1M320 331.5h1M325 343.5h1M336 335.5h1M314 348.5h1M311 340.5h1M322 339.5h1M326 336.5h1M336 339.5h1M334 345.5h1M327 329.5h1M325 339.5h1M331 347.5h1M319 332.5h1M325 331.5h1M326 347.5h1M313 346.5h1M319 348.5h1M312 336.5h1M320 336.5h1M324 326.5h1M313 342.5h1M315 345.5h1M315 328.5h1M335 344.5h1M312 335.5h1M312 347.5h1M321 330.5h1M320 346.5h1M330 347.5h1M316 345.5h1M313 328.5h1M317 337.5h1M331 335.5h1M319 344.5h1M326 327.5h1M323 327.5h1M333 340.5h1M311 332.5h1M324 327.5h1M330 336.5h1M330 338.5h1M329 334.5h1M320 348.5h1M331 346.5h1M326 336.5h1M332 339.5h1M333 342.5h1M325 337.5h1M312 337.5h1M335 339.5h1M316 328.5h1M326 346.5h1M311 328.5h1M311 330.5h1M332 343.5h1M335 335.5h1M318 331.5h1M323 336.5h1M311 345.5h1M311 340.5h1M313 336.5h1M333 333.5h1M315 338.5h1M312 334.5h1M323 332.5h1M315 331.5h1M334 331.5h1M331 338.5h1M329 329.5h1M318 345.5h1M326 335.5h1M326 345.5h1M312 346.5h1M329 336.5h1M335 335.5h1M318 328.5h1M332 331.5h1M316 331.5h1M311 338.5h1M321 339.5h1M325 331.5h1M321 329.5h1M317 343.5h1M312 346.5h1M321 341.5h1M313 339.5h1M316 326.5h1M332 330.5h1M330 330.5h1M332 326.5h1M322 328.5h1M324 345.5h1M335 343.5h1M331 330.5h1M332 347.5h1M321 348.5h1M334 348.5h1M316 348.5h1M313 346.5h1M332 346.5h1M320 348.5h1M314 348.5h1M332 345.5h1M319 345.5h1M330 347.5h1M333 345.5h1M321 346.5h1M320 348.5h1M327 345.5h1M317 348.5h1M332 345.5h1M333 345.5h1M313 347.5h1M330 348.5h1M319 345.5h1M322 347.5h1M317 347.5h1M330 346.5h1M325 345.5h1M326 346.5h1M327 346.5h1M321 345.5h1M331 346.5h1M313 347.5h1M323 345.5h1M323 347.5h1M323 346.5h1M324 347.5h1M327 346.5h1M319 345.5h1M324 347.5h1M320 345.5h1M333 345.5h1M331 346.5h1M313 347.5h1M314 347.5h1M319 348.5h1M328 347.5h1M334 347.5h1M332 347.5h1M313 347.5h1M317 348.5h1M333 345.5h1M322 347.5h1M325 346.5h1M323 348.5h1M324 345.5h1M315 348.5h1M330 347.5h1M321 346.5h1M324 345.5h1M319 346.5h1M317 346.5h1M318 348.5h1M322 348.5h1M316 348.5h1M328 348.5h1M318 346.5h1M332 346.5h1M331 346.5h1M333 348.5h1M325 346.5h1M325 345.5h1M320 346.5h1M313 348.5h1M329 345.5h1M326 347.5h1M319 345.5h1M325 346.5h1M331 348.5h1M316 348.5h1M315 347.5h1M322 345.5h1M318 345.5h1M332 346.5h1M331 348.5h1M315 347.5h1M320 345.5h1M328 346.5h1M323 348.5h1M333 346.5h1M332 345.5h1M313 348.5h1M333 348.5h1M315 345.5h1M316 346.5h1M328 345.5h1M327 348.5h1M316 347.5h1M333 346.5h1M323 346.5h1M326 348.5h1M316 346.5h1M331 345.5h1M330 347.5h1M320 345.5h1M323 346.5h1M314 345.5h1M331 346.5h1M316 345.5h1M330 345.5h1M316 347.5h1M323 348.5h1M332 348.5h1M316 348.5h1M317 348.5h1M322 345.5h1M326 346.5h1M313 348.5h1M320 347.5h1M316 348.5h1M333 347.5h1M332 348.5h1M320 347.5h1M332 347.5h1M314 347.5h1M327 346.5h1M317 348.5h1M332 348.5h1M314 348.5h1M320 347.5h1M328 347.5h1M316 348.5h1M326 348.5h1M327 345.5h1M331 348.5h1M333 348.5h1M315 347.5h1M316 348.5h1M319 345.5h1M323 347.5h1M330 348.5h1M331 347.5h1M333 348.5h1M318 348.5h1M323 348.5h1M334 348.5h1M324 348.5h1M328 348.5h1M324 310.5h1M325 311.5h1M323 321.5h1M335 299.5h1M316 295.5h1M330 304.5h1M320 308.5h1M328 312.5h1M316 305.5h1M336 305.5h1M331 311.5h1M312 307.5h1M330 302.5h1M323 305.5h1M328 307.5h1M322 306.5h1M321 311.5h1M314 307.5h1M319 306.5h1M322 311.5h1M312 307.5h1M316 301.5h1M322 301.5h1M325 319.5h1M319 314.5h1M331 301.5h1M319 304.5h1M326 304.5h1M330 314.5h1M317 306.5h1M329 303.5h1M321 304.5h1M317 311.5h1M332 310.5h1M332 305.5h1M320 305.5h1M329 299.5h1M328 319.5h1M322 310.5h1M336 300.5h1M322 313.5h1M318 306.5h1M323 299.5h1M322 312.5h1M320 305.5h1M321 296.5h1M314 314.5h1M326 318.5h1M314 301.5h1M329 309.5h1M327 307.5h1M320 306.5h1M320 300.5h1M318 308.5h1M322 301.5h1M333 302.5h1M324 307.5h1M320 301.5h1M333 305.5h1M320 307.5h1M320 290.5h1M336 318.5h1M327 313.5h1M330 312.5h1M326 309.5h1M326 306.5h1M327 308.5h1M327 294.5h1M336 309.5h1M315 313.5h1M321 309.5h1M313 309.5h1M323 301.5h1M315 305.5h1M323 300.5h1M329 312.5h1M319 303.5h1M318 306.5h1M327 310.5h1M318 315.5h1M322 307.5h1M322 313.5h1M315 303.5h1M328 304.5h1M316 304.5h1M328 291.5h1M325 300.5h1M316 318.5h1M320 303.5h1M328 305.5h1M321 305.5h1M336 309.5h1M316 301.5h1M330 322.5h1M312 314.5h1M321 303.5h1M329 306.5h1M311 302.5h1M324 309.5h1M316 310.5h1M314 302.5h1M318 306.5h1M319 316.5h1M319 301.5h1M311 300.5h1M311 308.5h1M311 307.5h1M313 321.5h1M311 313.5h1M312 314.5h1M311 310.5h1M311 317.5h1M312 296.5h1M311 299.5h1M331 290.5h1M322 289.5h1M328 291.5h1M321 291.5h1M319 288.5h1M334 291.5h1M356 334.5h1M355 326.5h1M364 327.5h1M355 322.5h1M353 319.5h1M360 335.5h1M354 317.5h1M359 334.5h1M357 341.5h1M357 335.5h1M362 339.5h1M357 340.5h1M364 345.5h1M363 317.5h1M363 340.5h1M356 317.5h1M357 316.5h1M356 313.5h1M358 336.5h1M356 348.5h1M349 341.5h1M350 342.5h1M351 347.5h1M346 346.5h1M351 345.5h1M343 341.5h1M339 342.5h1M341 347.5h1"/>
</g>
<g>
<path class="ax" d="M428.7 264.7V349.2H516.5"/>
<path class="tkl" d="M430.20 349.2v2.2M428.7 349.20h-2.4M451.68 349.2v2.2M428.7 328.20h-2.4M473.15 349.2v2.2M428.7 307.20h-2.4M494.62 349.2v2.2M428.7 286.20h-2.4M516.10 349.2v2.2M428.7 265.20h-2.4"/>
<path class="mkl" d="M436.66 349.2v1.2M428.7 342.88h-1.2M440.45 349.2v1.2M428.7 339.18h-1.2M443.13 349.2v1.2M428.7 336.56h-1.2M445.21 349.2v1.2M428.7 334.52h-1.2M446.91 349.2v1.2M428.7 332.86h-1.2M448.35 349.2v1.2M428.7 331.45h-1.2M449.59 349.2v1.2M428.7 330.24h-1.2M450.69 349.2v1.2M428.7 329.16h-1.2M458.14 349.2v1.2M428.7 321.88h-1.2M461.92 349.2v1.2M428.7 318.18h-1.2M464.60 349.2v1.2M428.7 315.56h-1.2M466.69 349.2v1.2M428.7 313.52h-1.2M468.39 349.2v1.2M428.7 311.86h-1.2M469.82 349.2v1.2M428.7 310.45h-1.2M471.07 349.2v1.2M428.7 309.24h-1.2M472.17 349.2v1.2M428.7 308.16h-1.2M479.61 349.2v1.2M428.7 300.88h-1.2M483.40 349.2v1.2M428.7 297.18h-1.2M486.08 349.2v1.2M428.7 294.56h-1.2M488.16 349.2v1.2M428.7 292.52h-1.2M489.86 349.2v1.2M428.7 290.86h-1.2M491.30 349.2v1.2M428.7 289.45h-1.2M492.54 349.2v1.2M428.7 288.24h-1.2M493.64 349.2v1.2M428.7 287.16h-1.2M501.09 349.2v1.2M428.7 279.88h-1.2M504.87 349.2v1.2M428.7 276.18h-1.2M507.55 349.2v1.2M428.7 273.56h-1.2M509.64 349.2v1.2M428.7 271.52h-1.2M511.34 349.2v1.2M428.7 269.86h-1.2M512.77 349.2v1.2M428.7 268.45h-1.2M514.02 349.2v1.2M428.7 267.24h-1.2M515.12 349.2v1.2M428.7 266.16h-1.2"/>
<path class="gt" d="M428.7 323.8H516.1M455.9 264.2V349.2"/>
<text x="424.10" y="359.90" class="tk">10<tspan dy="-2.8" font-size="5">0</tspan></text>
<text transform="translate(424.50 350.70) rotate(-90)" class="tk">10<tspan dy="-2.8" font-size="5">0</tspan></text>
<text x="444.70" y="359.90" class="tk">10<tspan dy="-2.8" font-size="5">1</tspan></text>
<text transform="translate(424.50 331.00) rotate(-90)" class="tk">10<tspan dy="-2.8" font-size="5">1</tspan></text>
<text x="467.10" y="359.90" class="tk">10<tspan dy="-2.8" font-size="5">2</tspan></text>
<text transform="translate(424.50 311.30) rotate(-90)" class="tk">10<tspan dy="-2.8" font-size="5">2</tspan></text>
<text x="487.30" y="359.90" class="tk">10<tspan dy="-2.8" font-size="5">3</tspan></text>
<text transform="translate(424.50 291.60) rotate(-90)" class="tk">10<tspan dy="-2.8" font-size="5">3</tspan></text>
<text x="505.30" y="359.90" class="tk">10<tspan dy="-2.8" font-size="5">4</tspan></text>
<text transform="translate(424.50 271.90) rotate(-90)" class="tk">10<tspan dy="-2.8" font-size="5">4</tspan></text>
<text transform="translate(410.90 326.40) rotate(-90)" class="lb" word-spacing="1.18" textLength="47.2" lengthAdjust="spacingAndGlyphs">B220 APC</text>
<text x="453.10" y="371.20" class="lb" word-spacing="0.66" textLength="43.8" lengthAdjust="spacingAndGlyphs">NK1.1 PE</text>
<path class="dots" d="M434 329.5h1M444 348.5h1M442 338.5h1M442 333.5h1M436 340.5h1M444 329.5h1M433 341.5h1M430 340.5h1M445 344.5h1M432 330.5h1M430 335.5h1M443 333.5h1M437 336.5h1M445 340.5h1M437 348.5h1M440 332.5h1M437 328.5h1M438 344.5h1M434 335.5h1M431 335.5h1M438 348.5h1M437 337.5h1M440 334.5h1M431 331.5h1M434 337.5h1M431 348.5h1M430 337.5h1M434 328.5h1M432 337.5h1M433 335.5h1M439 348.5h1M438 331.5h1M434 341.5h1M430 347.5h1M445 330.5h1M446 342.5h1M435 330.5h1M440 342.5h1M432 344.5h1M440 328.5h1M433 348.5h1M438 339.5h1M445 335.5h1M442 328.5h1M434 337.5h1M444 339.5h1M434 343.5h1M441 342.5h1M434 343.5h1M444 338.5h1M432 347.5h1M433 331.5h1M440 329.5h1M430 340.5h1M442 334.5h1M435 328.5h1M443 332.5h1M434 338.5h1M440 347.5h1M438 340.5h1M443 343.5h1M434 347.5h1M430 346.5h1M444 338.5h1M434 333.5h1M443 348.5h1M435 343.5h1M435 347.5h1M434 334.5h1M442 334.5h1M432 344.5h1M441 333.5h1M437 339.5h1M438 330.5h1M443 330.5h1M430 330.5h1M441 333.5h1M439 327.5h1M434 335.5h1M430 334.5h1M444 347.5h1M439 338.5h1M446 333.5h1M439 331.5h1M436 346.5h1M440 328.5h1M445 342.5h1M433 345.5h1M446 348.5h1M435 342.5h1M437 331.5h1M439 338.5h1M432 348.5h1M434 340.5h1M435 338.5h1M435 332.5h1M430 335.5h1M442 344.5h1M444 334.5h1M434 336.5h1M430 347.5h1M440 334.5h1M437 335.5h1M432 330.5h1M444 335.5h1M440 332.5h1M443 341.5h1M431 334.5h1M436 348.5h1M440 333.5h1M436 348.5h1M443 336.5h1M445 337.5h1M442 347.5h1M436 340.5h1M436 344.5h1M438 332.5h1M432 340.5h1M440 338.5h1M442 346.5h1M431 335.5h1M442 343.5h1M440 330.5h1M441 331.5h1M432 347.5h1M441 344.5h1M433 346.5h1M437 329.5h1M444 334.5h1M441 348.5h1M436 336.5h1M444 333.5h1M432 348.5h1M432 344.5h1M443 344.5h1M436 346.5h1M442 346.5h1M430 335.5h1M431 346.5h1M437 334.5h1M436 339.5h1M441 346.5h1M439 338.5h1M444 329.5h1M430 329.5h1M437 327.5h1M440 336.5h1M431 346.5h1M444 345.5h1M441 332.5h1M437 336.5h1M440 329.5h1M434 330.5h1M437 334.5h1M433 331.5h1M430 338.5h1M433 329.5h1M442 338.5h1M435 336.5h1M441 327.5h1M444 331.5h1M432 336.5h1M441 345.5h1M437 346.5h1M440 329.5h1M444 348.5h1M442 335.5h1M443 334.5h1M432 341.5h1M443 344.5h1M445 336.5h1M445 328.5h1M443 338.5h1M443 335.5h1M439 339.5h1M445 344.5h1M442 335.5h1M431 333.5h1M436 337.5h1M432 330.5h1M442 337.5h1M432 344.5h1M435 329.5h1M437 328.5h1M434 343.5h1M432 340.5h1M430 329.5h1M435 336.5h1M433 336.5h1M432 330.5h1M439 345.5h1M446 345.5h1M433 334.5h1M446 340.5h1M435 343.5h1M445 345.5h1M439 344.5h1M439 329.5h1M432 340.5h1M464 346.5h1M434 342.5h1M434 345.5h1M433 329.5h1M440 343.5h1M431 341.5h1M439 340.5h1M434 348.5h1M434 336.5h1M432 342.5h1M430 330.5h1M433 340.5h1M431 342.5h1M431 344.5h1M450 339.5h1M455 329.5h1M433 327.5h1M442 338.5h1M433 331.5h1M433 344.5h1M430 330.5h1M431 336.5h1M430 342.5h1M451 333.5h1M443 337.5h1M432 339.5h1M431 337.5h1M431 327.5h1M433 342.5h1M434 344.5h1M431 335.5h1M447 335.5h1M430 344.5h1M439 341.5h1M438 340.5h1M430 342.5h1M437 348.5h1M438 348.5h1M432 342.5h1M432 329.5h1M435 336.5h1M432 329.5h1M435 338.5h1M434 336.5h1M434 340.5h1M436 333.5h1M432 335.5h1M434 347.5h1M435 341.5h1M443 337.5h1M431 338.5h1M450 348.5h1M430 342.5h1M432 333.5h1M432 339.5h1M440 332.5h1M447 343.5h1M432 334.5h1M434 348.5h1M438 332.5h1M479 337.5h1M440 327.5h1M438 336.5h1M430 337.5h1M437 345.5h1M452 329.5h1M440 345.5h1M434 340.5h1M433 328.5h1M434 346.5h1M437 330.5h1M435 334.5h1M444 346.5h1M437 334.5h1M434 336.5h1M440 328.5h1M430 329.5h1M433 346.5h1M430 327.5h1M435 346.5h1M442 331.5h1M434 339.5h1M441 329.5h1M435 339.5h1M431 348.5h1M433 329.5h1M453 342.5h1M441 333.5h1M431 330.5h1M430 341.5h1M436 334.5h1M431 341.5h1M439 331.5h1M433 327.5h1M472 344.5h1M430 331.5h1M430 328.5h1M434 340.5h1M436 346.5h1M434 336.5h1M431 334.5h1M459 342.5h1M438 348.5h1M436 336.5h1M434 345.5h1M430 340.5h1M431 333.5h1M449 346.5h1M434 337.5h1M442 344.5h1M440 335.5h1M435 339.5h1M430 335.5h1M432 343.5h1M433 334.5h1M431 346.5h1M432 336.5h1M431 348.5h1M432 334.5h1M436 330.5h1M435 336.5h1M430 338.5h1M431 329.5h1M430 333.5h1M436 329.5h1M430 335.5h1M446 330.5h1M433 328.5h1M440 341.5h1M442 328.5h1M431 329.5h1M430 343.5h1M436 345.5h1M434 338.5h1M443 330.5h1M430 347.5h1M436 333.5h1M437 339.5h1M440 331.5h1M438 348.5h1M438 334.5h1M432 342.5h1M433 335.5h1M430 347.5h1M431 327.5h1M436 329.5h1M438 340.5h1M434 339.5h1M431 328.5h1M430 333.5h1M432 338.5h1M430 346.5h1M442 343.5h1M431 335.5h1M437 330.5h1M446 345.5h1M451 335.5h1M436 340.5h1M435 330.5h1M435 347.5h1M434 348.5h1M461 333.5h1M435 346.5h1M442 331.5h1M433 329.5h1M437 334.5h1M431 329.5h1M433 334.5h1M437 329.5h1M438 328.5h1M433 347.5h1M433 347.5h1M432 348.5h1M449 334.5h1M430 327.5h1M430 330.5h1M439 345.5h1M440 327.5h1M436 330.5h1M437 346.5h1M441 344.5h1M430 346.5h1M436 332.5h1M438 330.5h1M430 344.5h1M435 329.5h1M452 340.5h1M435 333.5h1M434 334.5h1M452 342.5h1M438 329.5h1M434 342.5h1M431 330.5h1M437 342.5h1M433 342.5h1M443 346.5h1M434 339.5h1M432 337.5h1M448 340.5h1M440 331.5h1M431 328.5h1M441 345.5h1M432 335.5h1M431 347.5h1M439 330.5h1M433 344.5h1M432 340.5h1M431 343.5h1M437 342.5h1M441 330.5h1M443 342.5h1M434 343.5h1M432 331.5h1M430 338.5h1M434 333.5h1M435 334.5h1M432 347.5h1M435 333.5h1M441 348.5h1M437 334.5h1M432 333.5h1M434 335.5h1M440 336.5h1M447 332.5h1M436 329.5h1M433 342.5h1M433 333.5h1M432 333.5h1M433 339.5h1M430 330.5h1M436 327.5h1M430 339.5h1M434 328.5h1M431 340.5h1M430 333.5h1M431 348.5h1M437 331.5h1M442 345.5h1M431 330.5h1M435 347.5h1M432 336.5h1M453 348.5h1M434 338.5h1M457 339.5h1M449 328.5h1M435 329.5h1M443 335.5h1M432 336.5h1M430 329.5h1M435 337.5h1M432 339.5h1M468 347.5h1M432 330.5h1M432 339.5h1M436 344.5h1M430 345.5h1M433 341.5h1M434 336.5h1M439 331.5h1M442 340.5h1M434 328.5h1M440 348.5h1M430 339.5h1M432 346.5h1M432 343.5h1M437 347.5h1M443 329.5h1M430 343.5h1M432 338.5h1M448 345.5h1M441 342.5h1M459 330.5h1M445 342.5h1M439 344.5h1M439 344.5h1M445 329.5h1M430 335.5h1M430 333.5h1M435 345.5h1M435 340.5h1M445 344.5h1M430 344.5h1M443 343.5h1M430 336.5h1M432 343.5h1M434 348.5h1M439 330.5h1M445 341.5h1M440 337.5h1M443 346.5h1M434 342.5h1M434 347.5h1M430 346.5h1M437 342.5h1M442 341.5h1M430 345.5h1M433 345.5h1M448 343.5h1M442 337.5h1M445 334.5h1M437 333.5h1M439 348.5h1M431 348.5h1M450 348.5h1M432 344.5h1M434 343.5h1M436 347.5h1M443 341.5h1M434 344.5h1M432 337.5h1M430 344.5h1M431 341.5h1M433 346.5h1M436 346.5h1M433 340.5h1M433 335.5h1M441 345.5h1M431 336.5h1M435 348.5h1M444 341.5h1M435 345.5h1M444 345.5h1M436 333.5h1M439 347.5h1M430 346.5h1M433 339.5h1M442 337.5h1M435 347.5h1M430 345.5h1M437 346.5h1M431 341.5h1M432 345.5h1M445 346.5h1M430 346.5h1M438 343.5h1M431 339.5h1M446 342.5h1M430 348.5h1M447 345.5h1M435 332.5h1M430 347.5h1M432 340.5h1M435 331.5h1M433 345.5h1M431 340.5h1M437 348.5h1M439 343.5h1M433 344.5h1M431 348.5h1M431 344.5h1M433 331.5h1M434 335.5h1M432 342.5h1M436 343.5h1M431 345.5h1M433 348.5h1M443 329.5h1M440 341.5h1M431 341.5h1M442 340.5h1M447 345.5h1M432 338.5h1M431 344.5h1M430 346.5h1M431 344.5h1M439 347.5h1M433 345.5h1M437 348.5h1M438 335.5h1M431 344.5h1M441 339.5h1M438 341.5h1M443 337.5h1M433 333.5h1M439 347.5h1M431 344.5h1M444 346.5h1M430 344.5h1M442 346.5h1M435 347.5h1M437 339.5h1M442 342.5h1M430 344.5h1M434 348.5h1M430 342.5h1M431 346.5h1M435 348.5h1M436 336.5h1M432 339.5h1M443 346.5h1M438 342.5h1M444 347.5h1M436 347.5h1M439 343.5h1M439 342.5h1M434 347.5h1M430 336.5h1M432 348.5h1M432 340.5h1M448 344.5h1M432 339.5h1M434 335.5h1M431 339.5h1M434 339.5h1M432 340.5h1M431 336.5h1M435 344.5h1M434 348.5h1M432 338.5h1M431 332.5h1M432 342.5h1M431 343.5h1M432 338.5h1M434 347.5h1M441 345.5h1M436 330.5h1M450 332.5h1M432 340.5h1M430 347.5h1M440 339.5h1M440 345.5h1M431 335.5h1M434 327.5h1M432 348.5h1M443 331.5h1M438 345.5h1M438 337.5h1M431 340.5h1M430 333.5h1M431 344.5h1M432 347.5h1M446 344.5h1M431 347.5h1M442 333.5h1M433 342.5h1M431 348.5h1M431 343.5h1M438 329.5h1M435 334.5h1M440 340.5h1M435 343.5h1M438 347.5h1M435 345.5h1M431 348.5h1M435 344.5h1M439 348.5h1M446 344.5h1M431 333.5h1M431 345.5h1M442 336.5h1M431 341.5h1M433 342.5h1M433 342.5h1M437 334.5h1M435 343.5h1M432 331.5h1M430 336.5h1M430 341.5h1M439 336.5h1M445 342.5h1M430 344.5h1M431 338.5h1M437 348.5h1M432 348.5h1M430 341.5h1M443 328.5h1M440 335.5h1M430 340.5h1M432 348.5h1M433 333.5h1M438 331.5h1M440 346.5h1M435 348.5h1M430 339.5h1M434 343.5h1M443 331.5h1M435 339.5h1M431 342.5h1M437 344.5h1M436 348.5h1M444 340.5h1M434 343.5h1M441 346.5h1M435 348.5h1M437 333.5h1M430 344.5h1M432 348.5h1M431 345.5h1M437 344.5h1M435 347.5h1M435 348.5h1M436 333.5h1M431 344.5h1M433 340.5h1M433 343.5h1M432 337.5h1M433 335.5h1M430 347.5h1M434 348.5h1M438 347.5h1M435 333.5h1M438 342.5h1M430 328.5h1M443 330.5h1M435 348.5h1M434 342.5h1M436 346.5h1M435 347.5h1M432 346.5h1M430 342.5h1M438 332.5h1M445 347.5h1M432 343.5h1M434 339.5h1M444 340.5h1M433 343.5h1M437 348.5h1M433 342.5h1M444 346.5h1M448 346.5h1M448 338.5h1M436 334.5h1M441 329.5h1M438 340.5h1M432 340.5h1M435 344.5h1M440 347.5h1M444 341.5h1M433 341.5h1M437 348.5h1M433 343.5h1M432 343.5h1M431 348.5h1M435 338.5h1M430 341.5h1M433 346.5h1M441 338.5h1M431 348.5h1M433 341.5h1M437 335.5h1M443 344.5h1M440 347.5h1M430 343.5h1M433 336.5h1M437 348.5h1M434 341.5h1M431 331.5h1M431 347.5h1M440 348.5h1M430 342.5h1M431 346.5h1M431 346.5h1M433 334.5h1M430 342.5h1M430 335.5h1M438 348.5h1M432 336.5h1M431 346.5h1M432 339.5h1M436 345.5h1M433 329.5h1M444 348.5h1M433 347.5h1M439 347.5h1M437 346.5h1M430 348.5h1M436 346.5h1M440 347.5h1M441 348.5h1M444 348.5h1M437 348.5h1M433 347.5h1M439 348.5h1M434 348.5h1M434 346.5h1M431 347.5h1M439 348.5h1M432 347.5h1M445 347.5h1M441 348.5h1M441 346.5h1M441 348.5h1M432 346.5h1M431 348.5h1M440 348.5h1M434 347.5h1M440 346.5h1M439 348.5h1M439 347.5h1M434 347.5h1M444 348.5h1M445 348.5h1M436 348.5h1M435 348.5h1M433 347.5h1M437 346.5h1M436 347.5h1M443 347.5h1M435 348.5h1M443 347.5h1M440 348.5h1M435 348.5h1M440 346.5h1M431 348.5h1M443 347.5h1M439 347.5h1M442 348.5h1M434 347.5h1M439 348.5h1M433 348.5h1M431 347.5h1M452 330.5h1M446 335.5h1M450 343.5h1M446 331.5h1M448 348.5h1M444 329.5h1M446 347.5h1M453 329.5h1M450 348.5h1M448 345.5h1M445 342.5h1M445 329.5h1M450 340.5h1M446 331.5h1M445 343.5h1M445 333.5h1M451 338.5h1M443 332.5h1M447 335.5h1M446 333.5h1M447 345.5h1M446 346.5h1M451 346.5h1M448 330.5h1M451 337.5h1M444 344.5h1M448 340.5h1M445 333.5h1M448 336.5h1M453 334.5h1M443 333.5h1M445 331.5h1M450 340.5h1M450 344.5h1M444 329.5h1M448 330.5h1M447 342.5h1M446 333.5h1M452 337.5h1M448 335.5h1M430 329.5h1M430 332.5h1M431 334.5h1M430 329.5h1M431 340.5h1M430 342.5h1M430 333.5h1M430 340.5h1M430 347.5h1M430 337.5h1M430 332.5h1M430 339.5h1M431 346.5h1M430 330.5h1M430 327.5h1M430 338.5h1M430 341.5h1M430 343.5h1M430 343.5h1M430 329.5h1M430 346.5h1M433 343.5h1M430 335.5h1M431 341.5h1M432 331.5h1M430 332.5h1M433 347.5h1M430 337.5h1M433 348.5h1M431 329.5h1M431 330.5h1M431 341.5h1M430 347.5h1M432 334.5h1M430 330.5h1M430 333.5h1M431 344.5h1M430 336.5h1M431 332.5h1M430 335.5h1M431 309.5h1M430 300.5h1M430 302.5h1M431 321.5h1M431 310.5h1M430 299.5h1M430 305.5h1M431 324.5h1M430 322.5h1M430 308.5h1M430 301.5h1M430 303.5h1M431 305.5h1M430 305.5h1M430 313.5h1M430 314.5h1M431 315.5h1M432 299.5h1M437 317.5h1M431 322.5h1M430 308.5h1M430 300.5h1M430 311.5h1M432 309.5h1M430 309.5h1M430 307.5h1M430 319.5h1M431 323.5h1M431 312.5h1M432 321.5h1M431 309.5h1M430 304.5h1M434 310.5h1M435 321.5h1M430 319.5h1M431 318.5h1M430 302.5h1M430 307.5h1M433 321.5h1M430 323.5h1M432 303.5h1M433 310.5h1M433 321.5h1M431 313.5h1M431 320.5h1M431 306.5h1M431 305.5h1M430 300.5h1M431 308.5h1M431 316.5h1M430 310.5h1M435 304.5h1M431 300.5h1M434 313.5h1M431 300.5h1M430 309.5h1M431 317.5h1M432 307.5h1M433 299.5h1M435 301.5h1M434 302.5h1M431 306.5h1M430 306.5h1M433 316.5h1M431 308.5h1M430 309.5h1M430 313.5h1M430 299.5h1M430 320.5h1M434 319.5h1M431 306.5h1M431 324.5h1M431 309.5h1M431 321.5h1M431 314.5h1M431 301.5h1M431 312.5h1M431 316.5h1M430 311.5h1M431 313.5h1M431 314.5h1M430 323.5h1M430 303.5h1M433 320.5h1M432 305.5h1M430 315.5h1M431 318.5h1M430 319.5h1M433 317.5h1M430 322.5h1M431 305.5h1M432 302.5h1M431 315.5h1M430 315.5h1M432 315.5h1M431 307.5h1M430 300.5h1M430 299.5h1M431 304.5h1M431 304.5h1M433 317.5h1M430 315.5h1M433 314.5h1M431 304.5h1M432 301.5h1M433 311.5h1M431 319.5h1M430 314.5h1M431 301.5h1M430 306.5h1M435 308.5h1M443 299.5h1M433 320.5h1M432 309.5h1M437 322.5h1M445 318.5h1M443 318.5h1M442 321.5h1M433 299.5h1M443 321.5h1M442 305.5h1M443 319.5h1M435 302.5h1M443 317.5h1M437 318.5h1M435 305.5h1M442 306.5h1M432 306.5h1M444 301.5h1M446 302.5h1M436 299.5h1M441 306.5h1M435 323.5h1M443 312.5h1M442 313.5h1M441 309.5h1M441 301.5h1M444 305.5h1M438 301.5h1M436 320.5h1M440 297.5h1M434 313.5h1M443 307.5h1M436 296.5h1M441 300.5h1M445 304.5h1M445 296.5h1M445 308.5h1M432 310.5h1M445 306.5h1M441 307.5h1M435 311.5h1M438 300.5h1M447 311.5h1M447 300.5h1M443 287.5h1M442 288.5h1M451 289.5h1M441 288.5h1M440 284.5h1M483 311.5h1M484 339.5h1M475 320.5h1M477 326.5h1M477 330.5h1M482 342.5h1M482 336.5h1M468 325.5h1M487 331.5h1M473 314.5h1M481 339.5h1M481 337.5h1M483 333.5h1M481 333.5h1M488 313.5h1M476 340.5h1M487 344.5h1M475 326.5h1M468 341.5h1M485 317.5h1M488 321.5h1M463 338.5h1M488 319.5h1M470 310.5h1M468 346.5h1M463 324.5h1M486 344.5h1M474 317.5h1M470 331.5h1M469 327.5h1M469 322.5h1M478 323.5h1M461 322.5h1M462 323.5h1M471 319.5h1"/>
</g>
</g></svg></body></html>
